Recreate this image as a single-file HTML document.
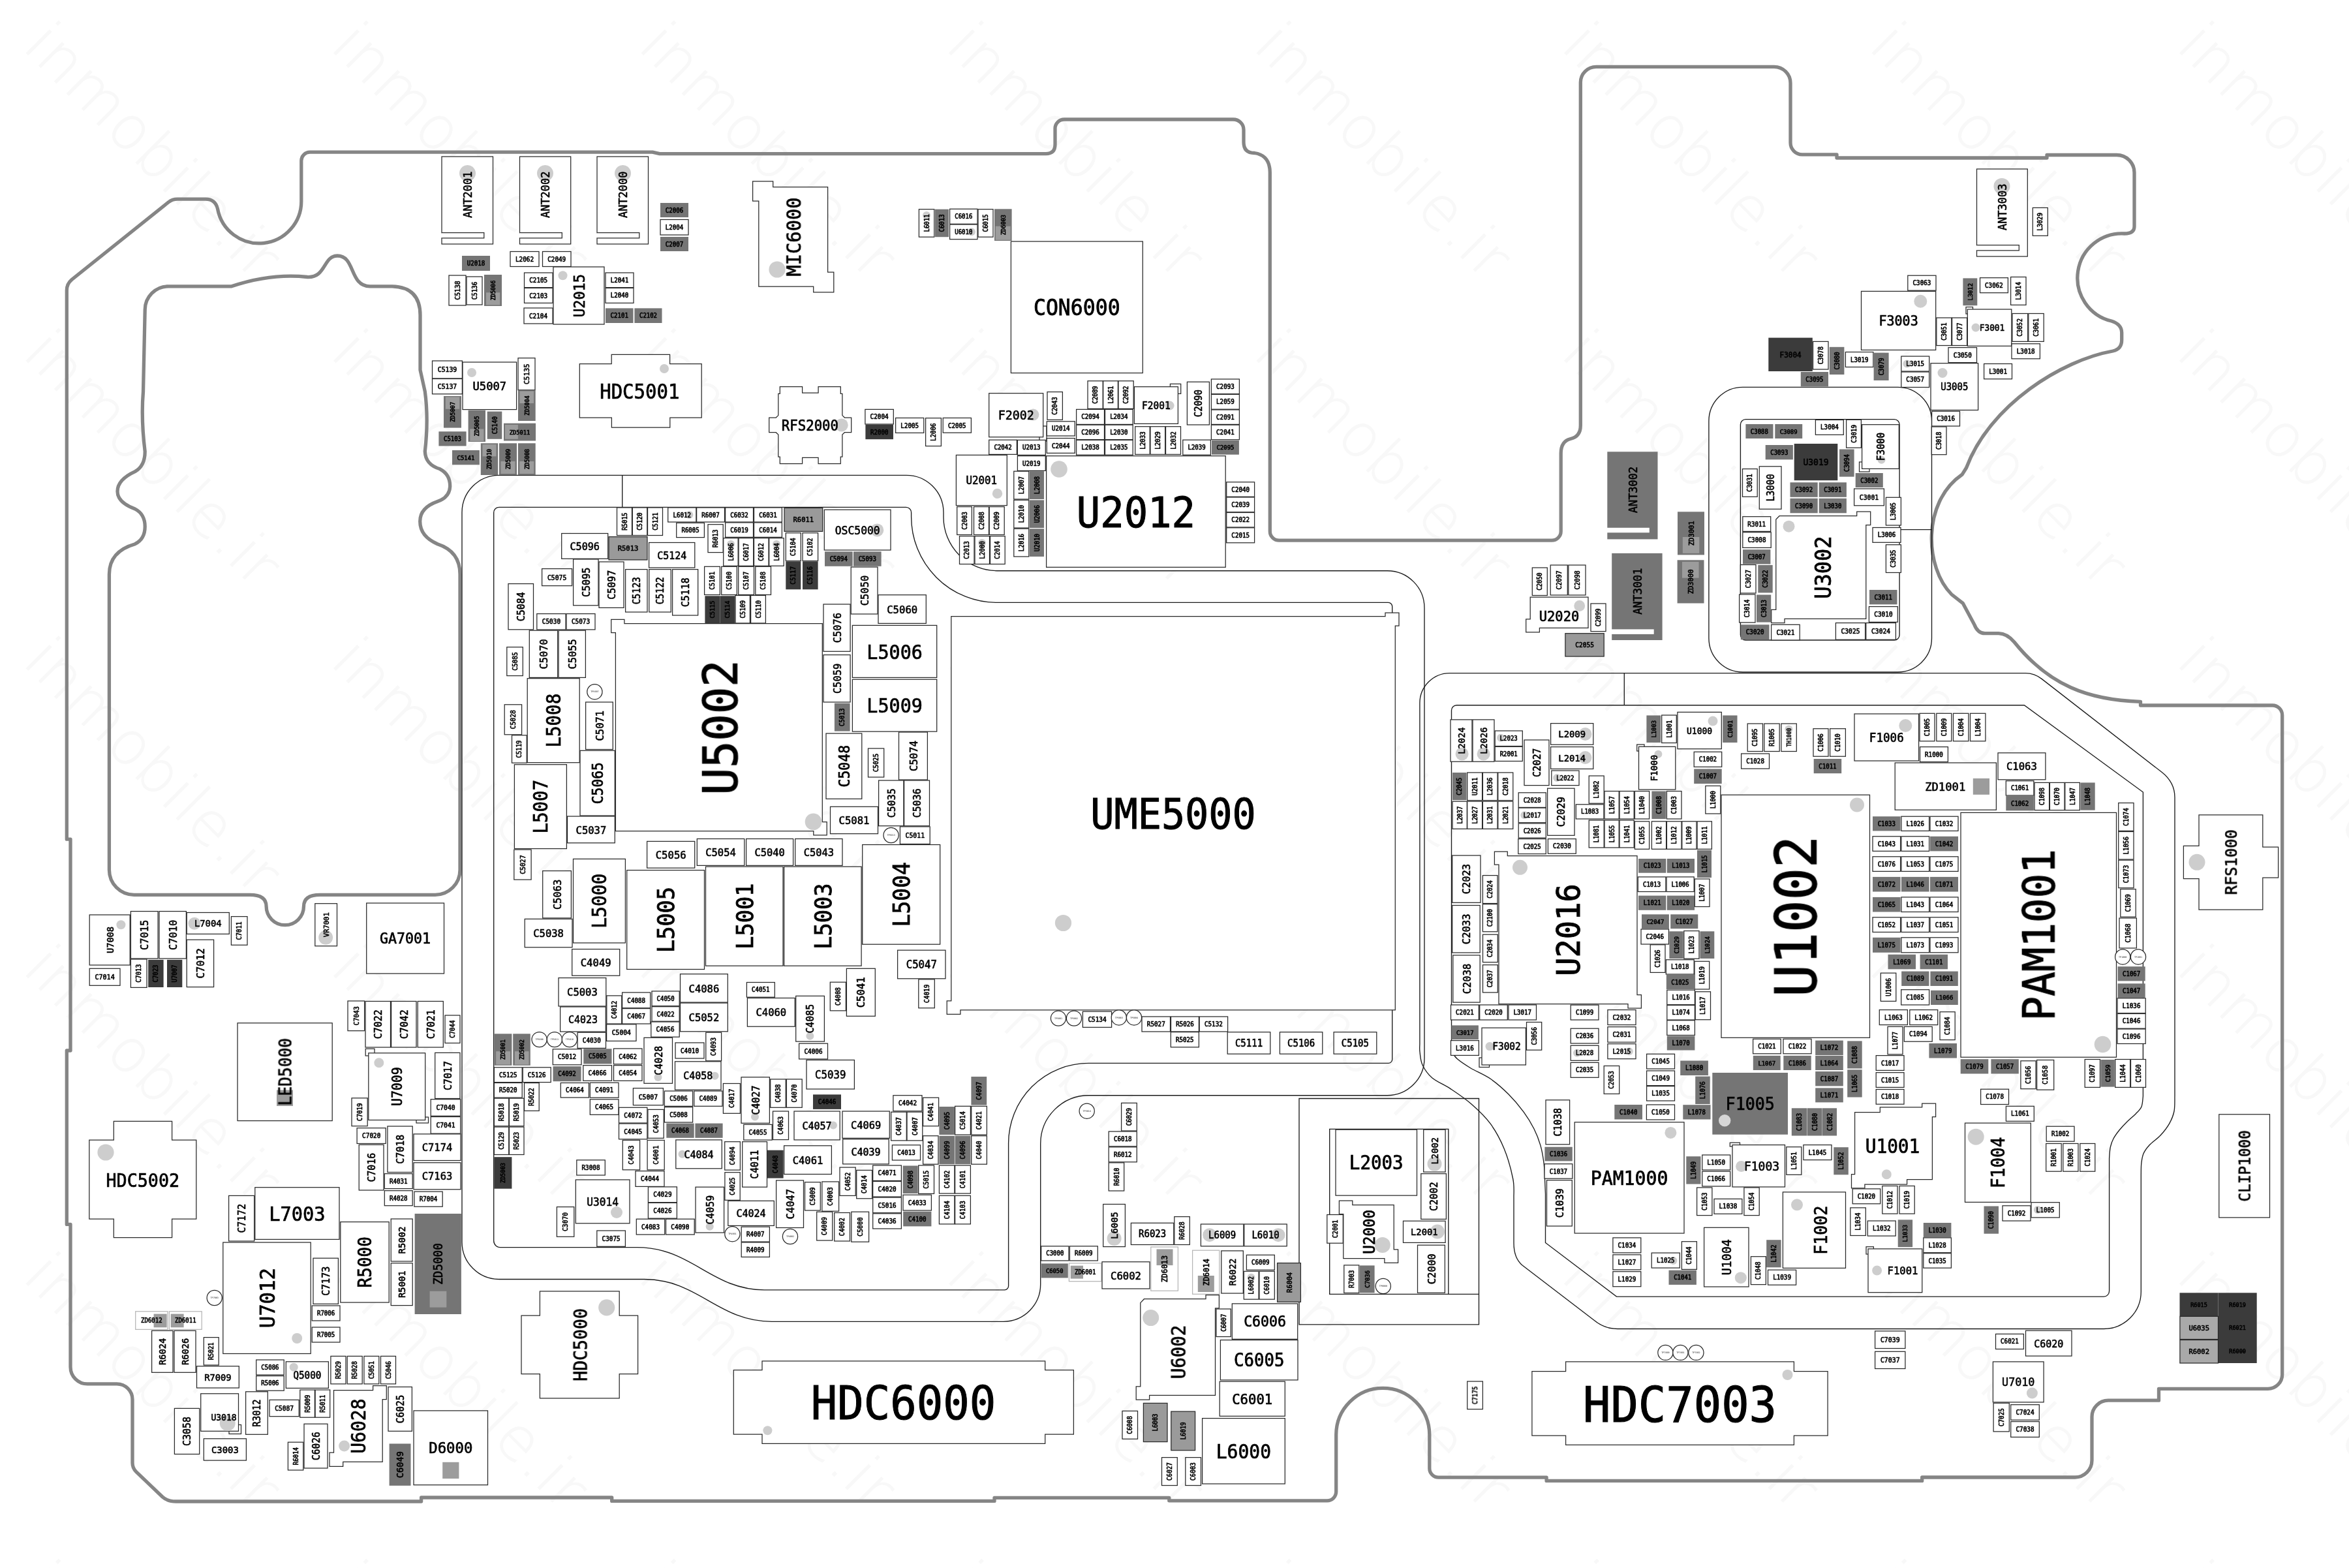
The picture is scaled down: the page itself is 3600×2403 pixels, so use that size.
<!DOCTYPE html><html><head><meta charset="utf-8"><title>board</title>
<style>html,body{margin:0;padding:0;background:#fff}svg{display:block}
.c rect,.c polygon,.c circle,.c path{stroke:#2a2a2a;stroke-width:1.25}
.c .n{stroke:none}.c .g{stroke:#b5b5b5}
.t text{font-family:DejaVu Sans Mono,Liberation Mono,monospace;fill:#000;stroke:#000;text-anchor:middle}
.tp text{font-family:DejaVu Sans Mono,Liberation Mono,monospace;fill:#222}
.wm text{font-family:DejaVu Sans Light,DejaVu Sans,Liberation Sans,sans-serif;font-weight:200;font-size:92px;fill:#f8f8f8;stroke:#f8f8f8;stroke-width:1}
.th path{fill:none;stroke:#1c1c1c;stroke-width:1.35}
.ol path{fill:none;stroke:#858585;stroke-width:5.3;stroke-linejoin:round}
</style></head><body>
<svg width="3600" height="2403" viewBox="0 0 3600 2403">
<rect width="3600" height="2403" fill="#fff"/>
<g class="wm">
<text transform="translate(33,74) rotate(45)" textLength="507" lengthAdjust="spacing">inmobile.ir</text>
<text transform="translate(504.5,74) rotate(45)" textLength="507" lengthAdjust="spacing">inmobile.ir</text>
<text transform="translate(976,74) rotate(45)" textLength="507" lengthAdjust="spacing">inmobile.ir</text>
<text transform="translate(1447.5,74) rotate(45)" textLength="507" lengthAdjust="spacing">inmobile.ir</text>
<text transform="translate(1919,74) rotate(45)" textLength="507" lengthAdjust="spacing">inmobile.ir</text>
<text transform="translate(2390.5,74) rotate(45)" textLength="507" lengthAdjust="spacing">inmobile.ir</text>
<text transform="translate(2862,74) rotate(45)" textLength="507" lengthAdjust="spacing">inmobile.ir</text>
<text transform="translate(3333.5,74) rotate(45)" textLength="507" lengthAdjust="spacing">inmobile.ir</text>
<text transform="translate(33,545.5) rotate(45)" textLength="507" lengthAdjust="spacing">inmobile.ir</text>
<text transform="translate(504.5,545.5) rotate(45)" textLength="507" lengthAdjust="spacing">inmobile.ir</text>
<text transform="translate(976,545.5) rotate(45)" textLength="507" lengthAdjust="spacing">inmobile.ir</text>
<text transform="translate(1447.5,545.5) rotate(45)" textLength="507" lengthAdjust="spacing">inmobile.ir</text>
<text transform="translate(1919,545.5) rotate(45)" textLength="507" lengthAdjust="spacing">inmobile.ir</text>
<text transform="translate(2390.5,545.5) rotate(45)" textLength="507" lengthAdjust="spacing">inmobile.ir</text>
<text transform="translate(2862,545.5) rotate(45)" textLength="507" lengthAdjust="spacing">inmobile.ir</text>
<text transform="translate(3333.5,545.5) rotate(45)" textLength="507" lengthAdjust="spacing">inmobile.ir</text>
<text transform="translate(33,1017) rotate(45)" textLength="507" lengthAdjust="spacing">inmobile.ir</text>
<text transform="translate(504.5,1017) rotate(45)" textLength="507" lengthAdjust="spacing">inmobile.ir</text>
<text transform="translate(976,1017) rotate(45)" textLength="507" lengthAdjust="spacing">inmobile.ir</text>
<text transform="translate(1447.5,1017) rotate(45)" textLength="507" lengthAdjust="spacing">inmobile.ir</text>
<text transform="translate(1919,1017) rotate(45)" textLength="507" lengthAdjust="spacing">inmobile.ir</text>
<text transform="translate(2390.5,1017) rotate(45)" textLength="507" lengthAdjust="spacing">inmobile.ir</text>
<text transform="translate(2862,1017) rotate(45)" textLength="507" lengthAdjust="spacing">inmobile.ir</text>
<text transform="translate(3333.5,1017) rotate(45)" textLength="507" lengthAdjust="spacing">inmobile.ir</text>
<text transform="translate(33,1488.5) rotate(45)" textLength="507" lengthAdjust="spacing">inmobile.ir</text>
<text transform="translate(504.5,1488.5) rotate(45)" textLength="507" lengthAdjust="spacing">inmobile.ir</text>
<text transform="translate(976,1488.5) rotate(45)" textLength="507" lengthAdjust="spacing">inmobile.ir</text>
<text transform="translate(1447.5,1488.5) rotate(45)" textLength="507" lengthAdjust="spacing">inmobile.ir</text>
<text transform="translate(1919,1488.5) rotate(45)" textLength="507" lengthAdjust="spacing">inmobile.ir</text>
<text transform="translate(2390.5,1488.5) rotate(45)" textLength="507" lengthAdjust="spacing">inmobile.ir</text>
<text transform="translate(2862,1488.5) rotate(45)" textLength="507" lengthAdjust="spacing">inmobile.ir</text>
<text transform="translate(3333.5,1488.5) rotate(45)" textLength="507" lengthAdjust="spacing">inmobile.ir</text>
<text transform="translate(33,1960) rotate(45)" textLength="507" lengthAdjust="spacing">inmobile.ir</text>
<text transform="translate(504.5,1960) rotate(45)" textLength="507" lengthAdjust="spacing">inmobile.ir</text>
<text transform="translate(976,1960) rotate(45)" textLength="507" lengthAdjust="spacing">inmobile.ir</text>
<text transform="translate(1447.5,1960) rotate(45)" textLength="507" lengthAdjust="spacing">inmobile.ir</text>
<text transform="translate(1919,1960) rotate(45)" textLength="507" lengthAdjust="spacing">inmobile.ir</text>
<text transform="translate(2390.5,1960) rotate(45)" textLength="507" lengthAdjust="spacing">inmobile.ir</text>
<text transform="translate(2862,1960) rotate(45)" textLength="507" lengthAdjust="spacing">inmobile.ir</text>
<text transform="translate(3333.5,1960) rotate(45)" textLength="507" lengthAdjust="spacing">inmobile.ir</text>
<text transform="translate(33,2431.5) rotate(45)" textLength="507" lengthAdjust="spacing">inmobile.ir</text>
<text transform="translate(504.5,2431.5) rotate(45)" textLength="507" lengthAdjust="spacing">inmobile.ir</text>
<text transform="translate(976,2431.5) rotate(45)" textLength="507" lengthAdjust="spacing">inmobile.ir</text>
<text transform="translate(1447.5,2431.5) rotate(45)" textLength="507" lengthAdjust="spacing">inmobile.ir</text>
<text transform="translate(1919,2431.5) rotate(45)" textLength="507" lengthAdjust="spacing">inmobile.ir</text>
<text transform="translate(2390.5,2431.5) rotate(45)" textLength="507" lengthAdjust="spacing">inmobile.ir</text>
<text transform="translate(2862,2431.5) rotate(45)" textLength="507" lengthAdjust="spacing">inmobile.ir</text>
<text transform="translate(3333.5,2431.5) rotate(45)" textLength="507" lengthAdjust="spacing">inmobile.ir</text>
</g>
<g class="ol"><path d="M475 233.2H1000L1011 235.6H1603Q1617 235.6 1617 221.6V197A14 14 0 0 1 1631 183H1890A16 16 0 0 1 1906 199V218Q1906 234.5 1922.6 234.5Q1946 238 1946.3 264V814.2A14 14 0 0 0 1960.3 828.2H2378.2A14 14 0 0 0 2392.2 814.2V695Q2392.2 676 2407 672.5Q2422.3 669 2422.3 652V126.3A24 24 0 0 1 2446.3 102.3H2719A25 25 0 0 1 2744 127.3V218.8A18 18 0 0 0 2762 236.8H2815V242H3137V237.5H3244A27 27 0 0 1 3271 264.5V347Q3271 358 3256 358A68 68 0 0 0 3236 492Q3251.7 497 3251.7 510V521Q3251.7 535 3238 538C3160 552 3050 620 3013.5 717L3007 727.3C2945 770 2950 870 2991 911L3008.4 924.7L3025.7 957Q3031 970.7 3042 970.7H3063Q3076 971 3087 984C3140 1050 3200 1073 3280.5 1075.3V1081H3482.7A15 15 0 0 1 3497.7 1096V2106.4A22 22 0 0 1 3475.7 2128.4H3308.5V2146.2H3231A25 25 0 0 0 3206 2171.2V2238A26 26 0 0 1 3180 2264H2945.7V2269.4H2370.1V2264.2H2205A14 14 0 0 1 2190.8 2250V2199A71.55 71.55 0 0 0 2047.7 2199V2286A13.8 13.8 0 0 1 2033.9 2299.8H1791.8V2295.4H1524V2300.4H937.7V2295H645.6V2301H270Q257 2301 249 2294L208.8 2255.7Q203 2250 203 2242V2145A24 24 0 0 0 179 2120.9H134A26 26 0 0 1 108 2094.9V1876.4H102.3V1610H108V1286.2H102.3V445Q102.3 435 110 428.5L258 310Q264 305.1 272 305.1H315Q330 305.1 333.5 320A64.7 64.7 0 0 0 461.8 306.8V246.2A13 13 0 0 1 474.8 233.2Z"/><path d="M222.2 475A36 36 0 0 1 258.2 438.8H354.9C390 427 430 420 471 424.5C500 426 495 392 517 392C545 392 535 438.8 567 438.8H601Q644 440 644 483V567L651.3 600Q657 642 651.3 692Q652 712 674.3 718.8Q690 727 689.7 745.6Q689 762 670.5 768.6Q643.7 778 643.7 799Q643.7 822 670.5 833.7Q705 845 705 880V1333.3A38 38 0 0 1 667 1371.3H490.4Q465.5 1371.3 465.5 1389A28.7 28.7 0 0 1 408.1 1389Q408.1 1371.3 383 1371.3H205.4A38 38 0 0 1 167.4 1333.3V880Q167.4 845 207 833.7Q222.2 826 222.2 807Q222.2 788 207 780Q180 770 180 753Q180 735 207 722.6Q222.2 714 222.2 692Q216 642 219.5 600Z"/></g>
<g class="th">
<path d="M708 785.3A57 57 0 0 1 765 728.3H1389A57 57 0 0 1 1446 785.3V793A82 82 0 0 0 1528 874.7H2126A57 57 0 0 1 2183 931.7V1621.7A57 57 0 0 1 2126 1678.7H1668.7A74 74 0 0 0 1594.7 1752.7V1968A57 57 0 0 1 1537.7 2025.3H1183C1100 2025.3 1070 1960.5 987.5 1960.5H765A57 57 0 0 1 708 1903.5Z"/>
<path d="M756.7 785.4A8 8 0 0 1 764.7 777.4H1388.6A8 8 0 0 1 1396.6 785.4V792A131.4 131.4 0 0 0 1528 923.4H2127.7A6 6 0 0 1 2133.7 929.4V1623.4A6 6 0 0 1 2127.7 1629.4H1668.3A122.7 122.7 0 0 0 1545.6 1752.1V1970.8A6 6 0 0 1 1539.6 1976.8H1171.5C1090 1976.8 1060 1911.6 976 1911.6H766.7A10 10 0 0 1 756.7 1901.6Z"/>
<path d="M953.7 728.3V777.4"/>
<path d="M2175.9 1600V1077.6A46 46 0 0 1 2221.9 1031.6H3104.2Q3118 1031.6 3129 1040.4L3313 1183.3Q3333 1199 3333 1222V1680C3332.8 1683.8 3333.4 1696 3332 1703C3330.6 1710 3328.2 1715.6 3324.7 1721.8C3321.2 1728 3316.1 1734.5 3311 1740C3305.9 1745.5 3298.3 1750.3 3294 1755C3289.7 1759.7 3287 1763.3 3285 1768C3283 1772.7 3282.4 1777.7 3281.8 1783C3281.2 1788.3 3281.4 1797.2 3281.3 1800V1979.5A57 57 0 0 1 3224.3 2036.5H2479Q2459 2036.5 2443 2023.3L2333 1939Q2320 1928 2320 1905V1835C2319.8 1830.2 2321.2 1819 2318.7 1806.5C2316.2 1794 2310.8 1774 2305 1760C2299.2 1746 2292.5 1733.5 2284.2 1722.2C2275.9 1710.9 2265.2 1700.9 2255 1692C2244.8 1683.1 2233 1675.3 2223 1668.6C2213 1661.9 2202.2 1658.1 2195 1652C2187.8 1645.9 2183.2 1638.7 2180 1632C2176.8 1625.3 2176.7 1617.3 2176 1612C2175.3 1606.7 2175.9 1602 2175.9 1600Z"/>
<path d="M2224.5 1598V1088.7A8 8 0 0 1 2232.5 1080.7H3102.3L3284.4 1214V1680C3284 1682.7 3283.8 1691.6 3282 1696C3280.2 1700.4 3277.3 1702.7 3273.6 1706.5C3269.9 1710.3 3264.3 1714.8 3260 1719C3255.7 1723.2 3251.5 1727.7 3248 1732C3244.5 1736.3 3241.3 1740.7 3239 1745C3236.7 1749.3 3235.4 1753 3234.3 1758C3233.2 1763 3232.9 1772.2 3232.6 1775V1978.6A8.5 8.5 0 0 1 3224.1 1987.1H2477.5L2368.5 1904.5V1830C2368.3 1826.1 2367.9 1814.5 2367.5 1806.5C2367.1 1798.5 2367.1 1790.5 2366 1782C2364.9 1773.5 2363.4 1764.1 2360.9 1755.4C2358.4 1746.7 2355.3 1738.5 2351 1730C2346.7 1721.5 2341.8 1713.1 2335.3 1704.3C2328.8 1695.5 2320.5 1685.5 2312 1677C2303.5 1668.5 2293.9 1660 2284.2 1653.3C2274.5 1646.6 2262.5 1642.1 2254 1637C2245.5 1631.9 2237.8 1626.8 2233.1 1622.6C2228.4 1618.4 2227.4 1616.1 2226 1612C2224.6 1607.9 2224.8 1600.3 2224.5 1598Z"/>
<path d="M2489.3 1031.6V1080.7"/>
<path d="M2618.9 645.3A52 52 0 0 1 2670.9 593.3H2908.5A52 52 0 0 1 2960.5 645.3V978A52 52 0 0 1 2908.5 1030H2670.9A52 52 0 0 1 2618.9 978Z"/>
<path d="M2667.4 650.6A8 8 0 0 1 2675.4 642.6H2903.1A8 8 0 0 1 2911.1 650.6V973A8 8 0 0 1 2903.1 981H2675.4A8 8 0 0 1 2667.4 973Z"/>
<path d="M2911.1 811.6H2960.5"/>
<path d="M1991 1683.5H2266.5V2029.8H1991Z"/>
<path d="M2037.7 1730.3H2219.8V1983.3H2037.7Z"/>
<path d="M2219.8 1983.3H2266.5"/>
</g>
<g class="c">
<rect x="1593" y="653" width="11" height="23" fill="#fff"/>
<rect x="1793.4" y="588.4" width="16.3" height="15" fill="#fff"/>
<rect x="3013" y="470.5" width="10.5" height="10.5" fill="#fff"/>
<rect x="2849.5" y="708" width="15.5" height="15" fill="#fff"/>
<rect x="2508.7" y="1141" width="11.3" height="10" fill="#fff"/>
<rect x="2267" y="1621" width="15.5" height="14.5" fill="#fff"/>
<rect x="2651.3" y="1751.2" width="15.2" height="5.8" fill="#fff"/>
<rect x="2860" y="1910.7" width="11.4" height="11.3" fill="#fff"/>
<rect x="560.2" y="1607.3" width="13.8" height="10.7" fill="#fff"/>
<rect x="638" y="1712" width="18.5" height="9" fill="#fff"/>
<rect x="351" y="2183.5" width="18.5" height="14" fill="#fff"/>
<polygon points="1153.6,277.8 1184.7,277.8 1184.7,286.6 1268.6,286.6 1268.6,417.2 1277.8,417.2 1277.8,447.9 1246.7,447.9 1246.7,439 1162.8,439 1162.8,308 1153.6,308" fill="#fff"/>
<polygon points="888.3,557.5 937.2,557.5 937.2,543.3 1026.6,543.3 1026.6,557.5 1075.2,557.5 1075.2,640.2 1026.8,640.2 1026.8,655 937.4,655 937.4,640.2 888.3,640.2" fill="#fff"/>
<polygon points="1195.3,592.7 1229.6,592.7 1229.6,602.1 1254.1,602.1 1254.1,592.7 1288.3,592.7 1288.3,603.4 1290.9,603.4 1290.9,636.6 1294.4,640 1304.7,640 1304.7,662.7 1294.4,662.7 1290.9,666 1290.9,700 1288.3,700 1288.3,710.7 1254.1,710.7 1254.1,701.3 1229.6,701.3 1229.6,710.7 1195.3,710.7 1195.3,700 1192.8,700 1192.8,666 1189.2,662.7 1178.7,662.7 1178.7,640 1189.2,640 1192.8,636.6 1192.8,603.4 1195.3,603.4" fill="#fff"/>
<polygon points="936.7,949.3 956.9,949.3 956.9,955.7 1260.3,955.7 1260.3,1259.6 1267.2,1259.6 1267.2,1279.8 1246.8,1279.8 1246.8,1273.7 943.4,1273.7 943.4,969.5 936.7,969.5" fill="#fff"/>
<polygon points="1457.8,944.6 2123,944.6 2123,939 2144,939 2144,959.2 2138.3,959.2 2138.3,1547.9 1471.9,1547.9 1471.9,1554.3 1451.2,1554.3 1451.2,1533.8 1457.8,1533.8" fill="#fff"/>
<polygon points="2290.4,1305.2 2310.3,1305.2 2310.3,1311.7 2509,1311.7 2509,1524.6 2515.4,1524.6 2515.4,1545 2495,1545 2495,1538.7 2297,1538.7 2297,1325 2290.4,1325" fill="#fff"/>
<polygon points="2727,790.7 2845.7,790.7 2845.7,784 2866.7,784 2866.7,804.5 2859.8,804.5 2859.8,948.3 2735,948.3 2735,954.7 2714.7,954.7 2714.7,934.3 2721.8,934.3 2721.8,796" fill="#fff"/>
<polygon points="2345.2,915 2434,915 2434,962.3 2359.4,962.3 2359.4,968.8 2338.7,968.8 2338.7,948.9 2345.2,948.9" fill="#fff"/>
<polygon points="2052.4,1840 2072.8,1840 2072.8,1846.7 2136.2,1846.7 2136.2,1914.9 2142.6,1914.9 2142.6,1935.3 2121.9,1935.3 2121.9,1928.7 2058.8,1928.7 2058.8,1860.7 2052.4,1860.7" fill="#fff"/>
<polygon points="1747.8,1996.6 1753.4,1990.7 1848,1990.7 1848,1984.6 1868.4,1984.6 1868.4,2004.8 1862.5,2004.8 1862.5,2138.4 1761.6,2138.4 1761.6,2145 1741.2,2145 1741.2,2124.8 1747.8,2124.8" fill="#fff"/>
<polygon points="511.5,2130.5 571.6,2130.5 571.6,2123.6 592.3,2123.6 592.3,2144.6 586.2,2144.6 586.2,2240.4 525.7,2240.4 525.7,2247.3 505,2247.3 505,2226.2 511.5,2226.2" fill="#fff"/>
<polygon points="2842.6,1704.5 2881.3,1704.5 2881.3,1696.8 2945.7,1696.8 2945.7,1691.2 2966.6,1691.2 2966.6,1711.6 2961.4,1711.6 2961.4,1807.6 2922.6,1807.6 2922.6,1815.1 2857.9,1815.1 2857.9,1820.9 2837.5,1820.9 2837.5,1799.5 2842.6,1799.5" fill="#fff"/>
<polygon points="174.3,1718.4 263.6,1718.4 263.6,1747 300.8,1747 300.8,1868 263.6,1868 263.6,1896.7 174.3,1896.7 174.3,1868 136.8,1868 136.8,1747 174.3,1747" fill="#fff"/>
<polygon points="827.4,1978.9 949.2,1978.9 949.2,2016 977.6,2016 977.6,2105.7 949.2,2105.7 949.2,2142.9 827.4,2142.9 827.4,2105.7 799,2105.7 799,2016 827.4,2016" fill="#fff"/>
<polygon points="1168,2085.8 1601.7,2085.8 1601.7,2099.6 1645.4,2099.6 1645.4,2198 1601.7,2198 1601.7,2212.3 1168,2212.3 1168,2198 1124.3,2198 1124.3,2099.6 1168,2099.6" fill="#fff"/>
<polygon points="2399.6,2086.8 2749.4,2086.8 2749.4,2101.7 2801.1,2101.7 2801.1,2200.2 2749.4,2200.2 2749.4,2214.4 2399.6,2214.4 2399.6,2200.2 2347.9,2200.2 2347.9,2101.7 2399.6,2101.7" fill="#fff"/>
<polygon points="3370,1248.9 3467.8,1248.9 3467.8,1298 3491.6,1298 3491.6,1345 3467.8,1345 3467.8,1394 3370,1394 3370,1346.6 3346.4,1346.6 3346.4,1296.4 3370,1296.4" fill="#fff"/>
<rect x="677" y="240" width="78.5" height="134" fill="#ffffff"/>
<rect x="796.5" y="240" width="78.2" height="134" fill="#ffffff"/>
<rect x="915" y="240" width="78.5" height="134" fill="#ffffff"/>
<rect x="708" y="392" width="43" height="23" fill="#757575" class="n"/>
<rect x="782" y="385.5" width="44" height="23" fill="#ffffff"/>
<rect x="831.5" y="385.5" width="43.5" height="23" fill="#ffffff"/>
<rect x="688" y="422" width="26" height="46" fill="#ffffff"/>
<rect x="715" y="424" width="24" height="43" fill="#ffffff"/>
<rect x="742" y="421" width="27" height="48" fill="#757575" class="n"/>
<rect x="745" y="448.3" width="21.3" height="19.1" fill="#9c9c9c" class="n"/>
<rect x="803.5" y="418" width="43.5" height="22.6" fill="#ffffff"/>
<rect x="803.5" y="441.4" width="43.5" height="23" fill="#ffffff"/>
<rect x="803" y="472" width="44" height="24" fill="#ffffff"/>
<rect x="848" y="409" width="78" height="88" fill="#ffffff"/>
<rect x="1012" y="311" width="43" height="22" fill="#757575" class="n"/>
<rect x="1012" y="336.5" width="43" height="23.5" fill="#ffffff"/>
<rect x="1012" y="363" width="43" height="22" fill="#757575" class="n"/>
<rect x="928" y="418" width="43" height="22.6" fill="#ffffff"/>
<rect x="928" y="441.4" width="43" height="23" fill="#ffffff"/>
<rect x="928" y="472.4" width="42.5" height="22.6" fill="#757575" class="n"/>
<rect x="972.4" y="472.4" width="42.1" height="22.6" fill="#757575" class="n"/>
<rect x="662.5" y="553" width="45.9" height="27" fill="#ffffff"/>
<rect x="662.5" y="580.5" width="45.9" height="23.3" fill="#ffffff"/>
<rect x="709" y="555" width="82.6" height="72.6" fill="#ffffff"/>
<rect x="794" y="548.7" width="26" height="49" fill="#ffffff"/>
<rect x="680" y="607" width="27" height="48.6" fill="#757575" class="n"/>
<rect x="682.8" y="608.4" width="21.4" height="18.4" fill="#9c9c9c" class="n"/>
<rect x="794" y="598" width="26.7" height="47" fill="#757575" class="n"/>
<rect x="796.5" y="599.5" width="21.5" height="18.5" fill="#9c9c9c" class="n"/>
<rect x="717.6" y="628.7" width="26.4" height="48.3" fill="#757575" class="n"/>
<rect x="720.3" y="657.5" width="21.1" height="18.4" fill="#9c9c9c" class="n"/>
<rect x="746.7" y="630.6" width="22.6" height="42.2" fill="#757575" class="n"/>
<rect x="772" y="648.7" width="49" height="26.8" fill="#757575" class="n"/>
<rect x="774" y="651" width="19.9" height="21.8" fill="#9c9c9c" class="n"/>
<rect x="672.4" y="661.3" width="42.2" height="22.2" fill="#757575" class="n"/>
<rect x="693" y="690" width="41.9" height="22.3" fill="#757575" class="n"/>
<rect x="736.8" y="679.3" width="26.4" height="48.7" fill="#757575" class="n"/>
<rect x="739.5" y="681.2" width="21" height="18.2" fill="#9c9c9c" class="n"/>
<rect x="765" y="679.3" width="27" height="48.7" fill="#757575" class="n"/>
<rect x="767.5" y="707" width="22" height="19" fill="#9c9c9c" class="n"/>
<rect x="793.9" y="679.3" width="26.8" height="48.7" fill="#757575" class="n"/>
<rect x="796.3" y="707" width="22" height="19" fill="#9c9c9c" class="n"/>
<rect x="1408.4" y="320.7" width="23.4" height="42.5" fill="#ffffff"/>
<rect x="1433" y="320.7" width="21" height="42.5" fill="#757575" class="n"/>
<rect x="1455.6" y="320.3" width="42.4" height="23" fill="#ffffff"/>
<rect x="1455.6" y="344" width="42.4" height="22.7" fill="#ffffff"/>
<rect x="1499" y="320.7" width="23" height="42.5" fill="#ffffff"/>
<rect x="1524" y="320.3" width="26.6" height="48.7" fill="#757575" class="n"/>
<rect x="1525.7" y="346.7" width="23" height="21.1" fill="#9c9c9c" class="n"/>
<rect x="1549.4" y="370" width="201.9" height="201.6" fill="#ffffff"/>
<rect x="1325.9" y="627.4" width="43.4" height="22.6" fill="#ffffff"/>
<rect x="1326.4" y="650.7" width="42.6" height="22.5" fill="#3b3b3b" class="n"/>
<rect x="1372.6" y="640.5" width="43.2" height="22.9" fill="#ffffff"/>
<rect x="1418.6" y="640.7" width="23.8" height="42.9" fill="#ffffff"/>
<rect x="1445.2" y="640.5" width="43.2" height="22.7" fill="#ffffff"/>
<rect x="1515.7" y="602.7" width="83" height="67.1" fill="#ffffff"/>
<rect x="1605" y="600.6" width="23.4" height="42.7" fill="#ffffff"/>
<rect x="1604.3" y="645.8" width="43" height="22.2" fill="#ffffff"/>
<rect x="1604.3" y="671.6" width="43" height="22.8" fill="#ffffff"/>
<rect x="1515.7" y="674.2" width="42.7" height="22.2" fill="#ffffff"/>
<rect x="1559.4" y="674.4" width="42.9" height="23" fill="#ffffff"/>
<rect x="1559.4" y="698.7" width="42.9" height="22.7" fill="#ffffff"/>
<rect x="1465.4" y="697.4" width="77.9" height="77.2" fill="#ffffff"/>
<rect x="1466.7" y="776.6" width="22.7" height="42.9" fill="#ffffff"/>
<rect x="1492.5" y="776.6" width="23" height="42.9" fill="#ffffff"/>
<rect x="1516.2" y="776.6" width="23" height="42.9" fill="#ffffff"/>
<rect x="1470.5" y="821.6" width="22.5" height="42.9" fill="#ffffff"/>
<rect x="1494" y="821.6" width="22.5" height="42.9" fill="#ffffff"/>
<rect x="1517.5" y="821.6" width="22.7" height="42.9" fill="#ffffff"/>
<rect x="1553.8" y="722.2" width="23" height="42.8" fill="#ffffff"/>
<rect x="1578" y="722.2" width="22" height="42.8" fill="#757575" class="n"/>
<rect x="1553.8" y="766.4" width="23" height="42.6" fill="#ffffff"/>
<rect x="1578" y="766.4" width="22" height="42.6" fill="#757575" class="n"/>
<rect x="1553.8" y="810.3" width="23" height="42.7" fill="#ffffff"/>
<rect x="1578" y="810.3" width="22" height="42.7" fill="#757575" class="n"/>
<rect x="1603.6" y="698.7" width="274.6" height="170.6" fill="#ffffff"/>
<rect x="1667" y="583.8" width="23.2" height="42.6" fill="#ffffff"/>
<rect x="1690.7" y="583.8" width="22.7" height="42.6" fill="#ffffff"/>
<rect x="1714" y="583.8" width="23.2" height="42.6" fill="#ffffff"/>
<rect x="1649.6" y="627.4" width="42.9" height="23" fill="#ffffff"/>
<rect x="1693.5" y="627.4" width="42.7" height="23" fill="#ffffff"/>
<rect x="1649.6" y="651.2" width="42.9" height="22.5" fill="#ffffff"/>
<rect x="1693.5" y="651.2" width="42.7" height="22.5" fill="#ffffff"/>
<rect x="1649.6" y="674.4" width="42.9" height="22.8" fill="#ffffff"/>
<rect x="1693.5" y="674.4" width="42.7" height="22.8" fill="#ffffff"/>
<rect x="1738.4" y="592.7" width="67" height="56.7" fill="#ffffff"/>
<rect x="1739.7" y="653.7" width="22.5" height="42.7" fill="#ffffff"/>
<rect x="1763" y="653.7" width="22.7" height="42.7" fill="#ffffff"/>
<rect x="1786.5" y="653.7" width="23" height="42.7" fill="#ffffff"/>
<rect x="1819.4" y="585.3" width="34" height="65.7" fill="#ffffff"/>
<rect x="1812.8" y="674.2" width="42.6" height="23" fill="#ffffff"/>
<rect x="1856.4" y="581" width="43" height="22.7" fill="#ffffff"/>
<rect x="1856.4" y="604.4" width="43" height="22.8" fill="#ffffff"/>
<rect x="1856.4" y="628" width="43" height="22.4" fill="#ffffff"/>
<rect x="1856.4" y="651.2" width="43" height="22.5" fill="#ffffff"/>
<rect x="1857" y="675" width="41.9" height="21.7" fill="#757575" class="n"/>
<rect x="1879.7" y="738.8" width="42.9" height="22.5" fill="#ffffff"/>
<rect x="1879.7" y="762" width="42.9" height="22.8" fill="#ffffff"/>
<rect x="1879.7" y="785.5" width="42.9" height="22.5" fill="#ffffff"/>
<rect x="1879.7" y="808.8" width="42.9" height="23" fill="#ffffff"/>
<rect x="3029.5" y="259" width="77.8" height="134" fill="#ffffff"/>
<rect x="3115.3" y="318.4" width="23" height="42.9" fill="#ffffff"/>
<rect x="2923.8" y="422.2" width="43.2" height="23" fill="#ffffff"/>
<rect x="2852.5" y="446.4" width="114.2" height="90" fill="#ffffff"/>
<rect x="3008.4" y="426.4" width="21.9" height="41.8" fill="#757575" class="n"/>
<rect x="3034.5" y="425.7" width="42.9" height="23" fill="#ffffff"/>
<rect x="3081.6" y="424.5" width="23.4" height="42.9" fill="#ffffff"/>
<rect x="3015.3" y="474" width="67.5" height="56.3" fill="#ffffff"/>
<rect x="2967.8" y="487" width="23" height="42.5" fill="#ffffff"/>
<rect x="2991.6" y="487" width="23" height="42.5" fill="#ffffff"/>
<rect x="3084" y="480.5" width="23.7" height="42.9" fill="#ffffff"/>
<rect x="3108.8" y="480.5" width="23.4" height="42.9" fill="#ffffff"/>
<rect x="3083" y="526.8" width="43.4" height="23" fill="#ffffff"/>
<rect x="2986" y="532.6" width="43.5" height="23" fill="#ffffff"/>
<rect x="3040.6" y="557.5" width="42.9" height="23.3" fill="#ffffff"/>
<rect x="2710.3" y="517.6" width="67.5" height="51.4" fill="#3b3b3b" class="n"/>
<rect x="2778.5" y="523.4" width="23.5" height="42.6" fill="#ffffff"/>
<rect x="2803.8" y="531.8" width="22.6" height="42.2" fill="#757575" class="n"/>
<rect x="2828.4" y="539.5" width="42.5" height="23" fill="#ffffff"/>
<rect x="2871.6" y="540.6" width="23" height="42.4" fill="#757575" class="n"/>
<rect x="2913.8" y="546" width="42.9" height="23" fill="#ffffff"/>
<rect x="2913.8" y="570" width="42.9" height="23.5" fill="#ffffff"/>
<rect x="2959" y="556.7" width="72.6" height="71.8" fill="#ffffff"/>
<rect x="2759.8" y="570" width="42.2" height="22.3" fill="#757575" class="n"/>
<rect x="2960.6" y="630.3" width="42.9" height="22.7" fill="#ffffff"/>
<rect x="2960.3" y="654" width="22.7" height="42.7" fill="#ffffff"/>
<rect x="2675.4" y="650" width="42.1" height="22" fill="#757575" class="n"/>
<rect x="2720.3" y="650" width="41.9" height="22" fill="#757575" class="n"/>
<rect x="2782.4" y="643.5" width="42.9" height="22.8" fill="#ffffff"/>
<rect x="2829.6" y="643.3" width="22.8" height="42.9" fill="#ffffff"/>
<rect x="2853.6" y="650.7" width="56.7" height="67.7" fill="#ffffff"/>
<rect x="2705.7" y="682" width="42.2" height="22.3" fill="#757575" class="n"/>
<rect x="2749.7" y="680" width="66.6" height="56.2" fill="#3b3b3b" class="n"/>
<rect x="2819" y="688.5" width="22.6" height="42.1" fill="#757575" class="n"/>
<rect x="2670.5" y="718.6" width="22.7" height="42.7" fill="#ffffff"/>
<rect x="2696.3" y="714.8" width="33.7" height="65.4" fill="#ffffff"/>
<rect x="2843.7" y="725" width="42.1" height="22" fill="#757575" class="n"/>
<rect x="2841.6" y="749" width="45.8" height="25.8" fill="#ffffff"/>
<rect x="2743.5" y="739.3" width="42.2" height="22.5" fill="#757575" class="n"/>
<rect x="2787.7" y="739.3" width="42.2" height="22.5" fill="#757575" class="n"/>
<rect x="2743.5" y="763.8" width="42.2" height="22.5" fill="#757575" class="n"/>
<rect x="2787.7" y="763.8" width="42.2" height="22.5" fill="#757575" class="n"/>
<rect x="2890.4" y="762.3" width="23" height="42.7" fill="#ffffff"/>
<rect x="2670.8" y="791.7" width="42.9" height="22.7" fill="#ffffff"/>
<rect x="2670.8" y="815.7" width="43.4" height="23.7" fill="#ffffff"/>
<rect x="2671" y="842.2" width="42.4" height="22.3" fill="#757575" class="n"/>
<rect x="2667.4" y="865.5" width="23.6" height="43.5" fill="#ffffff"/>
<rect x="2694.3" y="866" width="22.4" height="42.4" fill="#757575" class="n"/>
<rect x="2665.6" y="911" width="24.4" height="43" fill="#ffffff"/>
<rect x="2692" y="911.5" width="22.2" height="42.1" fill="#757575" class="n"/>
<rect x="2870" y="808.5" width="43" height="22.8" fill="#ffffff"/>
<rect x="2890.4" y="834.8" width="23" height="42.7" fill="#ffffff"/>
<rect x="2865" y="904" width="42.5" height="22.3" fill="#757575" class="n"/>
<rect x="2864.4" y="929.6" width="43.9" height="23.8" fill="#ffffff"/>
<rect x="2667.8" y="957.3" width="43.7" height="23" fill="#757575" class="n"/>
<rect x="2714.6" y="957.3" width="43.6" height="23.7" fill="#ffffff"/>
<rect x="2813.4" y="954.6" width="45.2" height="25.7" fill="#ffffff"/>
<rect x="2859.8" y="954.6" width="45.6" height="25.7" fill="#ffffff"/>
<rect x="2463.3" y="692.3" width="77.2" height="134.1" fill="#757575" class="n"/>
<rect x="2470.2" y="847.9" width="77.4" height="133.1" fill="#757575" class="n"/>
<rect x="2571" y="784.3" width="41" height="66.1" fill="#757575" class="n"/>
<rect x="2578.8" y="823" width="25.5" height="24.9" fill="#9c9c9c" class="n"/>
<rect x="2570.6" y="858.3" width="40.9" height="66.2" fill="#757575" class="n"/>
<rect x="2578" y="861" width="25.6" height="24.7" fill="#9c9c9c" class="n"/>
<rect x="2348.3" y="870" width="23" height="42.5" fill="#ffffff"/>
<rect x="2376.2" y="866" width="26.1" height="46" fill="#ffffff"/>
<rect x="2403.8" y="866" width="26.2" height="46" fill="#ffffff"/>
<rect x="2438" y="925" width="23" height="42.6" fill="#ffffff"/>
<rect x="2398.9" y="970.7" width="59.3" height="35.3" fill="#9a9a9a"/>
<rect x="945.5" y="777.9" width="23" height="42.6" fill="#ffffff"/>
<rect x="969.3" y="777.9" width="22.5" height="42.6" fill="#ffffff"/>
<rect x="992.5" y="777.9" width="23" height="42.6" fill="#ffffff"/>
<rect x="1023.7" y="777.9" width="43.2" height="22.1" fill="#ffffff"/>
<rect x="1067.6" y="777.9" width="42.9" height="22.1" fill="#ffffff"/>
<rect x="1111.6" y="777.9" width="42.9" height="22.1" fill="#ffffff"/>
<rect x="1155.5" y="777.9" width="42.9" height="22.1" fill="#ffffff"/>
<rect x="1036.7" y="801.4" width="42.7" height="22.2" fill="#ffffff"/>
<rect x="1085" y="803.7" width="23.2" height="42.9" fill="#ffffff"/>
<rect x="1111.6" y="800.9" width="42.9" height="22.4" fill="#ffffff"/>
<rect x="1155.5" y="800.9" width="42.9" height="22.4" fill="#ffffff"/>
<rect x="1108.7" y="824.6" width="22.5" height="42.7" fill="#ffffff"/>
<rect x="1132" y="824.6" width="22.7" height="42.7" fill="#ffffff"/>
<rect x="1155.5" y="824.6" width="22.5" height="42.7" fill="#ffffff"/>
<rect x="1178.7" y="824.6" width="22.5" height="42.7" fill="#ffffff"/>
<rect x="1202" y="778.4" width="58.7" height="36" fill="#9a9a9a"/>
<rect x="1204.3" y="816.7" width="23" height="42.9" fill="#ffffff"/>
<rect x="1230" y="816.7" width="23.6" height="42.9" fill="#ffffff"/>
<rect x="1204.3" y="860.4" width="23" height="42.9" fill="#3b3b3b" class="n"/>
<rect x="1230" y="860.4" width="23.6" height="42.9" fill="#3b3b3b" class="n"/>
<rect x="1263.3" y="781.2" width="101.7" height="61.8" fill="#ffffff"/>
<rect x="1264" y="845.3" width="42.7" height="22.5" fill="#757575" class="n"/>
<rect x="1308" y="845.3" width="42.6" height="22.5" fill="#757575" class="n"/>
<rect x="1304.2" y="869" width="40.8" height="72" fill="#ffffff"/>
<rect x="1346" y="911.7" width="73.3" height="43.7" fill="#ffffff"/>
<rect x="1262" y="926" width="41.1" height="72.3" fill="#ffffff"/>
<rect x="860.7" y="817.5" width="71" height="38.8" fill="#ffffff"/>
<rect x="933" y="822.6" width="59" height="35.4" fill="#9a9a9a"/>
<rect x="994.6" y="831.5" width="70.2" height="38.5" fill="#ffffff"/>
<rect x="878.6" y="857" width="38.4" height="70.8" fill="#ffffff"/>
<rect x="918" y="861" width="38" height="70.4" fill="#ffffff"/>
<rect x="958.6" y="872.6" width="33.4" height="65.4" fill="#ffffff"/>
<rect x="994.8" y="872.6" width="33.5" height="65.4" fill="#ffffff"/>
<rect x="1030.6" y="872.6" width="39.1" height="70.4" fill="#ffffff"/>
<rect x="1079.6" y="868.3" width="23.8" height="43.2" fill="#ffffff"/>
<rect x="1105.7" y="868.3" width="23.7" height="43.2" fill="#ffffff"/>
<rect x="1131.7" y="868.3" width="23.8" height="43.2" fill="#ffffff"/>
<rect x="1157.8" y="868.3" width="23.7" height="43.2" fill="#ffffff"/>
<rect x="1080.4" y="913.3" width="23" height="41.7" fill="#3b3b3b" class="n"/>
<rect x="1103.4" y="913.3" width="23" height="41.7" fill="#3b3b3b" class="n"/>
<rect x="1127" y="912.5" width="22.4" height="42.5" fill="#ffffff"/>
<rect x="1150.6" y="912.5" width="22.8" height="42.5" fill="#ffffff"/>
<rect x="830.6" y="871.6" width="46" height="26.1" fill="#ffffff"/>
<rect x="779" y="894.6" width="38.5" height="70.2" fill="#ffffff"/>
<rect x="822.8" y="940.6" width="44.2" height="24.3" fill="#ffffff"/>
<rect x="868" y="940.6" width="44" height="24.3" fill="#ffffff"/>
<rect x="811.3" y="966.2" width="43.4" height="72.2" fill="#ffffff"/>
<rect x="856" y="966.2" width="41.4" height="72.2" fill="#ffffff"/>
<rect x="776.8" y="991.7" width="24.5" height="43.9" fill="#ffffff"/>
<rect x="808.2" y="1039.7" width="80" height="129" fill="#ffffff"/>
<rect x="773.2" y="1079.8" width="26.4" height="46" fill="#ffffff"/>
<rect x="784.5" y="1126.8" width="22.7" height="42.4" fill="#ffffff"/>
<rect x="897.6" y="1076" width="41.7" height="72.5" fill="#ffffff"/>
<rect x="889" y="1150.3" width="53.3" height="99.7" fill="#ffffff"/>
<rect x="788.4" y="1171.7" width="80" height="128.9" fill="#ffffff"/>
<rect x="869.5" y="1251" width="72.8" height="40.8" fill="#ffffff"/>
<rect x="1262" y="1003.6" width="41.1" height="72.4" fill="#ffffff"/>
<rect x="1278.9" y="1077.7" width="23.7" height="42.9" fill="#757575" class="n"/>
<rect x="1266" y="1124" width="54.8" height="100.3" fill="#ffffff"/>
<rect x="1272.5" y="1236.3" width="73" height="41.4" fill="#ffffff"/>
<rect x="1330.5" y="1147" width="24.2" height="44" fill="#ffffff"/>
<rect x="1306.4" y="958.4" width="129.3" height="80" fill="#ffffff"/>
<rect x="1306.4" y="1041.2" width="129.3" height="79.9" fill="#ffffff"/>
<rect x="1377.5" y="1122" width="43.9" height="73" fill="#ffffff"/>
<rect x="1346.6" y="1196" width="38.3" height="69.7" fill="#ffffff"/>
<rect x="1385.6" y="1196" width="38.9" height="69.7" fill="#ffffff"/>
<rect x="1379.4" y="1266.9" width="45.8" height="26.6" fill="#ffffff"/>
<rect x="787.8" y="1302.1" width="26.3" height="46" fill="#ffffff"/>
<rect x="831.7" y="1334.6" width="43.7" height="72.3" fill="#ffffff"/>
<rect x="804.2" y="1408.4" width="72.8" height="43.4" fill="#ffffff"/>
<rect x="878.5" y="1316.4" width="79.9" height="128.6" fill="#ffffff"/>
<rect x="991.6" y="1289.4" width="73.1" height="40.8" fill="#ffffff"/>
<rect x="1068.3" y="1285.5" width="72.5" height="40.9" fill="#ffffff"/>
<rect x="1143.6" y="1285.5" width="72" height="40.9" fill="#ffffff"/>
<rect x="1218.7" y="1285.5" width="72.3" height="40.9" fill="#ffffff"/>
<rect x="960.7" y="1333.6" width="118.8" height="151.9" fill="#ffffff"/>
<rect x="1081.5" y="1328.2" width="118.5" height="152" fill="#ffffff"/>
<rect x="1201.6" y="1328.2" width="118.5" height="152" fill="#ffffff"/>
<rect x="1321.7" y="1294.5" width="119" height="152.7" fill="#ffffff"/>
<rect x="876.7" y="1454.6" width="73" height="40.6" fill="#ffffff"/>
<rect x="856" y="1498.6" width="72.8" height="43.4" fill="#ffffff"/>
<rect x="858.6" y="1543" width="69.7" height="38" fill="#ffffff"/>
<rect x="929.8" y="1525.9" width="23" height="43.1" fill="#ffffff"/>
<rect x="953.6" y="1521" width="43.1" height="23.8" fill="#ffffff"/>
<rect x="953.6" y="1545.6" width="43.1" height="23.4" fill="#ffffff"/>
<rect x="999" y="1519" width="42.2" height="22.7" fill="#ffffff"/>
<rect x="999" y="1542.7" width="42.2" height="22.5" fill="#ffffff"/>
<rect x="997.8" y="1566" width="43.4" height="23.2" fill="#ffffff"/>
<rect x="1042.5" y="1492.7" width="72.8" height="43.4" fill="#ffffff"/>
<rect x="1042.5" y="1537.1" width="72.8" height="43.7" fill="#ffffff"/>
<rect x="929.6" y="1569.8" width="45.4" height="25.6" fill="#ffffff"/>
<rect x="885.1" y="1582.3" width="43.4" height="24.1" fill="#ffffff"/>
<rect x="847.3" y="1607.8" width="43.7" height="24" fill="#ffffff"/>
<rect x="894.3" y="1607.3" width="43.2" height="23.1" fill="#757575" class="n"/>
<rect x="940.5" y="1607" width="43.5" height="23.8" fill="#ffffff"/>
<rect x="847.5" y="1634.2" width="43.1" height="23" fill="#757575" class="n"/>
<rect x="893.8" y="1632.7" width="43.7" height="23.6" fill="#ffffff"/>
<rect x="940.5" y="1632.7" width="43.5" height="23.6" fill="#ffffff"/>
<rect x="757.3" y="1635.8" width="42.9" height="22.8" fill="#ffffff"/>
<rect x="801.2" y="1635.8" width="43" height="22.8" fill="#ffffff"/>
<rect x="757.5" y="1584.3" width="26.9" height="48.5" fill="#757575" class="n"/>
<rect x="760.2" y="1611.2" width="21.8" height="20.4" fill="#9c9c9c" class="n"/>
<rect x="786.2" y="1584.3" width="26.6" height="48.5" fill="#757575" class="n"/>
<rect x="789" y="1611.2" width="21.5" height="20.4" fill="#9c9c9c" class="n"/>
<rect x="757.3" y="1659.5" width="42.9" height="22.6" fill="#ffffff"/>
<rect x="803.5" y="1659.6" width="22.7" height="42.8" fill="#ffffff"/>
<rect x="859.3" y="1659.5" width="43.2" height="22.5" fill="#ffffff"/>
<rect x="904.3" y="1659.3" width="43.7" height="22.9" fill="#ffffff"/>
<rect x="904.3" y="1684.8" width="43.7" height="23.5" fill="#ffffff"/>
<rect x="757.3" y="1683.2" width="22.5" height="42.5" fill="#ffffff"/>
<rect x="780.4" y="1683.2" width="22.6" height="42.5" fill="#ffffff"/>
<rect x="757.3" y="1727.1" width="22.5" height="42.4" fill="#ffffff"/>
<rect x="780.4" y="1727.1" width="22.6" height="42.4" fill="#ffffff"/>
<rect x="757.3" y="1773.2" width="27.1" height="48.5" fill="#3b3b3b" class="n"/>
<rect x="987" y="1590.3" width="43.5" height="70" fill="#ffffff"/>
<rect x="1035" y="1598" width="44" height="24" fill="#ffffff"/>
<rect x="1081.8" y="1582.3" width="23.8" height="43.5" fill="#ffffff"/>
<rect x="1034.5" y="1626.8" width="70.5" height="43.4" fill="#ffffff"/>
<rect x="970.4" y="1667.7" width="46" height="26" fill="#ffffff"/>
<rect x="1018.4" y="1672" width="43.2" height="23.3" fill="#ffffff"/>
<rect x="1063.7" y="1672" width="43.3" height="23.3" fill="#ffffff"/>
<rect x="1018.4" y="1696.6" width="43.2" height="23.4" fill="#ffffff"/>
<rect x="948.5" y="1697.3" width="43.4" height="23.7" fill="#ffffff"/>
<rect x="948.5" y="1722" width="43.4" height="23.8" fill="#ffffff"/>
<rect x="992.9" y="1700.4" width="24.3" height="43.9" fill="#ffffff"/>
<rect x="1021.3" y="1721.6" width="42.4" height="22.2" fill="#757575" class="n"/>
<rect x="1065.4" y="1721.6" width="42.2" height="22.2" fill="#757575" class="n"/>
<rect x="1108.4" y="1660.5" width="26" height="45.8" fill="#ffffff"/>
<rect x="1136" y="1650.8" width="43.4" height="70.5" fill="#ffffff"/>
<rect x="1180.7" y="1653.9" width="23.5" height="43.4" fill="#ffffff"/>
<rect x="1205.4" y="1653.9" width="23.8" height="43.4" fill="#ffffff"/>
<rect x="1236" y="1624.5" width="73.4" height="44.5" fill="#ffffff"/>
<rect x="1246" y="1677.4" width="43" height="22.5" fill="#3b3b3b" class="n"/>
<rect x="1224.6" y="1599.2" width="43.9" height="23.8" fill="#ffffff"/>
<rect x="1184.5" y="1703" width="24" height="43.6" fill="#ffffff"/>
<rect x="1217" y="1703" width="70.2" height="43.9" fill="#ffffff"/>
<rect x="1291" y="1703" width="72.3" height="41.3" fill="#ffffff"/>
<rect x="1139.8" y="1723.4" width="43.4" height="23.7" fill="#ffffff"/>
<rect x="954.3" y="1747.4" width="26.3" height="45.4" fill="#ffffff"/>
<rect x="992.1" y="1747.4" width="26.1" height="45.4" fill="#ffffff"/>
<rect x="1035.8" y="1746.9" width="70.5" height="43.9" fill="#ffffff"/>
<rect x="1110.7" y="1749.7" width="23.7" height="43.4" fill="#ffffff"/>
<rect x="1137.7" y="1749.7" width="37.8" height="69.5" fill="#ffffff"/>
<rect x="1176" y="1762.7" width="24.6" height="42.9" fill="#3b3b3b" class="n"/>
<rect x="1201.6" y="1755.8" width="72.8" height="43.7" fill="#ffffff"/>
<rect x="1291.7" y="1745.8" width="70.5" height="38.1" fill="#ffffff"/>
<rect x="974" y="1794.6" width="44" height="23.8" fill="#ffffff"/>
<rect x="883.8" y="1777.8" width="43.5" height="23.2" fill="#ffffff"/>
<rect x="882.3" y="1808" width="82.7" height="66.8" fill="#ffffff"/>
<rect x="853.4" y="1849.6" width="26.4" height="45.7" fill="#ffffff"/>
<rect x="914.8" y="1886" width="43.6" height="24.3" fill="#ffffff"/>
<rect x="993.4" y="1818.9" width="44" height="23.8" fill="#ffffff"/>
<rect x="993.4" y="1843.4" width="44" height="23.8" fill="#ffffff"/>
<rect x="975.3" y="1868.2" width="43.4" height="23.8" fill="#ffffff"/>
<rect x="1020.5" y="1868.2" width="43.7" height="23.8" fill="#ffffff"/>
<rect x="1066" y="1819.2" width="43.6" height="69.9" fill="#ffffff"/>
<rect x="1110.9" y="1796.7" width="23.3" height="42.6" fill="#ffffff"/>
<rect x="1115.8" y="1840.4" width="70.5" height="38" fill="#ffffff"/>
<rect x="1136.2" y="1880.2" width="43.2" height="22.8" fill="#ffffff"/>
<rect x="1136.2" y="1904" width="43.2" height="22.4" fill="#ffffff"/>
<rect x="1189.6" y="1809" width="41.9" height="72.5" fill="#ffffff"/>
<rect x="1233.5" y="1811.7" width="23.8" height="43.3" fill="#ffffff"/>
<rect x="1259.8" y="1811" width="25.8" height="45.2" fill="#ffffff"/>
<rect x="1287" y="1789" width="24.2" height="43.4" fill="#ffffff"/>
<rect x="1312.7" y="1793.4" width="23.9" height="43.4" fill="#ffffff"/>
<rect x="1251.7" y="1857.2" width="24" height="43.8" fill="#ffffff"/>
<rect x="1278.7" y="1858.5" width="23.8" height="43.5" fill="#ffffff"/>
<rect x="1304.8" y="1857.2" width="26.8" height="46" fill="#ffffff"/>
<rect x="1337.7" y="1786" width="43.7" height="23.5" fill="#ffffff"/>
<rect x="1337.7" y="1810.5" width="43.7" height="23.5" fill="#ffffff"/>
<rect x="1337.7" y="1835.2" width="43.7" height="23.5" fill="#ffffff"/>
<rect x="1337.7" y="1859.8" width="43.7" height="23.2" fill="#ffffff"/>
<rect x="1383.7" y="1786.5" width="23" height="42.5" fill="#757575" class="n"/>
<rect x="1407.7" y="1786" width="23.8" height="43.4" fill="#ffffff"/>
<rect x="1384" y="1831.2" width="43.4" height="23.8" fill="#ffffff"/>
<rect x="1384.2" y="1856.7" width="43.2" height="22.7" fill="#757575" class="n"/>
<rect x="1439.4" y="1786" width="23.5" height="43" fill="#ffffff"/>
<rect x="1463.6" y="1786" width="23.8" height="43" fill="#ffffff"/>
<rect x="1439.4" y="1832.4" width="23.5" height="43.5" fill="#ffffff"/>
<rect x="1463.6" y="1832.4" width="23.8" height="43.5" fill="#ffffff"/>
<rect x="1368.9" y="1678.7" width="44.1" height="24" fill="#ffffff"/>
<rect x="1365.6" y="1704.2" width="23.7" height="43.7" fill="#ffffff"/>
<rect x="1390" y="1704.2" width="23.8" height="43.7" fill="#ffffff"/>
<rect x="1414.6" y="1682.2" width="24" height="43.5" fill="#ffffff"/>
<rect x="1439.4" y="1696" width="23.5" height="43" fill="#757575" class="n"/>
<rect x="1463.6" y="1695.3" width="23.8" height="43.7" fill="#ffffff"/>
<rect x="1488.7" y="1695.3" width="23.7" height="43.7" fill="#ffffff"/>
<rect x="1488.4" y="1650" width="23.8" height="43.5" fill="#757575" class="n"/>
<rect x="1367.4" y="1754.8" width="43.1" height="23.2" fill="#ffffff"/>
<rect x="1414.6" y="1740.7" width="23.4" height="43.5" fill="#ffffff"/>
<rect x="1439.4" y="1740.7" width="23.5" height="43.5" fill="#757575" class="n"/>
<rect x="1463.6" y="1740.7" width="23.8" height="43.5" fill="#757575" class="n"/>
<rect x="1488.7" y="1740.7" width="23.7" height="43.5" fill="#ffffff"/>
<rect x="1144.4" y="1505.5" width="42.9" height="22.7" fill="#ffffff"/>
<rect x="1145.4" y="1529.5" width="72.8" height="43.7" fill="#ffffff"/>
<rect x="1219.7" y="1526.4" width="43.7" height="69.7" fill="#ffffff"/>
<rect x="1272.3" y="1505.2" width="24.1" height="43.7" fill="#ffffff"/>
<rect x="1297.4" y="1484.3" width="43.9" height="73" fill="#ffffff"/>
<rect x="1375.6" y="1456.2" width="73.4" height="43.6" fill="#ffffff"/>
<rect x="1407.8" y="1500.9" width="24.5" height="43.9" fill="#ffffff"/>
<rect x="1659.4" y="1550.2" width="44.2" height="24.2" fill="#ffffff"/>
<rect x="1750" y="1558" width="43.5" height="23" fill="#ffffff"/>
<rect x="1794.5" y="1558" width="42.9" height="23" fill="#ffffff"/>
<rect x="1838.2" y="1558" width="43.4" height="23" fill="#ffffff"/>
<rect x="1794.3" y="1581.6" width="43.1" height="23.2" fill="#ffffff"/>
<rect x="1881.2" y="1581.7" width="65.6" height="33.5" fill="#ffffff"/>
<rect x="1961.4" y="1581.7" width="65.4" height="33.5" fill="#ffffff"/>
<rect x="2044.1" y="1581.7" width="65.7" height="33.5" fill="#ffffff"/>
<rect x="1718.6" y="1690.4" width="23.7" height="42.6" fill="#ffffff"/>
<rect x="1699.2" y="1734" width="43.1" height="22.8" fill="#ffffff"/>
<rect x="1699.2" y="1757.9" width="43.1" height="22.9" fill="#ffffff"/>
<rect x="1699.2" y="1781.9" width="23.5" height="43.1" fill="#ffffff"/>
<rect x="1690.7" y="1845.5" width="33.7" height="65.1" fill="#ffffff"/>
<rect x="1733.4" y="1874.3" width="65.4" height="33.2" fill="#ffffff"/>
<rect x="1799.8" y="1864.6" width="23.5" height="42.9" fill="#ffffff"/>
<rect x="1840.4" y="1876" width="65.4" height="33.8" fill="#ffffff"/>
<rect x="1906.8" y="1876" width="65.4" height="33.8" fill="#ffffff"/>
<rect x="1595.7" y="1909.8" width="42.2" height="22.2" fill="#ffffff"/>
<rect x="1639.4" y="1909.8" width="42.9" height="22.2" fill="#ffffff"/>
<rect x="1595.7" y="1936.4" width="41.1" height="22" fill="#757575" class="n"/>
<rect x="1638.4" y="1935.9" width="49.6" height="27.8" fill="#fff" class="g"/>
<rect x="1640.7" y="1939.7" width="19.3" height="19.9" fill="#9c9c9c" class="n"/>
<rect x="1689" y="1933.8" width="73" height="41.2" fill="#ffffff"/>
<rect x="1763.8" y="1911" width="41.6" height="67.2" fill="#fff" class="g"/>
<rect x="1772.5" y="1914.4" width="25" height="24.7" fill="#9c9c9c" class="n"/>
<rect x="1827.6" y="1916.2" width="41.2" height="67.1" fill="#fff" class="g"/>
<rect x="1835.8" y="1955" width="25" height="25" fill="#9c9c9c" class="n"/>
<rect x="1871.8" y="1916.9" width="33.5" height="65.1" fill="#ffffff"/>
<rect x="1910.4" y="1923.3" width="42.9" height="23" fill="#ffffff"/>
<rect x="1906.3" y="1948.3" width="22.7" height="42.9" fill="#ffffff"/>
<rect x="1930" y="1948.3" width="23.3" height="42.9" fill="#ffffff"/>
<rect x="1957.6" y="1935.6" width="35.8" height="59.7" fill="#9a9a9a"/>
<rect x="1864" y="2006" width="22.3" height="42.5" fill="#ffffff"/>
<rect x="1888.3" y="1997.9" width="100.4" height="54.4" fill="#ffffff"/>
<rect x="1870.4" y="2053.6" width="118.6" height="61.3" fill="#ffffff"/>
<rect x="1869.2" y="2117.2" width="100.1" height="53.1" fill="#ffffff"/>
<rect x="1842.6" y="2173.6" width="126.7" height="100.4" fill="#ffffff"/>
<rect x="1720" y="2162.4" width="23.5" height="42.9" fill="#ffffff"/>
<rect x="1752.4" y="2150.4" width="36.6" height="59.2" fill="#9a9a9a"/>
<rect x="1794.8" y="2163.1" width="36.8" height="59.6" fill="#9a9a9a"/>
<rect x="1780.5" y="2233.6" width="23.8" height="42.9" fill="#ffffff"/>
<rect x="1816.8" y="2233.6" width="23.7" height="42.9" fill="#ffffff"/>
<rect x="2047" y="1731.2" width="124.5" height="100.9" fill="#ffffff"/>
<rect x="2181.7" y="1731.2" width="33.4" height="64.9" fill="#ffffff"/>
<rect x="2177.8" y="1798.7" width="38.6" height="69.7" fill="#ffffff"/>
<rect x="2150.5" y="1871.2" width="64.6" height="33.2" fill="#ffffff"/>
<rect x="2172.5" y="1908.2" width="41.9" height="73.1" fill="#ffffff"/>
<rect x="2033.8" y="1861.5" width="24.5" height="43.7" fill="#ffffff"/>
<rect x="2059.8" y="1938.9" width="23" height="42.6" fill="#ffffff"/>
<rect x="2084" y="1939.4" width="22.6" height="41.9" fill="#757575" class="n"/>
<rect x="2248.7" y="2117" width="23.7" height="42.6" fill="#ffffff"/>
<rect x="137.2" y="1402" width="62" height="77" fill="#ffffff"/>
<rect x="200.4" y="1396.6" width="41.7" height="72.4" fill="#ffffff"/>
<rect x="244" y="1396.6" width="41.4" height="72.4" fill="#ffffff"/>
<rect x="286.2" y="1398.5" width="65.1" height="32.9" fill="#ffffff"/>
<rect x="354.4" y="1404.6" width="24.6" height="43.7" fill="#ffffff"/>
<rect x="286.2" y="1440.2" width="41.4" height="72.4" fill="#ffffff"/>
<rect x="137.2" y="1484.3" width="46.8" height="26" fill="#ffffff"/>
<rect x="200.4" y="1470" width="24.6" height="43.4" fill="#ffffff"/>
<rect x="227.2" y="1470.9" width="23.4" height="42.1" fill="#3b3b3b" class="n"/>
<rect x="256" y="1470.9" width="23.3" height="42.1" fill="#3b3b3b" class="n"/>
<rect x="482.8" y="1384.7" width="33.7" height="65.1" fill="#ffffff"/>
<rect x="561.7" y="1384" width="118.8" height="108" fill="#ffffff"/>
<rect x="364" y="1567.8" width="145.2" height="149.8" fill="#ffffff"/>
<rect x="424" y="1670.5" width="25" height="24.5" fill="#9c9c9c" class="n"/>
<rect x="533" y="1534" width="25.6" height="45.7" fill="#ffffff"/>
<rect x="560" y="1534.5" width="38.5" height="70.5" fill="#ffffff"/>
<rect x="599.6" y="1534.5" width="38.4" height="70.5" fill="#ffffff"/>
<rect x="640.2" y="1534.5" width="39.1" height="70.5" fill="#ffffff"/>
<rect x="682" y="1556" width="23" height="42.5" fill="#ffffff"/>
<rect x="564.8" y="1613.8" width="86.9" height="102.7" fill="#ffffff"/>
<rect x="666.7" y="1613.4" width="38.3" height="70.1" fill="#ffffff"/>
<rect x="539" y="1682.8" width="24.2" height="42.9" fill="#ffffff"/>
<rect x="660.2" y="1684.7" width="45.5" height="25.6" fill="#ffffff"/>
<rect x="660.2" y="1711.5" width="45.5" height="25.7" fill="#ffffff"/>
<rect x="547.1" y="1728.7" width="44.1" height="23.8" fill="#ffffff"/>
<rect x="593.9" y="1726" width="38.3" height="70.5" fill="#ffffff"/>
<rect x="634" y="1737.9" width="72" height="40.6" fill="#ffffff"/>
<rect x="550.2" y="1754.4" width="37.8" height="69.6" fill="#ffffff"/>
<rect x="634" y="1781.8" width="72" height="41" fill="#ffffff"/>
<rect x="589.3" y="1798.7" width="42.9" height="22.9" fill="#ffffff"/>
<rect x="589.3" y="1824.7" width="42.9" height="23" fill="#ffffff"/>
<rect x="634.9" y="1826.2" width="43.3" height="23" fill="#ffffff"/>
<rect x="350.6" y="1832.4" width="39.1" height="69.6" fill="#ffffff"/>
<rect x="390.8" y="1819.7" width="129.2" height="79.7" fill="#ffffff"/>
<rect x="341.8" y="1904" width="134.4" height="170.5" fill="#ffffff"/>
<rect x="480" y="1928.2" width="38.4" height="70.1" fill="#ffffff"/>
<rect x="478.2" y="2001" width="42.8" height="23" fill="#ffffff"/>
<rect x="478.2" y="2034" width="42.8" height="23" fill="#ffffff"/>
<rect x="521.8" y="1872.6" width="74.4" height="123.4" fill="#ffffff"/>
<rect x="599.2" y="1868" width="33" height="65" fill="#ffffff"/>
<rect x="599.2" y="1935.8" width="33" height="64.8" fill="#ffffff"/>
<rect x="635.6" y="1860" width="71.3" height="154" fill="#757575" class="n"/>
<rect x="658.6" y="1978.7" width="25.7" height="24.9" fill="#9c9c9c" class="n"/>
<rect x="207.7" y="2009.8" width="49.3" height="27.6" fill="#fff" class="g"/>
<rect x="235.6" y="2013.6" width="20" height="20.7" fill="#9c9c9c" class="n"/>
<rect x="259.4" y="2009.8" width="49.8" height="27.6" fill="#fff" class="g"/>
<rect x="261.7" y="2013.6" width="19.9" height="20.7" fill="#9c9c9c" class="n"/>
<rect x="232.6" y="2039.3" width="32.4" height="64" fill="#ffffff"/>
<rect x="267" y="2039.3" width="33" height="64" fill="#ffffff"/>
<rect x="312.3" y="2049.6" width="22.9" height="42.4" fill="#ffffff"/>
<rect x="301.5" y="2093.7" width="64.8" height="33.3" fill="#ffffff"/>
<rect x="392.7" y="2084" width="42.5" height="23" fill="#ffffff"/>
<rect x="392.7" y="2108.6" width="42.5" height="22.6" fill="#ffffff"/>
<rect x="438.3" y="2086.8" width="65.1" height="40.6" fill="#ffffff"/>
<rect x="506.9" y="2078.4" width="23.1" height="42.5" fill="#ffffff"/>
<rect x="532.2" y="2078.4" width="23" height="42.5" fill="#ffffff"/>
<rect x="557.9" y="2078.4" width="22.9" height="42.5" fill="#ffffff"/>
<rect x="583.5" y="2078.4" width="23" height="42.5" fill="#ffffff"/>
<rect x="376.6" y="2132.8" width="33.7" height="65.5" fill="#ffffff"/>
<rect x="413" y="2145.4" width="45.2" height="25.3" fill="#ffffff"/>
<rect x="459.8" y="2130" width="22.6" height="42.2" fill="#ffffff"/>
<rect x="483.1" y="2130" width="22.6" height="42.2" fill="#ffffff"/>
<rect x="307.7" y="2135.8" width="57.8" height="57.5" fill="#ffffff"/>
<rect x="267.4" y="2158.4" width="38.3" height="70.1" fill="#ffffff"/>
<rect x="312.3" y="2204.8" width="65.1" height="33.3" fill="#ffffff"/>
<rect x="595" y="2125.5" width="36.4" height="67.8" fill="#ffffff"/>
<rect x="466" y="2182.2" width="36" height="67.8" fill="#ffffff"/>
<rect x="441.4" y="2210.2" width="23.4" height="42.8" fill="#ffffff"/>
<rect x="596.6" y="2212.5" width="32.9" height="64.3" fill="#757575" class="n"/>
<rect x="634" y="2161.9" width="113.5" height="113.8" fill="#ffffff"/>
<rect x="678.2" y="2240.8" width="25.2" height="25.2" fill="#9c9c9c" class="n"/>
<rect x="2223" y="1102.9" width="33" height="64.3" fill="#ffffff"/>
<rect x="2257" y="1102.9" width="33" height="64.3" fill="#ffffff"/>
<rect x="2291.2" y="1120" width="42.1" height="23.5" fill="#ffffff"/>
<rect x="2291.2" y="1144.3" width="42.1" height="22.2" fill="#ffffff"/>
<rect x="2336" y="1134" width="38" height="69.6" fill="#ffffff"/>
<rect x="2376.6" y="1108.6" width="65.2" height="32.6" fill="#ffffff"/>
<rect x="2376.6" y="1144.6" width="65.2" height="33.8" fill="#ffffff"/>
<rect x="2377.8" y="1181" width="42.2" height="22.6" fill="#ffffff"/>
<rect x="2226" y="1184" width="21.5" height="42.2" fill="#757575" class="n"/>
<rect x="2248.7" y="1184" width="22.9" height="42.6" fill="#ffffff"/>
<rect x="2272.4" y="1184" width="22.6" height="42.6" fill="#ffffff"/>
<rect x="2295.8" y="1184" width="23" height="42.6" fill="#ffffff"/>
<rect x="2226" y="1228.2" width="22.3" height="42.1" fill="#ffffff"/>
<rect x="2248.7" y="1228.2" width="22.9" height="42.1" fill="#ffffff"/>
<rect x="2272.4" y="1228.2" width="22.6" height="42.1" fill="#ffffff"/>
<rect x="2295.8" y="1228.2" width="23" height="42.1" fill="#ffffff"/>
<rect x="2327.2" y="1214.8" width="42.1" height="22.6" fill="#ffffff"/>
<rect x="2327.2" y="1238.1" width="42.1" height="22.6" fill="#ffffff"/>
<rect x="2327.2" y="1261.9" width="42.1" height="22.2" fill="#ffffff"/>
<rect x="2326.8" y="1285.6" width="42.5" height="23" fill="#ffffff"/>
<rect x="2371.6" y="1208.2" width="41.4" height="72.1" fill="#ffffff"/>
<rect x="2372.4" y="1285.6" width="42.9" height="22.6" fill="#ffffff"/>
<rect x="2435.2" y="1189" width="23" height="42.2" fill="#ffffff"/>
<rect x="2415.3" y="1232.8" width="42.6" height="22.2" fill="#ffffff"/>
<rect x="2459" y="1212.5" width="22.2" height="42.5" fill="#ffffff"/>
<rect x="2482" y="1212.5" width="22.2" height="42.5" fill="#ffffff"/>
<rect x="2505.4" y="1212.5" width="22.2" height="42.5" fill="#ffffff"/>
<rect x="2531.4" y="1212.5" width="21.9" height="42.5" fill="#757575" class="n"/>
<rect x="2554.4" y="1212.5" width="22.6" height="42.5" fill="#ffffff"/>
<rect x="2435.2" y="1257" width="23" height="42" fill="#ffffff"/>
<rect x="2459" y="1257" width="22.2" height="42" fill="#ffffff"/>
<rect x="2482" y="1257" width="22.2" height="42" fill="#ffffff"/>
<rect x="2505.4" y="1258.8" width="22.2" height="42.5" fill="#ffffff"/>
<rect x="2531.4" y="1258.8" width="22.2" height="42.5" fill="#ffffff"/>
<rect x="2554.4" y="1258.8" width="22.6" height="42.5" fill="#ffffff"/>
<rect x="2577.8" y="1258.8" width="22.2" height="42.5" fill="#ffffff"/>
<rect x="2601.1" y="1258.8" width="22.3" height="42.5" fill="#ffffff"/>
<rect x="2511.5" y="1144.3" width="56.3" height="65.7" fill="#ffffff"/>
<rect x="2523.4" y="1096.4" width="21.8" height="41.6" fill="#757575" class="n"/>
<rect x="2546.7" y="1096" width="22.6" height="42.5" fill="#ffffff"/>
<rect x="2570.9" y="1091.4" width="67.4" height="56.3" fill="#ffffff"/>
<rect x="2640.2" y="1096.4" width="22.3" height="41.6" fill="#757575" class="n"/>
<rect x="2678.2" y="1109" width="23.3" height="42.5" fill="#ffffff"/>
<rect x="2703.8" y="1109" width="23.4" height="42.5" fill="#ffffff"/>
<rect x="2729.9" y="1109" width="23.4" height="42.5" fill="#ffffff"/>
<rect x="2596.2" y="1152.3" width="42.5" height="23" fill="#ffffff"/>
<rect x="2596.2" y="1178.4" width="42.5" height="22.6" fill="#757575" class="n"/>
<rect x="2668.6" y="1155" width="42.9" height="23" fill="#ffffff"/>
<rect x="2613.8" y="1204.4" width="23" height="42.6" fill="#ffffff"/>
<rect x="2779" y="1116.7" width="23" height="42.5" fill="#ffffff"/>
<rect x="2804.6" y="1116.7" width="23.8" height="42.5" fill="#ffffff"/>
<rect x="2779.7" y="1163" width="42.5" height="22.2" fill="#757575" class="n"/>
<rect x="2842" y="1094" width="98.6" height="72" fill="#ffffff"/>
<rect x="2942" y="1093.3" width="23" height="42.5" fill="#ffffff"/>
<rect x="2967.8" y="1093.3" width="23" height="42.5" fill="#ffffff"/>
<rect x="2993.5" y="1093.3" width="23.4" height="42.5" fill="#ffffff"/>
<rect x="3019.5" y="1093.3" width="23.4" height="42.5" fill="#ffffff"/>
<rect x="2942.5" y="1144.6" width="42.9" height="23" fill="#ffffff"/>
<rect x="3062" y="1153.8" width="72.9" height="41" fill="#ffffff"/>
<rect x="2904.2" y="1169" width="155.2" height="72.2" fill="#ffffff"/>
<rect x="3023.8" y="1192.9" width="25.2" height="24.9" fill="#9c9c9c" class="n"/>
<rect x="3074.3" y="1196.7" width="42.6" height="22.3" fill="#ffffff"/>
<rect x="3074.3" y="1220" width="42.6" height="22.3" fill="#757575" class="n"/>
<rect x="3118" y="1199.4" width="22.6" height="42.2" fill="#ffffff"/>
<rect x="3141.4" y="1199.4" width="22.6" height="42.2" fill="#ffffff"/>
<rect x="3164.8" y="1199.4" width="22.6" height="42.2" fill="#ffffff"/>
<rect x="3188.5" y="1199.4" width="22.2" height="42.2" fill="#757575" class="n"/>
<rect x="2638" y="1218.2" width="227.5" height="372.1" fill="#ffffff"/>
<rect x="3005" y="1245.4" width="238.5" height="374.8" fill="#ffffff"/>
<rect x="3246.7" y="1230.5" width="23.3" height="42.9" fill="#ffffff"/>
<rect x="3246.7" y="1274.5" width="23.3" height="42.5" fill="#ffffff"/>
<rect x="3246.7" y="1318.2" width="23.3" height="42.5" fill="#ffffff"/>
<rect x="3249.8" y="1362.6" width="23.4" height="42.6" fill="#ffffff"/>
<rect x="3248" y="1407" width="26.4" height="46" fill="#ffffff"/>
<rect x="3245.5" y="1481.2" width="42.2" height="22.2" fill="#757575" class="n"/>
<rect x="3245.5" y="1507.3" width="42.2" height="21.7" fill="#757575" class="n"/>
<rect x="3245" y="1529.8" width="43.2" height="22.9" fill="#ffffff"/>
<rect x="3245" y="1553.5" width="43.2" height="22.7" fill="#ffffff"/>
<rect x="3245" y="1577" width="43.2" height="22.5" fill="#ffffff"/>
<rect x="2870" y="1251.2" width="42.6" height="22.2" fill="#757575" class="n"/>
<rect x="2913.9" y="1251.2" width="42.7" height="22.2" fill="#ffffff"/>
<rect x="2958" y="1251.2" width="43" height="22.2" fill="#ffffff"/>
<rect x="2870" y="1281.8" width="42.6" height="22.6" fill="#ffffff"/>
<rect x="2913.9" y="1281.8" width="42.7" height="22.6" fill="#ffffff"/>
<rect x="2958" y="1281.8" width="43" height="22.6" fill="#757575" class="n"/>
<rect x="2870" y="1312.8" width="42.6" height="22.6" fill="#ffffff"/>
<rect x="2913.9" y="1312.8" width="42.7" height="22.6" fill="#ffffff"/>
<rect x="2958" y="1312.8" width="43" height="22.6" fill="#ffffff"/>
<rect x="2870" y="1343.9" width="42.6" height="22.6" fill="#757575" class="n"/>
<rect x="2913.9" y="1343.9" width="42.7" height="22.6" fill="#757575" class="n"/>
<rect x="2958" y="1343.9" width="43" height="22.6" fill="#757575" class="n"/>
<rect x="2870" y="1374.9" width="42.6" height="22.6" fill="#757575" class="n"/>
<rect x="2913.9" y="1374.9" width="42.7" height="22.6" fill="#ffffff"/>
<rect x="2958" y="1374.9" width="43" height="22.6" fill="#ffffff"/>
<rect x="2870" y="1405.8" width="42.6" height="22.7" fill="#ffffff"/>
<rect x="2913.9" y="1405.8" width="42.7" height="22.7" fill="#ffffff"/>
<rect x="2958" y="1405.8" width="43" height="22.7" fill="#ffffff"/>
<rect x="2870" y="1436.8" width="42.6" height="23" fill="#757575" class="n"/>
<rect x="2913.9" y="1436.8" width="42.7" height="23" fill="#ffffff"/>
<rect x="2958" y="1436.8" width="43" height="23" fill="#ffffff"/>
<rect x="2893.5" y="1462.8" width="42.5" height="22.5" fill="#757575" class="n"/>
<rect x="2942.6" y="1462.8" width="42.4" height="22.5" fill="#757575" class="n"/>
<rect x="2882.3" y="1491.2" width="23.5" height="43.2" fill="#ffffff"/>
<rect x="2914.2" y="1488.6" width="42.2" height="22.4" fill="#757575" class="n"/>
<rect x="2958.4" y="1488.6" width="42.4" height="22.4" fill="#757575" class="n"/>
<rect x="2913.7" y="1516.7" width="42.9" height="23.3" fill="#ffffff"/>
<rect x="2959" y="1517.8" width="41.8" height="22.2" fill="#757575" class="n"/>
<rect x="2880.3" y="1547.6" width="43.1" height="23" fill="#ffffff"/>
<rect x="2926.8" y="1547.6" width="42.9" height="23" fill="#ffffff"/>
<rect x="2973" y="1550.7" width="23.2" height="42.9" fill="#ffffff"/>
<rect x="2893" y="1573.4" width="23" height="42.4" fill="#ffffff"/>
<rect x="2918.3" y="1573.4" width="42.9" height="22.8" fill="#ffffff"/>
<rect x="2956.4" y="1599" width="42.6" height="22.5" fill="#757575" class="n"/>
<rect x="2511.1" y="1316" width="42.2" height="21.7" fill="#757575" class="n"/>
<rect x="2554.8" y="1316" width="42.2" height="21.7" fill="#757575" class="n"/>
<rect x="2510.3" y="1343.9" width="42.6" height="22.6" fill="#ffffff"/>
<rect x="2554" y="1343.9" width="42.2" height="22.6" fill="#ffffff"/>
<rect x="2511" y="1372.6" width="42.3" height="22.2" fill="#757575" class="n"/>
<rect x="2554.8" y="1372.6" width="42.2" height="22.2" fill="#757575" class="n"/>
<rect x="2601" y="1302.9" width="22" height="42.1" fill="#757575" class="n"/>
<rect x="2597.3" y="1347" width="22.7" height="42.5" fill="#ffffff"/>
<rect x="2516" y="1401.3" width="41.9" height="21.9" fill="#757575" class="n"/>
<rect x="2560.2" y="1401.3" width="42.1" height="21.9" fill="#757575" class="n"/>
<rect x="2515" y="1424" width="42.5" height="23" fill="#ffffff"/>
<rect x="2558.4" y="1427.3" width="21.4" height="41.7" fill="#757575" class="n"/>
<rect x="2580.8" y="1426.6" width="23.2" height="42.6" fill="#ffffff"/>
<rect x="2605.4" y="1427.3" width="21.9" height="41.7" fill="#757575" class="n"/>
<rect x="2529.2" y="1447.8" width="22.8" height="42.6" fill="#ffffff"/>
<rect x="2553.3" y="1470.8" width="42.9" height="22.2" fill="#ffffff"/>
<rect x="2553.8" y="1494" width="42.2" height="22" fill="#757575" class="n"/>
<rect x="2597" y="1473.3" width="22.7" height="42.7" fill="#ffffff"/>
<rect x="2554.8" y="1517.2" width="42.6" height="22.5" fill="#ffffff"/>
<rect x="2554.8" y="1540.5" width="42.6" height="22.5" fill="#ffffff"/>
<rect x="2554.8" y="1563.7" width="42.6" height="22.8" fill="#ffffff"/>
<rect x="2554.8" y="1587.7" width="42.6" height="21.8" fill="#757575" class="n"/>
<rect x="2598.2" y="1519.8" width="23.3" height="42.9" fill="#ffffff"/>
<rect x="2225.7" y="1311" width="43.3" height="72.3" fill="#ffffff"/>
<rect x="2225.7" y="1387.5" width="42.5" height="72.5" fill="#ffffff"/>
<rect x="2226.8" y="1463.9" width="41.4" height="72.2" fill="#ffffff"/>
<rect x="2272.4" y="1341.6" width="22.6" height="42.9" fill="#ffffff"/>
<rect x="2272.4" y="1385.6" width="22.6" height="42.2" fill="#ffffff"/>
<rect x="2272.5" y="1432.2" width="22.8" height="42.4" fill="#ffffff"/>
<rect x="2272.5" y="1478.7" width="22.8" height="42.3" fill="#ffffff"/>
<rect x="2223.5" y="1540" width="42.9" height="23" fill="#ffffff"/>
<rect x="2267.7" y="1540" width="42.6" height="23" fill="#ffffff"/>
<rect x="2311.9" y="1540" width="42.6" height="23" fill="#ffffff"/>
<rect x="2224.5" y="1571.4" width="41.4" height="21.6" fill="#757575" class="n"/>
<rect x="2223.5" y="1594.6" width="42.9" height="22.8" fill="#ffffff"/>
<rect x="2271" y="1575.2" width="67.4" height="56.8" fill="#ffffff"/>
<rect x="2339.5" y="1566.5" width="23.2" height="42.7" fill="#ffffff"/>
<rect x="2407.2" y="1540.2" width="42.8" height="22.8" fill="#ffffff"/>
<rect x="2407.2" y="1576.2" width="42.8" height="22.8" fill="#ffffff"/>
<rect x="2407.2" y="1602.3" width="42.8" height="23" fill="#ffffff"/>
<rect x="2407.2" y="1628.4" width="42.8" height="22.9" fill="#ffffff"/>
<rect x="2463.9" y="1547.6" width="43.1" height="23" fill="#ffffff"/>
<rect x="2463.9" y="1573.7" width="43.1" height="23.5" fill="#ffffff"/>
<rect x="2463.9" y="1599.7" width="43.1" height="23" fill="#ffffff"/>
<rect x="2458.2" y="1633.5" width="23.5" height="42.9" fill="#ffffff"/>
<rect x="2686.6" y="1592.3" width="42.6" height="22.5" fill="#ffffff"/>
<rect x="2733" y="1592.3" width="43" height="22.5" fill="#ffffff"/>
<rect x="2686.8" y="1617.9" width="41.9" height="22.1" fill="#757575" class="n"/>
<rect x="2733.3" y="1617.9" width="42.4" height="22.1" fill="#757575" class="n"/>
<rect x="2782.2" y="1594.6" width="42.6" height="22.4" fill="#757575" class="n"/>
<rect x="2782.2" y="1617.9" width="42.6" height="22.1" fill="#757575" class="n"/>
<rect x="2782.2" y="1642" width="42.6" height="22.4" fill="#757575" class="n"/>
<rect x="2782.2" y="1667.4" width="42.6" height="22" fill="#757575" class="n"/>
<rect x="2831.2" y="1595.4" width="22.5" height="42.1" fill="#757575" class="n"/>
<rect x="2831.2" y="1639.3" width="22.5" height="42.2" fill="#757575" class="n"/>
<rect x="2875.2" y="1617.6" width="42.8" height="22.8" fill="#ffffff"/>
<rect x="2875.2" y="1643.7" width="42.8" height="22.7" fill="#ffffff"/>
<rect x="2875.2" y="1669.5" width="42.8" height="22.7" fill="#ffffff"/>
<rect x="3004.7" y="1623.2" width="42.6" height="22.3" fill="#757575" class="n"/>
<rect x="3051.4" y="1623.2" width="42.4" height="22.3" fill="#757575" class="n"/>
<rect x="3096.9" y="1625.8" width="23.1" height="42.9" fill="#ffffff"/>
<rect x="3121.6" y="1624.5" width="26.1" height="45.7" fill="#ffffff"/>
<rect x="3195.2" y="1623.5" width="23.3" height="42.9" fill="#ffffff"/>
<rect x="3219.5" y="1624" width="21.2" height="41.6" fill="#757575" class="n"/>
<rect x="3241.7" y="1623.5" width="23" height="42.9" fill="#ffffff"/>
<rect x="3265.5" y="1623.5" width="23" height="42.9" fill="#ffffff"/>
<rect x="3035.6" y="1669.2" width="42.9" height="23.3" fill="#ffffff"/>
<rect x="3074.4" y="1695.3" width="42.9" height="23" fill="#ffffff"/>
<rect x="3136.2" y="1726.2" width="42.8" height="23" fill="#ffffff"/>
<rect x="3135.7" y="1752.5" width="23.5" height="42.7" fill="#ffffff"/>
<rect x="3161.8" y="1752.5" width="23.2" height="42.7" fill="#ffffff"/>
<rect x="3187.8" y="1752.5" width="23" height="42.7" fill="#ffffff"/>
<rect x="2745.8" y="1698.3" width="23.2" height="42.2" fill="#757575" class="n"/>
<rect x="2769.5" y="1698.3" width="23.1" height="42.2" fill="#757575" class="n"/>
<rect x="2793" y="1698.3" width="22" height="42.2" fill="#757575" class="n"/>
<rect x="2523.6" y="1615.3" width="42.9" height="22.7" fill="#ffffff"/>
<rect x="2523.6" y="1641" width="42.9" height="22.6" fill="#ffffff"/>
<rect x="2523.6" y="1664.6" width="42.9" height="22.4" fill="#ffffff"/>
<rect x="2523.4" y="1693" width="43.1" height="23" fill="#ffffff"/>
<rect x="2575.2" y="1625.5" width="42.7" height="22.5" fill="#757575" class="n"/>
<rect x="2598.2" y="1649.6" width="22.5" height="42.4" fill="#757575" class="n"/>
<rect x="2579.3" y="1693.2" width="42.2" height="22.3" fill="#757575" class="n"/>
<rect x="2474.3" y="1693" width="42.7" height="22.5" fill="#757575" class="n"/>
<rect x="2624.3" y="1644" width="115.7" height="94.7" fill="#757575" class="n"/>
<rect x="2369" y="1685.8" width="36.6" height="68" fill="#ffffff"/>
<rect x="2367.4" y="1757.7" width="42.4" height="21.7" fill="#757575" class="n"/>
<rect x="2367" y="1783.7" width="42.8" height="22.5" fill="#ffffff"/>
<rect x="2370.5" y="1808.7" width="38.8" height="70.3" fill="#ffffff"/>
<rect x="2413.2" y="1719.8" width="167.8" height="170.2" fill="#ffffff"/>
<rect x="2584.3" y="1772.2" width="22.2" height="42.4" fill="#757575" class="n"/>
<rect x="2608.8" y="1770" width="42.9" height="23" fill="#ffffff"/>
<rect x="2608.8" y="1795.2" width="42.9" height="22.8" fill="#ffffff"/>
<rect x="2655" y="1754.6" width="80.5" height="64.4" fill="#ffffff"/>
<rect x="2737.8" y="1757.7" width="23" height="42.6" fill="#ffffff"/>
<rect x="2763.9" y="1754.6" width="43.1" height="23" fill="#ffffff"/>
<rect x="2810.3" y="1758.2" width="22.5" height="42.1" fill="#757575" class="n"/>
<rect x="2600.6" y="1820" width="23.3" height="42.6" fill="#ffffff"/>
<rect x="2627" y="1837.4" width="42.9" height="22.9" fill="#ffffff"/>
<rect x="2672.9" y="1820" width="23.3" height="42.6" fill="#ffffff"/>
<rect x="2732.4" y="1826.9" width="96.1" height="116.5" fill="#ffffff"/>
<rect x="2611.6" y="1881.3" width="68.4" height="90.7" fill="#ffffff"/>
<rect x="2707.2" y="1900.2" width="22.4" height="42.1" fill="#757575" class="n"/>
<rect x="2683.4" y="1925.7" width="23" height="42.9" fill="#ffffff"/>
<rect x="2709.5" y="1946.2" width="43.1" height="23" fill="#ffffff"/>
<rect x="2471.9" y="1896.9" width="42.9" height="23" fill="#ffffff"/>
<rect x="2471.9" y="1922.9" width="42.9" height="23" fill="#ffffff"/>
<rect x="2471.9" y="1948.7" width="42.9" height="23" fill="#ffffff"/>
<rect x="2531.2" y="1920.1" width="43.1" height="23" fill="#ffffff"/>
<rect x="2577.4" y="1902.7" width="23" height="42.7" fill="#ffffff"/>
<rect x="2557.5" y="1946.7" width="42.4" height="22.2" fill="#757575" class="n"/>
<rect x="2839.2" y="1821.9" width="42.5" height="22.9" fill="#ffffff"/>
<rect x="2884.8" y="1817.5" width="23.2" height="42.6" fill="#ffffff"/>
<rect x="2911" y="1817.5" width="23.2" height="42.6" fill="#ffffff"/>
<rect x="2835.8" y="1850.9" width="23.5" height="42.6" fill="#ffffff"/>
<rect x="2862.3" y="1871" width="42.9" height="23.1" fill="#ffffff"/>
<rect x="2908.7" y="1869.3" width="22.4" height="41.9" fill="#757575" class="n"/>
<rect x="2947.8" y="1874" width="42.6" height="22.2" fill="#757575" class="n"/>
<rect x="2947.8" y="1896.9" width="42.6" height="22.8" fill="#ffffff"/>
<rect x="2947.8" y="1920.7" width="42.6" height="22.5" fill="#ffffff"/>
<rect x="2863" y="1913.9" width="82.8" height="66.8" fill="#ffffff"/>
<rect x="3011.5" y="1721.1" width="100.8" height="121.3" fill="#ffffff"/>
<rect x="3040.5" y="1848.5" width="22.5" height="42.2" fill="#757575" class="n"/>
<rect x="3069" y="1847.8" width="43" height="23.2" fill="#ffffff"/>
<rect x="3113" y="1842.7" width="43.3" height="23.2" fill="#ffffff"/>
<rect x="3400.8" y="1707.8" width="77.7" height="158.1" fill="#ffffff"/>
<rect x="2873.6" y="2039.9" width="46.3" height="26.6" fill="#ffffff"/>
<rect x="2873.6" y="2071.3" width="46.3" height="26.2" fill="#ffffff"/>
<rect x="3058.5" y="2044.4" width="42.9" height="23.1" fill="#ffffff"/>
<rect x="3104.5" y="2039.2" width="70.5" height="38.9" fill="#ffffff"/>
<rect x="3054.4" y="2086.9" width="77.7" height="62" fill="#ffffff"/>
<rect x="3055.1" y="2150.3" width="24.2" height="43.6" fill="#ffffff"/>
<rect x="3081.7" y="2152.7" width="43.6" height="23.5" fill="#ffffff"/>
<rect x="3081.7" y="2178.6" width="43.6" height="23.8" fill="#ffffff"/>
<rect x="3340.5" y="1981.3" width="59" height="35.7" fill="#3b3b3b" class="n"/>
<rect x="3399.5" y="1981.3" width="59.2" height="35.7" fill="#3b3b3b" class="n"/>
<rect x="3399.5" y="2017" width="59.2" height="36" fill="#3b3b3b" class="n"/>
<rect x="3399.5" y="2053" width="59.2" height="36" fill="#3b3b3b" class="n"/>
<rect x="3340.9" y="2017.4" width="58.6" height="35.1" fill="#a9a9a9"/>
<rect x="3340.9" y="2053.5" width="58.6" height="35.5" fill="#a9a9a9"/>
<path d="M677 356.7H741.8V364.9H677" fill="none"/><rect x="675.5" y="357.4" width="3" height="6.8" fill="#fff" class="n"/>
<path d="M796.5 356.7H861.3V364.9H796.5" fill="none"/><rect x="795" y="357.4" width="3" height="6.8" fill="#fff" class="n"/>
<path d="M915 356.7H979.8V364.9H915" fill="none"/><rect x="913.5" y="357.4" width="3" height="6.8" fill="#fff" class="n"/>
<path d="M3029.5 375.7H3094.3V383.9H3029.5" fill="none"/><rect x="3028" y="376.4" width="3" height="6.8" fill="#fff" class="n"/>
<rect x="2462.3" y="808.8" width="65.5" height="7.5" fill="#fff" class="n"/>
<rect x="2469.2" y="964.4" width="65.5" height="7.5" fill="#fff" class="n"/>
<circle cx="911.4" cy="1060.2" r="11.6" fill="#fff"/>
<circle cx="1365.6" cy="1280" r="11.6" fill="#fff"/>
<circle cx="826.6" cy="1593.1" r="11.6" fill="#fff"/>
<circle cx="849.9" cy="1593.1" r="11.6" fill="#fff"/>
<circle cx="872.9" cy="1593.1" r="11.6" fill="#fff"/>
<circle cx="1122.4" cy="1891.2" r="11.6" fill="#fff"/>
<circle cx="1211" cy="1895" r="11.6" fill="#fff"/>
<circle cx="1622" cy="1560.6" r="11.6" fill="#fff"/>
<circle cx="1646" cy="1560.6" r="11.6" fill="#fff"/>
<circle cx="1714.8" cy="1559.4" r="11.6" fill="#fff"/>
<circle cx="1738" cy="1559.4" r="11.6" fill="#fff"/>
<circle cx="1665.7" cy="1702.7" r="11.6" fill="#fff"/>
<circle cx="2119.8" cy="1971" r="11.6" fill="#fff"/>
<circle cx="2552.4" cy="2072.9" r="11.6" fill="#fff"/>
<circle cx="2575.4" cy="2072.9" r="11.6" fill="#fff"/>
<circle cx="2599.4" cy="2072.9" r="11.6" fill="#fff"/>
<circle cx="3253.2" cy="1466.4" r="11.6" fill="#fff"/>
<circle cx="3277" cy="1466.4" r="11.6" fill="#fff"/>
<circle cx="328.7" cy="1989" r="11.6" fill="#fff"/>
</g>
<g>
<circle cx="716.5" cy="265.5" r="12.5" fill="#cdcdcd"/>
<circle cx="835.5" cy="265.5" r="12.5" fill="#cdcdcd"/>
<circle cx="954.5" cy="265.5" r="12.5" fill="#cdcdcd"/>
<circle cx="862.5" cy="422.2" r="7" fill="#cdcdcd"/>
<circle cx="723" cy="571" r="7" fill="#cdcdcd"/>
<circle cx="1420" cy="330" r="6" fill="#cdcdcd"/>
<circle cx="1488.9" cy="355.2" r="6" fill="#cdcdcd"/>
<circle cx="1583.4" cy="635.6" r="9" fill="#cdcdcd"/>
<circle cx="1528.5" cy="756.4" r="7.7" fill="#cdcdcd"/>
<circle cx="1505" cy="832" r="6" fill="#cdcdcd"/>
<circle cx="1623" cy="719" r="12.8" fill="#cdcdcd"/>
<circle cx="1792.6" cy="621.6" r="7" fill="#cdcdcd"/>
<circle cx="3068" cy="285.4" r="12.5" fill="#cdcdcd"/>
<circle cx="2943.3" cy="461.7" r="10" fill="#cdcdcd"/>
<circle cx="3028" cy="502" r="6.5" fill="#cdcdcd"/>
<circle cx="2922.5" cy="557.5" r="6" fill="#cdcdcd"/>
<circle cx="2977" cy="571.5" r="7.5" fill="#cdcdcd"/>
<circle cx="2883.5" cy="704.8" r="6" fill="#cdcdcd"/>
<circle cx="1056.4" cy="789" r="6" fill="#cdcdcd"/>
<circle cx="1120" cy="834" r="6" fill="#cdcdcd"/>
<circle cx="1190" cy="834" r="6" fill="#cdcdcd"/>
<circle cx="1344.3" cy="812.4" r="10" fill="#cdcdcd"/>
<circle cx="1008.5" cy="1651" r="6" fill="#cdcdcd"/>
<circle cx="1095.6" cy="1648.8" r="6" fill="#cdcdcd"/>
<circle cx="1157" cy="1711.6" r="6" fill="#cdcdcd"/>
<circle cx="1277" cy="1724.6" r="6" fill="#cdcdcd"/>
<circle cx="1045.5" cy="1768.8" r="6" fill="#cdcdcd"/>
<circle cx="945" cy="1858" r="9" fill="#cdcdcd"/>
<circle cx="1087.7" cy="1879.7" r="6" fill="#cdcdcd"/>
<circle cx="1241.4" cy="1587.7" r="6" fill="#cdcdcd"/>
<circle cx="1707.6" cy="1898" r="11" fill="#cdcdcd"/>
<circle cx="1853.7" cy="1892.7" r="10.5" fill="#cdcdcd"/>
<circle cx="1959" cy="1892.7" r="10.5" fill="#cdcdcd"/>
<circle cx="1917.5" cy="1957.8" r="6" fill="#cdcdcd"/>
<circle cx="2198.5" cy="1783.6" r="11" fill="#cdcdcd"/>
<circle cx="2202.9" cy="1887.5" r="11" fill="#cdcdcd"/>
<circle cx="185.4" cy="1417.2" r="7" fill="#cdcdcd"/>
<circle cx="298" cy="1415.3" r="9.5" fill="#cdcdcd"/>
<circle cx="499.2" cy="1436.8" r="11" fill="#cdcdcd"/>
<circle cx="580.8" cy="1628.7" r="7.5" fill="#cdcdcd"/>
<circle cx="455.2" cy="2051" r="8" fill="#cdcdcd"/>
<circle cx="450.2" cy="2095.2" r="6.5" fill="#cdcdcd"/>
<circle cx="348.7" cy="2181" r="12" fill="#cdcdcd"/>
<circle cx="2240.6" cy="1155.4" r="10" fill="#cdcdcd"/>
<circle cx="2273.6" cy="1155.4" r="10" fill="#cdcdcd"/>
<circle cx="2300" cy="1130.8" r="6" fill="#cdcdcd"/>
<circle cx="2429.5" cy="1125" r="10" fill="#cdcdcd"/>
<circle cx="2429.5" cy="1161" r="10" fill="#cdcdcd"/>
<circle cx="2386.2" cy="1192" r="6" fill="#cdcdcd"/>
<circle cx="2336.4" cy="1249.2" r="6" fill="#cdcdcd"/>
<circle cx="2541.4" cy="1155.7" r="6" fill="#cdcdcd"/>
<circle cx="2625" cy="1105" r="7.5" fill="#cdcdcd"/>
<circle cx="2741.4" cy="1117.4" r="6" fill="#cdcdcd"/>
<circle cx="2920.3" cy="1112" r="10" fill="#cdcdcd"/>
<circle cx="2846" cy="1233.5" r="11" fill="#cdcdcd"/>
<circle cx="3222.5" cy="1600.5" r="12.8" fill="#cdcdcd"/>
<circle cx="2283" cy="1603.6" r="6.5" fill="#cdcdcd"/>
<circle cx="2417" cy="1613.8" r="6" fill="#cdcdcd"/>
<circle cx="2496.8" cy="1611.2" r="6" fill="#cdcdcd"/>
<circle cx="2643.2" cy="1717.2" r="9.2" fill="#d6d6d6"/>
<circle cx="2560.4" cy="1735.9" r="9" fill="#cdcdcd"/>
<circle cx="2668.6" cy="1787.5" r="8.5" fill="#cdcdcd"/>
<circle cx="2754" cy="1846.3" r="9" fill="#cdcdcd"/>
<circle cx="2667.8" cy="1958.2" r="9" fill="#cdcdcd"/>
<circle cx="2564.4" cy="1931.9" r="6" fill="#cdcdcd"/>
<circle cx="2876.6" cy="1947" r="7.5" fill="#cdcdcd"/>
<circle cx="3028.2" cy="1742.2" r="12.5" fill="#cdcdcd"/>
<circle cx="3122.9" cy="1854" r="6" fill="#cdcdcd"/>
<circle cx="3114.4" cy="2135" r="8.5" fill="#cdcdcd"/>
<circle cx="1191" cy="413" r="12.6" fill="#cdcdcd"/>
<circle cx="1018" cy="565" r="7" fill="#cdcdcd"/>
<circle cx="1289.8" cy="651.4" r="10" fill="#cdcdcd"/>
<circle cx="1246.5" cy="1259.4" r="12.8" fill="#cdcdcd"/>
<circle cx="1629.5" cy="1414.5" r="12.6" fill="#cdcdcd"/>
<circle cx="2329.5" cy="1329.3" r="11.5" fill="#cdcdcd"/>
<circle cx="2741.5" cy="806.7" r="9" fill="#cdcdcd"/>
<circle cx="2420.7" cy="928.5" r="8.4" fill="#cdcdcd"/>
<circle cx="2118.8" cy="1908" r="12" fill="#cdcdcd"/>
<circle cx="1763.7" cy="2019.6" r="12.5" fill="#cdcdcd"/>
<circle cx="527.6" cy="2216" r="8.5" fill="#cdcdcd"/>
<circle cx="2891.3" cy="1799.8" r="7.5" fill="#cdcdcd"/>
<circle cx="162" cy="1766" r="12.6" fill="#cdcdcd"/>
<circle cx="929.7" cy="2003.8" r="12.6" fill="#cdcdcd"/>
<circle cx="1176.4" cy="2192.3" r="7" fill="#cdcdcd"/>
<circle cx="2739.5" cy="2107" r="8" fill="#cdcdcd"/>
<circle cx="3367" cy="1321.3" r="12.5" fill="#cdcdcd"/>
</g>
<g class="t" opacity="0.999">
<text transform="translate(716.2,298.3) rotate(-90) scale(1,1.07)" y="6.2" font-size="16.9" stroke-width="0.6">ANT2001</text>
<text transform="translate(835.6,298.3) rotate(-90) scale(1,1.07)" y="6.2" font-size="16.9" stroke-width="0.6">ANT2002</text>
<text transform="translate(954.2,298.3) rotate(-90) scale(1,1.07)" y="6.2" font-size="16.9" stroke-width="0.6">ANT2000</text>
<text transform="translate(729.5,403.5) scale(1,1.07)" y="3.3" font-size="9.2" stroke-width="0.6">U2018</text>
<text transform="translate(804,397) scale(1,1.07)" y="3.4" font-size="9.4" stroke-width="0.6">L2062</text>
<text transform="translate(853.2,397) scale(1,1.07)" y="3.4" font-size="9.3" stroke-width="0.6">C2049</text>
<text transform="translate(701,445) rotate(-90) scale(1,1.07)" y="3.6" font-size="9.8" stroke-width="0.6">C5138</text>
<text transform="translate(727,445.5) rotate(-90) scale(1,1.07)" y="3.3" font-size="9.2" stroke-width="0.6">C5136</text>
<text transform="translate(755.5,445) rotate(-90) scale(1,1.07)" y="3.1" font-size="8.5" stroke-width="0.6">ZD5006</text>
<text transform="translate(825.2,429.3) scale(1,1.07)" y="3.4" font-size="9.3" stroke-width="0.6">C2105</text>
<text transform="translate(825.2,452.9) scale(1,1.07)" y="3.4" font-size="9.3" stroke-width="0.6">C2103</text>
<text transform="translate(825,484) scale(1,1.07)" y="3.4" font-size="9.4" stroke-width="0.6">C2104</text>
<text transform="translate(887,453) rotate(-90) scale(1,1.07)" y="8" font-size="22" stroke-width="0.7">U2015</text>
<text transform="translate(1033.5,322) scale(1,1.07)" y="3.3" font-size="9.2" stroke-width="0.6">C2006</text>
<text transform="translate(1033.5,348.2) scale(1,1.07)" y="3.3" font-size="9.2" stroke-width="0.6">L2004</text>
<text transform="translate(1033.5,374) scale(1,1.07)" y="3.3" font-size="9.2" stroke-width="0.6">C2007</text>
<text transform="translate(949.5,429.3) scale(1,1.07)" y="3.3" font-size="9.2" stroke-width="0.6">L2041</text>
<text transform="translate(949.5,452.9) scale(1,1.07)" y="3.3" font-size="9.2" stroke-width="0.6">L2040</text>
<text transform="translate(949.2,483.7) scale(1,1.07)" y="3.3" font-size="9.1" stroke-width="0.6">C2101</text>
<text transform="translate(993.5,483.7) scale(1,1.07)" y="3.3" font-size="9" stroke-width="0.6">C2102</text>
<text transform="translate(685.5,566.5) scale(1,1.07)" y="3.6" font-size="9.8" stroke-width="0.6">C5139</text>
<text transform="translate(685.5,592.1) scale(1,1.07)" y="3.6" font-size="9.8" stroke-width="0.6">C5137</text>
<text transform="translate(750.3,591.3) scale(1,1.07)" y="6.3" font-size="17.2" stroke-width="0.6">U5007</text>
<text transform="translate(807,573.2) rotate(-90) scale(1,1.07)" y="3.8" font-size="10.5" stroke-width="0.6">C5135</text>
<text transform="translate(693.5,631.3) rotate(-90) scale(1,1.07)" y="3.1" font-size="8.6" stroke-width="0.6">ZD5007</text>
<text transform="translate(807.4,621.5) rotate(-90) scale(1,1.07)" y="3" font-size="8.4" stroke-width="0.6">ZD5004</text>
<text transform="translate(730.8,652.9) rotate(-90) scale(1,1.07)" y="3.1" font-size="8.6" stroke-width="0.6">ZD5005</text>
<text transform="translate(758,651.7) rotate(-90) scale(1,1.07)" y="3.3" font-size="9" stroke-width="0.6">C5140</text>
<text transform="translate(796.5,662.1) scale(1,1.07)" y="3.2" font-size="8.7" stroke-width="0.6">ZD5011</text>
<text transform="translate(693.5,672.4) scale(1,1.07)" y="3.3" font-size="9" stroke-width="0.6">C5103</text>
<text transform="translate(714,701.1) scale(1,1.07)" y="3.3" font-size="8.9" stroke-width="0.6">C5141</text>
<text transform="translate(750,703.6) rotate(-90) scale(1,1.07)" y="3.2" font-size="8.7" stroke-width="0.6">ZD5010</text>
<text transform="translate(778.5,703.6) rotate(-90) scale(1,1.07)" y="3.2" font-size="8.7" stroke-width="0.6">ZD5009</text>
<text transform="translate(807.3,703.6) rotate(-90) scale(1,1.07)" y="3.2" font-size="8.7" stroke-width="0.6">ZD5008</text>
<text transform="translate(1420.1,341.9) rotate(-90) scale(1,1.07)" y="3.3" font-size="9.1" stroke-width="0.6">L6011</text>
<text transform="translate(1443.5,341.9) rotate(-90) scale(1,1.07)" y="3.3" font-size="9.1" stroke-width="0.6">C6013</text>
<text transform="translate(1476.8,331.8) scale(1,1.07)" y="3.3" font-size="9" stroke-width="0.6">C6016</text>
<text transform="translate(1476.8,355.4) scale(1,1.07)" y="3.3" font-size="9" stroke-width="0.6">U6010</text>
<text transform="translate(1510.5,341.9) rotate(-90) scale(1,1.07)" y="3.3" font-size="9.1" stroke-width="0.6">C6015</text>
<text transform="translate(1537.3,344.6) rotate(-90) scale(1,1.07)" y="3.2" font-size="8.7" stroke-width="0.6">ZD6003</text>
<text transform="translate(1650.3,470.8) scale(1,1.07)" y="11.5" font-size="31.5" stroke-width="0.8">CON6000</text>
<text transform="translate(1347.6,638.7) scale(1,1.07)" y="3.4" font-size="9.3" stroke-width="0.6">C2004</text>
<text transform="translate(1347.7,662) scale(1,1.07)" y="3.3" font-size="9.1" stroke-width="0.6">R2000</text>
<text transform="translate(1394.2,652) scale(1,1.07)" y="3.4" font-size="9.2" stroke-width="0.6">L2005</text>
<text transform="translate(1430.5,662.2) rotate(-90) scale(1,1.07)" y="3.3" font-size="9.2" stroke-width="0.6">L2006</text>
<text transform="translate(1466.8,651.9) scale(1,1.07)" y="3.4" font-size="9.2" stroke-width="0.6">C2005</text>
<text transform="translate(1557.2,636.2) scale(1,1.07)" y="6.7" font-size="18.3" stroke-width="0.6">F2002</text>
<text transform="translate(1616.7,622) rotate(-90) scale(1,1.07)" y="3.3" font-size="9.1" stroke-width="0.6">C2043</text>
<text transform="translate(1625.8,656.9) scale(1,1.07)" y="3.3" font-size="9.2" stroke-width="0.6">U2014</text>
<text transform="translate(1625.8,683) scale(1,1.07)" y="3.3" font-size="9.2" stroke-width="0.6">C2044</text>
<text transform="translate(1537.1,685.3) scale(1,1.07)" y="3.3" font-size="9.1" stroke-width="0.6">C2042</text>
<text transform="translate(1580.8,685.9) scale(1,1.07)" y="3.3" font-size="9.2" stroke-width="0.6">U2013</text>
<text transform="translate(1580.8,710) scale(1,1.07)" y="3.3" font-size="9.2" stroke-width="0.6">U2019</text>
<text transform="translate(1504.3,736) scale(1,1.07)" y="5.8" font-size="15.8" stroke-width="0.6">U2001</text>
<text transform="translate(1478.1,798) rotate(-90) scale(1,1.07)" y="3.3" font-size="9.2" stroke-width="0.6">C2003</text>
<text transform="translate(1504,798) rotate(-90) scale(1,1.07)" y="3.3" font-size="9.2" stroke-width="0.6">C2008</text>
<text transform="translate(1527.7,798) rotate(-90) scale(1,1.07)" y="3.3" font-size="9.2" stroke-width="0.6">C2009</text>
<text transform="translate(1481.8,843) rotate(-90) scale(1,1.07)" y="3.3" font-size="9.2" stroke-width="0.6">C2013</text>
<text transform="translate(1505.2,843) rotate(-90) scale(1,1.07)" y="3.3" font-size="9.2" stroke-width="0.6">L2000</text>
<text transform="translate(1528.8,843) rotate(-90) scale(1,1.07)" y="3.3" font-size="9.2" stroke-width="0.6">C2014</text>
<text transform="translate(1565.3,743.6) rotate(-90) scale(1,1.07)" y="3.3" font-size="9.1" stroke-width="0.6">L2007</text>
<text transform="translate(1589,743.6) rotate(-90) scale(1,1.07)" y="3.3" font-size="9.1" stroke-width="0.6">L2008</text>
<text transform="translate(1565.3,787.7) rotate(-90) scale(1,1.07)" y="3.3" font-size="9.1" stroke-width="0.6">L2010</text>
<text transform="translate(1589,787.7) rotate(-90) scale(1,1.07)" y="3.3" font-size="9.1" stroke-width="0.6">U2006</text>
<text transform="translate(1565.3,831.6) rotate(-90) scale(1,1.07)" y="3.3" font-size="9.1" stroke-width="0.6">L2016</text>
<text transform="translate(1589,831.6) rotate(-90) scale(1,1.07)" y="3.3" font-size="9.1" stroke-width="0.6">U2010</text>
<text transform="translate(1740.9,784) scale(1,1.07)" y="22.1" font-size="60.5" stroke-width="1">U2012</text>
<text transform="translate(1678.6,605.1) rotate(-90) scale(1,1.07)" y="3.3" font-size="9.1" stroke-width="0.6">C2089</text>
<text transform="translate(1702.1,605.1) rotate(-90) scale(1,1.07)" y="3.3" font-size="9.1" stroke-width="0.6">L2061</text>
<text transform="translate(1725.6,605.1) rotate(-90) scale(1,1.07)" y="3.3" font-size="9.1" stroke-width="0.6">C2092</text>
<text transform="translate(1671,638.9) scale(1,1.07)" y="3.3" font-size="9.2" stroke-width="0.6">C2094</text>
<text transform="translate(1714.8,638.9) scale(1,1.07)" y="3.3" font-size="9.1" stroke-width="0.6">L2034</text>
<text transform="translate(1671,662.5) scale(1,1.07)" y="3.3" font-size="9.2" stroke-width="0.6">C2096</text>
<text transform="translate(1714.8,662.5) scale(1,1.07)" y="3.3" font-size="9.1" stroke-width="0.6">L2030</text>
<text transform="translate(1671,685.8) scale(1,1.07)" y="3.3" font-size="9.2" stroke-width="0.6">L2038</text>
<text transform="translate(1714.8,685.8) scale(1,1.07)" y="3.3" font-size="9.1" stroke-width="0.6">L2035</text>
<text transform="translate(1771.9,621) scale(1,1.07)" y="5.3" font-size="14.5" stroke-width="0.6">F2001</text>
<text transform="translate(1751,675) rotate(-90) scale(1,1.07)" y="3.3" font-size="9.1" stroke-width="0.6">L2033</text>
<text transform="translate(1774.3,675) rotate(-90) scale(1,1.07)" y="3.3" font-size="9.1" stroke-width="0.6">L2029</text>
<text transform="translate(1798,675) rotate(-90) scale(1,1.07)" y="3.3" font-size="9.1" stroke-width="0.6">L2032</text>
<text transform="translate(1836.4,618.1) rotate(-90) scale(1,1.07)" y="5.1" font-size="14" stroke-width="0.6">C2090</text>
<text transform="translate(1834.1,685.7) scale(1,1.07)" y="3.3" font-size="9.1" stroke-width="0.6">L2039</text>
<text transform="translate(1877.9,592.4) scale(1,1.07)" y="3.3" font-size="9.2" stroke-width="0.6">C2093</text>
<text transform="translate(1877.9,615.8) scale(1,1.07)" y="3.3" font-size="9.2" stroke-width="0.6">L2059</text>
<text transform="translate(1877.9,639.2) scale(1,1.07)" y="3.3" font-size="9.2" stroke-width="0.6">C2091</text>
<text transform="translate(1877.9,662.5) scale(1,1.07)" y="3.3" font-size="9.2" stroke-width="0.6">C2041</text>
<text transform="translate(1878,685.9) scale(1,1.07)" y="3.3" font-size="8.9" stroke-width="0.6">C2095</text>
<text transform="translate(1901.2,750) scale(1,1.07)" y="3.3" font-size="9.2" stroke-width="0.6">C2040</text>
<text transform="translate(1901.2,773.4) scale(1,1.07)" y="3.3" font-size="9.2" stroke-width="0.6">C2039</text>
<text transform="translate(1901.2,796.8) scale(1,1.07)" y="3.3" font-size="9.2" stroke-width="0.6">C2022</text>
<text transform="translate(1901.2,820.3) scale(1,1.07)" y="3.3" font-size="9.2" stroke-width="0.6">C2015</text>
<text transform="translate(3068.4,317.3) rotate(-90) scale(1,1.07)" y="6.2" font-size="16.9" stroke-width="0.6">ANT3003</text>
<text transform="translate(3126.8,339.9) rotate(-90) scale(1,1.07)" y="3.3" font-size="9.2" stroke-width="0.6">L3029</text>
<text transform="translate(2945.4,433.7) scale(1,1.07)" y="3.4" font-size="9.2" stroke-width="0.6">C3063</text>
<text transform="translate(2909.6,491.4) scale(1,1.07)" y="7.3" font-size="20" stroke-width="0.7">F3003</text>
<text transform="translate(3019.4,447.3) rotate(-90) scale(1,1.07)" y="3.3" font-size="8.9" stroke-width="0.6">L3012</text>
<text transform="translate(3055.9,437.2) scale(1,1.07)" y="3.3" font-size="9.2" stroke-width="0.6">C3062</text>
<text transform="translate(3093.3,445.9) rotate(-90) scale(1,1.07)" y="3.3" font-size="9.2" stroke-width="0.6">L3014</text>
<text transform="translate(3053,502.1) scale(1,1.07)" y="4.7" font-size="12.8" stroke-width="0.6">F3001</text>
<text transform="translate(2979.3,508.2) rotate(-90) scale(1,1.07)" y="3.3" font-size="9.1" stroke-width="0.6">C3051</text>
<text transform="translate(3003.1,508.2) rotate(-90) scale(1,1.07)" y="3.3" font-size="9.1" stroke-width="0.6">C3077</text>
<text transform="translate(3095.8,501.9) rotate(-90) scale(1,1.07)" y="3.3" font-size="9.2" stroke-width="0.6">C3052</text>
<text transform="translate(3120.5,501.9) rotate(-90) scale(1,1.07)" y="3.3" font-size="9.2" stroke-width="0.6">C3061</text>
<text transform="translate(3104.7,538.3) scale(1,1.07)" y="3.4" font-size="9.3" stroke-width="0.6">L3018</text>
<text transform="translate(3007.8,544.1) scale(1,1.07)" y="3.4" font-size="9.3" stroke-width="0.6">C3050</text>
<text transform="translate(3062.1,569.1) scale(1,1.07)" y="3.3" font-size="9.2" stroke-width="0.6">L3001</text>
<text transform="translate(2744.1,543.3) scale(1,1.07)" y="4" font-size="11" stroke-width="0.6">F3004</text>
<text transform="translate(2790.2,544.7) rotate(-90) scale(1,1.07)" y="3.3" font-size="9.1" stroke-width="0.6">C3078</text>
<text transform="translate(2815.1,552.9) rotate(-90) scale(1,1.07)" y="3.3" font-size="9" stroke-width="0.6">C3080</text>
<text transform="translate(2849.7,551) scale(1,1.07)" y="3.3" font-size="9.1" stroke-width="0.6">L3019</text>
<text transform="translate(2883.1,561.8) rotate(-90) scale(1,1.07)" y="3.3" font-size="9" stroke-width="0.6">C3079</text>
<text transform="translate(2935.2,557.5) scale(1,1.07)" y="3.3" font-size="9.2" stroke-width="0.6">L3015</text>
<text transform="translate(2935.2,581.8) scale(1,1.07)" y="3.3" font-size="9.2" stroke-width="0.6">C3057</text>
<text transform="translate(2995.3,593) scale(1,1.07)" y="5.1" font-size="14" stroke-width="0.6">U3005</text>
<text transform="translate(2780.9,581.1) scale(1,1.07)" y="3.3" font-size="9" stroke-width="0.6">C3095</text>
<text transform="translate(2982.1,641.6) scale(1,1.07)" y="3.3" font-size="9.2" stroke-width="0.6">C3016</text>
<text transform="translate(2971.7,675.4) rotate(-90) scale(1,1.07)" y="3.3" font-size="9.1" stroke-width="0.6">C3018</text>
<text transform="translate(2696.4,661) scale(1,1.07)" y="3.3" font-size="9" stroke-width="0.6">C3088</text>
<text transform="translate(2741.2,661) scale(1,1.07)" y="3.3" font-size="8.9" stroke-width="0.6">C3089</text>
<text transform="translate(2803.9,654.9) scale(1,1.07)" y="3.3" font-size="9.2" stroke-width="0.6">L3004</text>
<text transform="translate(2841,664.8) rotate(-90) scale(1,1.07)" y="3.3" font-size="9.2" stroke-width="0.6">C3019</text>
<text transform="translate(2881.9,684.5) rotate(-90) scale(1,1.07)" y="5.3" font-size="14.5" stroke-width="0.6">F3000</text>
<text transform="translate(2726.8,693.1) scale(1,1.07)" y="3.3" font-size="9" stroke-width="0.6">C3093</text>
<text transform="translate(2783,708.1) scale(1,1.07)" y="4.7" font-size="13" stroke-width="0.6">U3019</text>
<text transform="translate(2830.3,709.5) rotate(-90) scale(1,1.07)" y="3.3" font-size="9" stroke-width="0.6">C3094</text>
<text transform="translate(2681.8,740) rotate(-90) scale(1,1.07)" y="3.3" font-size="9.1" stroke-width="0.6">C3031</text>
<text transform="translate(2713.2,747.5) rotate(-90) scale(1,1.07)" y="5.1" font-size="14" stroke-width="0.6">L3000</text>
<text transform="translate(2864.8,736) scale(1,1.07)" y="3.3" font-size="9" stroke-width="0.6">C3002</text>
<text transform="translate(2864.5,761.9) scale(1,1.07)" y="3.6" font-size="9.8" stroke-width="0.6">C3001</text>
<text transform="translate(2764.6,750.5) scale(1,1.07)" y="3.3" font-size="9" stroke-width="0.6">C3092</text>
<text transform="translate(2808.8,750.5) scale(1,1.07)" y="3.3" font-size="9" stroke-width="0.6">C3091</text>
<text transform="translate(2764.6,775) scale(1,1.07)" y="3.3" font-size="9" stroke-width="0.6">C3090</text>
<text transform="translate(2808.8,775) scale(1,1.07)" y="3.3" font-size="9" stroke-width="0.6">L3030</text>
<text transform="translate(2901.9,783.6) rotate(-90) scale(1,1.07)" y="3.3" font-size="9.1" stroke-width="0.6">L3005</text>
<text transform="translate(2692.2,803) scale(1,1.07)" y="3.3" font-size="9.2" stroke-width="0.6">R3011</text>
<text transform="translate(2692.5,827.5) scale(1,1.07)" y="3.4" font-size="9.3" stroke-width="0.6">C3008</text>
<text transform="translate(2692.2,853.4) scale(1,1.07)" y="3.3" font-size="9" stroke-width="0.6">C3007</text>
<text transform="translate(2679.2,887.2) rotate(-90) scale(1,1.07)" y="3.4" font-size="9.3" stroke-width="0.6">C3027</text>
<text transform="translate(2705.5,887.2) rotate(-90) scale(1,1.07)" y="3.3" font-size="9" stroke-width="0.6">C3022</text>
<text transform="translate(2677.8,932.5) rotate(-90) scale(1,1.07)" y="3.3" font-size="9.2" stroke-width="0.6">C3014</text>
<text transform="translate(2703.1,932.5) rotate(-90) scale(1,1.07)" y="3.3" font-size="9" stroke-width="0.6">C3013</text>
<text transform="translate(2891.5,819.9) scale(1,1.07)" y="3.3" font-size="9.2" stroke-width="0.6">L3006</text>
<text transform="translate(2901.9,856.1) rotate(-90) scale(1,1.07)" y="3.3" font-size="9.1" stroke-width="0.6">C3035</text>
<text transform="translate(2886.2,915.1) scale(1,1.07)" y="3.3" font-size="9.1" stroke-width="0.6">C3011</text>
<text transform="translate(2886.4,941.5) scale(1,1.07)" y="3.4" font-size="9.4" stroke-width="0.6">C3010</text>
<text transform="translate(2689.7,968.8) scale(1,1.07)" y="3.4" font-size="9.3" stroke-width="0.6">C3020</text>
<text transform="translate(2736.4,969.1) scale(1,1.07)" y="3.4" font-size="9.3" stroke-width="0.6">C3021</text>
<text transform="translate(2836,967.5) scale(1,1.07)" y="3.5" font-size="9.6" stroke-width="0.6">C3025</text>
<text transform="translate(2882.6,967.5) scale(1,1.07)" y="3.5" font-size="9.7" stroke-width="0.6">C3024</text>
<text transform="translate(2501.9,750.6) rotate(-90) scale(1,1.07)" y="6.2" font-size="16.9" stroke-width="0.6">ANT3002</text>
<text transform="translate(2508.9,906.2) rotate(-90) scale(1,1.07)" y="6.2" font-size="16.9" stroke-width="0.6">ANT3001</text>
<text transform="translate(2591.5,817.3) rotate(-90) scale(1,1.07)" y="3.8" font-size="10.5" stroke-width="0.6">ZD3001</text>
<text transform="translate(2591.1,891.4) rotate(-90) scale(1,1.07)" y="3.8" font-size="10.5" stroke-width="0.6">ZD3000</text>
<text transform="translate(2359.8,891.2) rotate(-90) scale(1,1.07)" y="3.3" font-size="9.1" stroke-width="0.6">C2050</text>
<text transform="translate(2389.2,889) rotate(-90) scale(1,1.07)" y="3.6" font-size="9.8" stroke-width="0.6">C2097</text>
<text transform="translate(2416.9,889) rotate(-90) scale(1,1.07)" y="3.6" font-size="9.8" stroke-width="0.6">C2098</text>
<text transform="translate(2449.5,946.3) rotate(-90) scale(1,1.07)" y="3.3" font-size="9.1" stroke-width="0.6">C2099</text>
<text transform="translate(2428.6,988.4) scale(1,1.07)" y="3.5" font-size="9.5" stroke-width="0.6">C2055</text>
<text transform="translate(957,799.2) rotate(-90) scale(1,1.07)" y="3.3" font-size="9.1" stroke-width="0.6">R5015</text>
<text transform="translate(980.5,799.2) rotate(-90) scale(1,1.07)" y="3.3" font-size="9.1" stroke-width="0.6">C5120</text>
<text transform="translate(1004,799.2) rotate(-90) scale(1,1.07)" y="3.3" font-size="9.1" stroke-width="0.6">C5121</text>
<text transform="translate(1045.3,789) scale(1,1.07)" y="3.4" font-size="9.2" stroke-width="0.6">L6012</text>
<text transform="translate(1089,789) scale(1,1.07)" y="3.3" font-size="9.2" stroke-width="0.6">R6007</text>
<text transform="translate(1133,789) scale(1,1.07)" y="3.3" font-size="9.2" stroke-width="0.6">C6032</text>
<text transform="translate(1177,789) scale(1,1.07)" y="3.3" font-size="9.2" stroke-width="0.6">C6031</text>
<text transform="translate(1058.1,812.5) scale(1,1.07)" y="3.3" font-size="9.1" stroke-width="0.6">R6005</text>
<text transform="translate(1096.6,825.2) rotate(-90) scale(1,1.07)" y="3.3" font-size="9.2" stroke-width="0.6">R6013</text>
<text transform="translate(1133,812.1) scale(1,1.07)" y="3.3" font-size="9.2" stroke-width="0.6">C6019</text>
<text transform="translate(1177,812.1) scale(1,1.07)" y="3.3" font-size="9.2" stroke-width="0.6">C6014</text>
<text transform="translate(1120,846) rotate(-90) scale(1,1.07)" y="3.3" font-size="9.1" stroke-width="0.6">L6006</text>
<text transform="translate(1143.3,846) rotate(-90) scale(1,1.07)" y="3.3" font-size="9.1" stroke-width="0.6">C6017</text>
<text transform="translate(1166.8,846) rotate(-90) scale(1,1.07)" y="3.3" font-size="9.1" stroke-width="0.6">C6012</text>
<text transform="translate(1190,846) rotate(-90) scale(1,1.07)" y="3.3" font-size="9.1" stroke-width="0.6">L6004</text>
<text transform="translate(1231.3,796.4) scale(1,1.07)" y="3.8" font-size="10.5" stroke-width="0.6">R6011</text>
<text transform="translate(1215.8,838.2) rotate(-90) scale(1,1.07)" y="3.3" font-size="9.2" stroke-width="0.6">C5104</text>
<text transform="translate(1241.8,838.2) rotate(-90) scale(1,1.07)" y="3.3" font-size="9.2" stroke-width="0.6">C5102</text>
<text transform="translate(1215.8,881.8) rotate(-90) scale(1,1.07)" y="3.3" font-size="9.2" stroke-width="0.6">C5117</text>
<text transform="translate(1241.8,881.8) rotate(-90) scale(1,1.07)" y="3.3" font-size="9.2" stroke-width="0.6">C5116</text>
<text transform="translate(1314.2,812.1) scale(1,1.07)" y="6" font-size="16.4" stroke-width="0.6">OSC5000</text>
<text transform="translate(1285.3,856.5) scale(1,1.07)" y="3.3" font-size="9.1" stroke-width="0.6">C5094</text>
<text transform="translate(1329.3,856.5) scale(1,1.07)" y="3.3" font-size="9.1" stroke-width="0.6">C5093</text>
<text transform="translate(1324.6,905) rotate(-90) scale(1,1.07)" y="5.6" font-size="15.4" stroke-width="0.6">C5050</text>
<text transform="translate(1382.7,933.5) scale(1,1.07)" y="5.7" font-size="15.6" stroke-width="0.6">C5060</text>
<text transform="translate(1282.5,962.1) rotate(-90) scale(1,1.07)" y="5.6" font-size="15.4" stroke-width="0.6">C5076</text>
<text transform="translate(896.2,836.9) scale(1,1.07)" y="5.5" font-size="15.1" stroke-width="0.6">C5096</text>
<text transform="translate(962.5,840.3) scale(1,1.07)" y="3.8" font-size="10.5" stroke-width="0.6">R5013</text>
<text transform="translate(1029.7,850.8) scale(1,1.07)" y="5.5" font-size="15" stroke-width="0.6">C5124</text>
<text transform="translate(897.8,892.4) rotate(-90) scale(1,1.07)" y="5.5" font-size="15.1" stroke-width="0.6">C5095</text>
<text transform="translate(937,896.2) rotate(-90) scale(1,1.07)" y="5.5" font-size="15" stroke-width="0.6">C5097</text>
<text transform="translate(975.3,905.3) rotate(-90) scale(1,1.07)" y="5.1" font-size="14" stroke-width="0.6">C5123</text>
<text transform="translate(1011.5,905.3) rotate(-90) scale(1,1.07)" y="5.1" font-size="14" stroke-width="0.6">C5122</text>
<text transform="translate(1050.2,907.8) rotate(-90) scale(1,1.07)" y="5.5" font-size="15" stroke-width="0.6">C5118</text>
<text transform="translate(1091.5,889.9) rotate(-90) scale(1,1.07)" y="3.4" font-size="9.2" stroke-width="0.6">C5101</text>
<text transform="translate(1117.6,889.9) rotate(-90) scale(1,1.07)" y="3.4" font-size="9.2" stroke-width="0.6">C5100</text>
<text transform="translate(1143.6,889.9) rotate(-90) scale(1,1.07)" y="3.4" font-size="9.2" stroke-width="0.6">C5107</text>
<text transform="translate(1169.7,889.9) rotate(-90) scale(1,1.07)" y="3.4" font-size="9.2" stroke-width="0.6">C5108</text>
<text transform="translate(1091.9,934.1) rotate(-90) scale(1,1.07)" y="3.2" font-size="8.9" stroke-width="0.6">C5115</text>
<text transform="translate(1114.9,934.1) rotate(-90) scale(1,1.07)" y="3.2" font-size="8.9" stroke-width="0.6">C5114</text>
<text transform="translate(1138.2,933.8) rotate(-90) scale(1,1.07)" y="3.3" font-size="9.1" stroke-width="0.6">C5109</text>
<text transform="translate(1162,933.8) rotate(-90) scale(1,1.07)" y="3.3" font-size="9.1" stroke-width="0.6">C5110</text>
<text transform="translate(853.6,884.7) scale(1,1.07)" y="3.6" font-size="9.8" stroke-width="0.6">C5075</text>
<text transform="translate(798.2,929.7) rotate(-90) scale(1,1.07)" y="5.5" font-size="15" stroke-width="0.6">C5084</text>
<text transform="translate(844.9,952.8) scale(1,1.07)" y="3.4" font-size="9.4" stroke-width="0.6">C5030</text>
<text transform="translate(890,952.8) scale(1,1.07)" y="3.4" font-size="9.4" stroke-width="0.6">C5073</text>
<text transform="translate(833,1002.3) rotate(-90) scale(1,1.07)" y="5.6" font-size="15.4" stroke-width="0.6">C5070</text>
<text transform="translate(876.7,1002.3) rotate(-90) scale(1,1.07)" y="5.6" font-size="15.4" stroke-width="0.6">C5055</text>
<text transform="translate(789,1013.6) rotate(-90) scale(1,1.07)" y="3.4" font-size="9.4" stroke-width="0.6">C5085</text>
<text transform="translate(848.2,1104.2) rotate(-90) scale(1,1.07)" y="10" font-size="27.5" stroke-width="0.7">L5008</text>
<text transform="translate(786.4,1102.8) rotate(-90) scale(1,1.07)" y="3.6" font-size="9.8" stroke-width="0.6">C5028</text>
<text transform="translate(795.9,1148) rotate(-90) scale(1,1.07)" y="3.3" font-size="9" stroke-width="0.6">C5119</text>
<text transform="translate(918.5,1112.2) rotate(-90) scale(1,1.07)" y="5.6" font-size="15.5" stroke-width="0.6">C5071</text>
<text transform="translate(915.6,1200.2) rotate(-90) scale(1,1.07)" y="7.8" font-size="21.3" stroke-width="0.7">C5065</text>
<text transform="translate(828.4,1236.2) rotate(-90) scale(1,1.07)" y="10" font-size="27.5" stroke-width="0.7">L5007</text>
<text transform="translate(905.9,1271.4) scale(1,1.07)" y="5.7" font-size="15.5" stroke-width="0.6">C5037</text>
<text transform="translate(1282.5,1039.8) rotate(-90) scale(1,1.07)" y="5.6" font-size="15.4" stroke-width="0.6">C5059</text>
<text transform="translate(1290.8,1099.2) rotate(-90) scale(1,1.07)" y="3.3" font-size="9.2" stroke-width="0.6">C5013</text>
<text transform="translate(1293.4,1174.2) rotate(-90) scale(1,1.07)" y="7.8" font-size="21.4" stroke-width="0.7">C5048</text>
<text transform="translate(1309,1257) scale(1,1.07)" y="5.7" font-size="15.6" stroke-width="0.6">C5081</text>
<text transform="translate(1342.6,1169) rotate(-90) scale(1,1.07)" y="3.4" font-size="9.4" stroke-width="0.6">C5025</text>
<text transform="translate(1371.1,998.4) scale(1,1.07)" y="10.4" font-size="28.4" stroke-width="0.7">L5006</text>
<text transform="translate(1371.1,1081.2) scale(1,1.07)" y="10.4" font-size="28.4" stroke-width="0.7">L5009</text>
<text transform="translate(1399.5,1158.5) rotate(-90) scale(1,1.07)" y="5.7" font-size="15.6" stroke-width="0.6">C5074</text>
<text transform="translate(1365.8,1230.8) rotate(-90) scale(1,1.07)" y="5.4" font-size="14.9" stroke-width="0.6">C5035</text>
<text transform="translate(1405,1230.8) rotate(-90) scale(1,1.07)" y="5.4" font-size="14.9" stroke-width="0.6">C5036</text>
<text transform="translate(1402.3,1280.2) scale(1,1.07)" y="3.6" font-size="9.8" stroke-width="0.6">C5011</text>
<text transform="translate(801,1325.1) rotate(-90) scale(1,1.07)" y="3.6" font-size="9.8" stroke-width="0.6">C5027</text>
<text transform="translate(853.5,1370.8) rotate(-90) scale(1,1.07)" y="5.6" font-size="15.4" stroke-width="0.6">C5063</text>
<text transform="translate(840.6,1430.1) scale(1,1.07)" y="5.7" font-size="15.5" stroke-width="0.6">C5038</text>
<text transform="translate(918.5,1380.7) rotate(-90) scale(1,1.07)" y="10.2" font-size="28" stroke-width="0.7">L5000</text>
<text transform="translate(1028.2,1309.8) scale(1,1.07)" y="5.7" font-size="15.6" stroke-width="0.6">C5056</text>
<text transform="translate(1104.5,1306) scale(1,1.07)" y="5.6" font-size="15.5" stroke-width="0.6">C5054</text>
<text transform="translate(1179.6,1306) scale(1,1.07)" y="5.6" font-size="15.4" stroke-width="0.6">C5040</text>
<text transform="translate(1254.8,1306) scale(1,1.07)" y="5.6" font-size="15.4" stroke-width="0.6">C5043</text>
<text transform="translate(1020.1,1409.5) rotate(-90) scale(1,1.07)" y="12.2" font-size="33.6" stroke-width="0.8">L5005</text>
<text transform="translate(1140.8,1404.2) rotate(-90) scale(1,1.07)" y="12.2" font-size="33.6" stroke-width="0.8">L5001</text>
<text transform="translate(1260.8,1404.2) rotate(-90) scale(1,1.07)" y="12.2" font-size="33.6" stroke-width="0.8">L5003</text>
<text transform="translate(1381.2,1370.8) rotate(-90) scale(1,1.07)" y="12" font-size="33" stroke-width="0.8">L5004</text>
<text transform="translate(913.2,1474.9) scale(1,1.07)" y="5.7" font-size="15.6" stroke-width="0.6">C4049</text>
<text transform="translate(892.4,1520.3) scale(1,1.07)" y="5.7" font-size="15.5" stroke-width="0.6">C5003</text>
<text transform="translate(893.5,1562) scale(1,1.07)" y="5.4" font-size="14.9" stroke-width="0.6">C4023</text>
<text transform="translate(941.3,1547.5) rotate(-90) scale(1,1.07)" y="3.4" font-size="9.2" stroke-width="0.6">C4012</text>
<text transform="translate(975.2,1532.9) scale(1,1.07)" y="3.4" font-size="9.2" stroke-width="0.6">C4088</text>
<text transform="translate(975.2,1557.3) scale(1,1.07)" y="3.4" font-size="9.2" stroke-width="0.6">C4067</text>
<text transform="translate(1020.1,1530.3) scale(1,1.07)" y="3.3" font-size="9" stroke-width="0.6">C4050</text>
<text transform="translate(1020.1,1554) scale(1,1.07)" y="3.3" font-size="9" stroke-width="0.6">C4022</text>
<text transform="translate(1019.5,1577.6) scale(1,1.07)" y="3.4" font-size="9.3" stroke-width="0.6">C4056</text>
<text transform="translate(1078.9,1514.4) scale(1,1.07)" y="5.7" font-size="15.5" stroke-width="0.6">C4086</text>
<text transform="translate(1078.9,1558.9) scale(1,1.07)" y="5.7" font-size="15.5" stroke-width="0.6">C5052</text>
<text transform="translate(952.3,1582.6) scale(1,1.07)" y="3.5" font-size="9.7" stroke-width="0.6">C5004</text>
<text transform="translate(906.8,1594.3) scale(1,1.07)" y="3.4" font-size="9.3" stroke-width="0.6">C4030</text>
<text transform="translate(869.1,1619.8) scale(1,1.07)" y="3.4" font-size="9.3" stroke-width="0.6">C5012</text>
<text transform="translate(915.9,1618.8) scale(1,1.07)" y="3.4" font-size="9.2" stroke-width="0.6">C5005</text>
<text transform="translate(962.2,1618.9) scale(1,1.07)" y="3.4" font-size="9.3" stroke-width="0.6">C4062</text>
<text transform="translate(869,1645.7) scale(1,1.07)" y="3.4" font-size="9.2" stroke-width="0.6">C4092</text>
<text transform="translate(915.6,1644.5) scale(1,1.07)" y="3.4" font-size="9.3" stroke-width="0.6">C4066</text>
<text transform="translate(962.2,1644.5) scale(1,1.07)" y="3.4" font-size="9.3" stroke-width="0.6">C4054</text>
<text transform="translate(778.8,1647.2) scale(1,1.07)" y="3.3" font-size="9.2" stroke-width="0.6">C5125</text>
<text transform="translate(822.7,1647.2) scale(1,1.07)" y="3.3" font-size="9.2" stroke-width="0.6">C5126</text>
<text transform="translate(771,1608.5) rotate(-90) scale(1,1.07)" y="3.1" font-size="8.6" stroke-width="0.6">ZD5001</text>
<text transform="translate(799.5,1608.5) rotate(-90) scale(1,1.07)" y="3.1" font-size="8.6" stroke-width="0.6">ZD5002</text>
<text transform="translate(778.8,1670.8) scale(1,1.07)" y="3.3" font-size="9.2" stroke-width="0.6">R5020</text>
<text transform="translate(814.9,1681) rotate(-90) scale(1,1.07)" y="3.3" font-size="9.1" stroke-width="0.6">R5022</text>
<text transform="translate(880.9,1670.8) scale(1,1.07)" y="3.4" font-size="9.2" stroke-width="0.6">C4064</text>
<text transform="translate(926.1,1670.8) scale(1,1.07)" y="3.4" font-size="9.3" stroke-width="0.6">C4091</text>
<text transform="translate(926.1,1696.5) scale(1,1.07)" y="3.4" font-size="9.3" stroke-width="0.6">C4065</text>
<text transform="translate(768.5,1704.5) rotate(-90) scale(1,1.07)" y="3.3" font-size="9.1" stroke-width="0.6">R5018</text>
<text transform="translate(791.7,1704.5) rotate(-90) scale(1,1.07)" y="3.3" font-size="9.1" stroke-width="0.6">R5019</text>
<text transform="translate(768.5,1748.3) rotate(-90) scale(1,1.07)" y="3.3" font-size="9" stroke-width="0.6">C5129</text>
<text transform="translate(791.7,1748.3) rotate(-90) scale(1,1.07)" y="3.3" font-size="9" stroke-width="0.6">R5023</text>
<text transform="translate(770.8,1797.5) rotate(-90) scale(1,1.07)" y="3.1" font-size="8.6" stroke-width="0.6">ZD5003</text>
<text transform="translate(1008.8,1625.3) rotate(-90) scale(1,1.07)" y="5.4" font-size="14.9" stroke-width="0.6">C4028</text>
<text transform="translate(1057,1610) scale(1,1.07)" y="3.4" font-size="9.4" stroke-width="0.6">C4010</text>
<text transform="translate(1093.7,1604) rotate(-90) scale(1,1.07)" y="3.4" font-size="9.3" stroke-width="0.6">C4093</text>
<text transform="translate(1069.8,1648.5) scale(1,1.07)" y="5.5" font-size="15" stroke-width="0.6">C4058</text>
<text transform="translate(993.4,1680.7) scale(1,1.07)" y="3.6" font-size="9.8" stroke-width="0.6">C5007</text>
<text transform="translate(1040,1683.7) scale(1,1.07)" y="3.4" font-size="9.2" stroke-width="0.6">C5006</text>
<text transform="translate(1085.3,1683.7) scale(1,1.07)" y="3.4" font-size="9.2" stroke-width="0.6">C4089</text>
<text transform="translate(1040,1708.3) scale(1,1.07)" y="3.4" font-size="9.2" stroke-width="0.6">C5008</text>
<text transform="translate(970.2,1709.2) scale(1,1.07)" y="3.4" font-size="9.3" stroke-width="0.6">C4072</text>
<text transform="translate(970.2,1733.9) scale(1,1.07)" y="3.4" font-size="9.3" stroke-width="0.6">C4045</text>
<text transform="translate(1005,1722.3) rotate(-90) scale(1,1.07)" y="3.4" font-size="9.4" stroke-width="0.6">C4053</text>
<text transform="translate(1042.5,1732.7) scale(1,1.07)" y="3.3" font-size="9" stroke-width="0.6">C4068</text>
<text transform="translate(1086.5,1732.7) scale(1,1.07)" y="3.3" font-size="9" stroke-width="0.6">C4087</text>
<text transform="translate(1121.4,1683.4) rotate(-90) scale(1,1.07)" y="3.6" font-size="9.8" stroke-width="0.6">C4017</text>
<text transform="translate(1157.7,1686) rotate(-90) scale(1,1.07)" y="5.5" font-size="15" stroke-width="0.6">C4027</text>
<text transform="translate(1192.5,1675.6) rotate(-90) scale(1,1.07)" y="3.4" font-size="9.3" stroke-width="0.6">C4038</text>
<text transform="translate(1217.3,1675.6) rotate(-90) scale(1,1.07)" y="3.4" font-size="9.3" stroke-width="0.6">C4070</text>
<text transform="translate(1272.7,1646.8) scale(1,1.07)" y="5.7" font-size="15.7" stroke-width="0.6">C5039</text>
<text transform="translate(1267.5,1688.7) scale(1,1.07)" y="3.3" font-size="9.2" stroke-width="0.6">C4046</text>
<text transform="translate(1246.5,1611.1) scale(1,1.07)" y="3.4" font-size="9.4" stroke-width="0.6">C4006</text>
<text transform="translate(1196.5,1724.8) rotate(-90) scale(1,1.07)" y="3.4" font-size="9.3" stroke-width="0.6">C4063</text>
<text transform="translate(1252.1,1725) scale(1,1.07)" y="5.5" font-size="15" stroke-width="0.6">C4057</text>
<text transform="translate(1327.2,1723.7) scale(1,1.07)" y="5.6" font-size="15.4" stroke-width="0.6">C4069</text>
<text transform="translate(1161.5,1735.2) scale(1,1.07)" y="3.4" font-size="9.3" stroke-width="0.6">C4055</text>
<text transform="translate(967.5,1770.1) rotate(-90) scale(1,1.07)" y="3.5" font-size="9.7" stroke-width="0.6">C4043</text>
<text transform="translate(1005.2,1770.1) rotate(-90) scale(1,1.07)" y="3.5" font-size="9.7" stroke-width="0.6">C4001</text>
<text transform="translate(1071,1768.8) scale(1,1.07)" y="5.5" font-size="15" stroke-width="0.6">C4084</text>
<text transform="translate(1122.6,1771.4) rotate(-90) scale(1,1.07)" y="3.4" font-size="9.3" stroke-width="0.6">C4094</text>
<text transform="translate(1156.6,1784.5) rotate(-90) scale(1,1.07)" y="5.4" font-size="14.8" stroke-width="0.6">C4011</text>
<text transform="translate(1188.3,1784.2) rotate(-90) scale(1,1.07)" y="3.3" font-size="9.2" stroke-width="0.6">C4048</text>
<text transform="translate(1238,1777.7) scale(1,1.07)" y="5.7" font-size="15.5" stroke-width="0.6">C4061</text>
<text transform="translate(1327,1764.8) scale(1,1.07)" y="5.5" font-size="15" stroke-width="0.6">C4039</text>
<text transform="translate(996,1806.5) scale(1,1.07)" y="3.4" font-size="9.4" stroke-width="0.6">C4044</text>
<text transform="translate(905.5,1789.4) scale(1,1.07)" y="3.4" font-size="9.3" stroke-width="0.6">R3008</text>
<text transform="translate(923.6,1841.4) scale(1,1.07)" y="5.9" font-size="16.2" stroke-width="0.6">U3014</text>
<text transform="translate(866.6,1872.4) rotate(-90) scale(1,1.07)" y="3.6" font-size="9.7" stroke-width="0.6">C3070</text>
<text transform="translate(936.6,1898.2) scale(1,1.07)" y="3.4" font-size="9.3" stroke-width="0.6">C3075</text>
<text transform="translate(1015.4,1830.8) scale(1,1.07)" y="3.4" font-size="9.4" stroke-width="0.6">C4029</text>
<text transform="translate(1015.4,1855.3) scale(1,1.07)" y="3.4" font-size="9.4" stroke-width="0.6">C4026</text>
<text transform="translate(997,1880.1) scale(1,1.07)" y="3.4" font-size="9.3" stroke-width="0.6">C4083</text>
<text transform="translate(1042.3,1880.1) scale(1,1.07)" y="3.4" font-size="9.3" stroke-width="0.6">C4090</text>
<text transform="translate(1087.8,1854.2) rotate(-90) scale(1,1.07)" y="5.4" font-size="14.9" stroke-width="0.6">C4059</text>
<text transform="translate(1122.6,1818) rotate(-90) scale(1,1.07)" y="3.3" font-size="9.1" stroke-width="0.6">C4025</text>
<text transform="translate(1151,1859.4) scale(1,1.07)" y="5.5" font-size="15" stroke-width="0.6">C4024</text>
<text transform="translate(1157.8,1891.6) scale(1,1.07)" y="3.4" font-size="9.2" stroke-width="0.6">R4007</text>
<text transform="translate(1157.8,1915.2) scale(1,1.07)" y="3.4" font-size="9.2" stroke-width="0.6">R4009</text>
<text transform="translate(1210.5,1845.2) rotate(-90) scale(1,1.07)" y="5.6" font-size="15.5" stroke-width="0.6">C4047</text>
<text transform="translate(1245.4,1833.3) rotate(-90) scale(1,1.07)" y="3.4" font-size="9.2" stroke-width="0.6">C5009</text>
<text transform="translate(1272.7,1833.6) rotate(-90) scale(1,1.07)" y="3.5" font-size="9.6" stroke-width="0.6">C4003</text>
<text transform="translate(1299.1,1810.7) rotate(-90) scale(1,1.07)" y="3.4" font-size="9.3" stroke-width="0.6">C4052</text>
<text transform="translate(1324.7,1815.1) rotate(-90) scale(1,1.07)" y="3.4" font-size="9.3" stroke-width="0.6">C4014</text>
<text transform="translate(1263.7,1879.1) rotate(-90) scale(1,1.07)" y="3.4" font-size="9.3" stroke-width="0.6">C4009</text>
<text transform="translate(1290.6,1880.2) rotate(-90) scale(1,1.07)" y="3.4" font-size="9.3" stroke-width="0.6">C4002</text>
<text transform="translate(1318.2,1880.2) rotate(-90) scale(1,1.07)" y="3.6" font-size="9.8" stroke-width="0.6">C5000</text>
<text transform="translate(1359.6,1797.8) scale(1,1.07)" y="3.4" font-size="9.3" stroke-width="0.6">C4071</text>
<text transform="translate(1359.6,1822.2) scale(1,1.07)" y="3.4" font-size="9.3" stroke-width="0.6">C4020</text>
<text transform="translate(1359.6,1847) scale(1,1.07)" y="3.4" font-size="9.3" stroke-width="0.6">C5016</text>
<text transform="translate(1359.6,1871.4) scale(1,1.07)" y="3.4" font-size="9.3" stroke-width="0.6">C4036</text>
<text transform="translate(1395.2,1807.8) rotate(-90) scale(1,1.07)" y="3.3" font-size="9.1" stroke-width="0.6">C4098</text>
<text transform="translate(1419.6,1807.7) rotate(-90) scale(1,1.07)" y="3.4" font-size="9.3" stroke-width="0.6">C5015</text>
<text transform="translate(1405.7,1843.1) scale(1,1.07)" y="3.4" font-size="9.3" stroke-width="0.6">C4033</text>
<text transform="translate(1405.8,1868.1) scale(1,1.07)" y="3.4" font-size="9.2" stroke-width="0.6">C4100</text>
<text transform="translate(1451.2,1807.5) rotate(-90) scale(1,1.07)" y="3.3" font-size="9.2" stroke-width="0.6">C4102</text>
<text transform="translate(1475.5,1807.5) rotate(-90) scale(1,1.07)" y="3.3" font-size="9.2" stroke-width="0.6">C4101</text>
<text transform="translate(1451.2,1854.2) rotate(-90) scale(1,1.07)" y="3.4" font-size="9.3" stroke-width="0.6">C4104</text>
<text transform="translate(1475.5,1854.2) rotate(-90) scale(1,1.07)" y="3.4" font-size="9.3" stroke-width="0.6">C4103</text>
<text transform="translate(1391,1690.7) scale(1,1.07)" y="3.4" font-size="9.4" stroke-width="0.6">C4042</text>
<text transform="translate(1377.4,1726.1) rotate(-90) scale(1,1.07)" y="3.4" font-size="9.3" stroke-width="0.6">C4037</text>
<text transform="translate(1401.9,1726.1) rotate(-90) scale(1,1.07)" y="3.4" font-size="9.3" stroke-width="0.6">C4007</text>
<text transform="translate(1426.6,1704) rotate(-90) scale(1,1.07)" y="3.4" font-size="9.3" stroke-width="0.6">C4041</text>
<text transform="translate(1451.2,1717.5) rotate(-90) scale(1,1.07)" y="3.3" font-size="9.2" stroke-width="0.6">C4095</text>
<text transform="translate(1475.5,1717.2) rotate(-90) scale(1,1.07)" y="3.4" font-size="9.3" stroke-width="0.6">C5014</text>
<text transform="translate(1500.6,1717.2) rotate(-90) scale(1,1.07)" y="3.4" font-size="9.3" stroke-width="0.6">C4021</text>
<text transform="translate(1500.3,1671.8) rotate(-90) scale(1,1.07)" y="3.4" font-size="9.3" stroke-width="0.6">C4097</text>
<text transform="translate(1389,1766.4) scale(1,1.07)" y="3.4" font-size="9.2" stroke-width="0.6">C4013</text>
<text transform="translate(1426.3,1762.5) rotate(-90) scale(1,1.07)" y="3.4" font-size="9.3" stroke-width="0.6">C4034</text>
<text transform="translate(1451.2,1762.5) rotate(-90) scale(1,1.07)" y="3.4" font-size="9.3" stroke-width="0.6">C4099</text>
<text transform="translate(1475.5,1762.5) rotate(-90) scale(1,1.07)" y="3.4" font-size="9.3" stroke-width="0.6">C4096</text>
<text transform="translate(1500.6,1762.5) rotate(-90) scale(1,1.07)" y="3.4" font-size="9.3" stroke-width="0.6">C4040</text>
<text transform="translate(1165.8,1516.8) scale(1,1.07)" y="3.3" font-size="9.2" stroke-width="0.6">C4051</text>
<text transform="translate(1181.8,1551.3) scale(1,1.07)" y="5.7" font-size="15.5" stroke-width="0.6">C4060</text>
<text transform="translate(1241.6,1561.2) rotate(-90) scale(1,1.07)" y="5.4" font-size="14.9" stroke-width="0.6">C4085</text>
<text transform="translate(1284.3,1527.1) rotate(-90) scale(1,1.07)" y="3.4" font-size="9.3" stroke-width="0.6">C4008</text>
<text transform="translate(1319.3,1520.8) rotate(-90) scale(1,1.07)" y="5.7" font-size="15.6" stroke-width="0.6">C5041</text>
<text transform="translate(1412.3,1478) scale(1,1.07)" y="5.7" font-size="15.7" stroke-width="0.6">C5047</text>
<text transform="translate(1420,1522.8) rotate(-90) scale(1,1.07)" y="3.4" font-size="9.4" stroke-width="0.6">C4019</text>
<text transform="translate(1681.5,1562.3) scale(1,1.07)" y="3.4" font-size="9.4" stroke-width="0.6">C5134</text>
<text transform="translate(1771.8,1569.5) scale(1,1.07)" y="3.4" font-size="9.3" stroke-width="0.6">R5027</text>
<text transform="translate(1816,1569.5) scale(1,1.07)" y="3.3" font-size="9.2" stroke-width="0.6">R5026</text>
<text transform="translate(1859.9,1569.5) scale(1,1.07)" y="3.4" font-size="9.3" stroke-width="0.6">C5132</text>
<text transform="translate(1815.8,1593.2) scale(1,1.07)" y="3.4" font-size="9.2" stroke-width="0.6">R5025</text>
<text transform="translate(1914,1598.5) scale(1,1.07)" y="5.1" font-size="14" stroke-width="0.6">C5111</text>
<text transform="translate(1994.1,1598.5) scale(1,1.07)" y="5.1" font-size="14" stroke-width="0.6">C5106</text>
<text transform="translate(2076.9,1598.5) scale(1,1.07)" y="5.1" font-size="14" stroke-width="0.6">C5105</text>
<text transform="translate(1730.4,1711.7) rotate(-90) scale(1,1.07)" y="3.3" font-size="9.1" stroke-width="0.6">C6029</text>
<text transform="translate(1720.8,1745.4) scale(1,1.07)" y="3.4" font-size="9.2" stroke-width="0.6">C6018</text>
<text transform="translate(1720.8,1769.3) scale(1,1.07)" y="3.4" font-size="9.2" stroke-width="0.6">R6012</text>
<text transform="translate(1711,1803.5) rotate(-90) scale(1,1.07)" y="3.4" font-size="9.2" stroke-width="0.6">R6010</text>
<text transform="translate(1707.6,1878) rotate(-90) scale(1,1.07)" y="5.1" font-size="13.9" stroke-width="0.6">L6005</text>
<text transform="translate(1766.1,1890.9) scale(1,1.07)" y="5.1" font-size="14" stroke-width="0.6">R6023</text>
<text transform="translate(1811.5,1886) rotate(-90) scale(1,1.07)" y="3.3" font-size="9.2" stroke-width="0.6">R6028</text>
<text transform="translate(1873.1,1892.9) scale(1,1.07)" y="5.1" font-size="14" stroke-width="0.6">L6009</text>
<text transform="translate(1939.5,1892.9) scale(1,1.07)" y="5.1" font-size="14" stroke-width="0.6">L6010</text>
<text transform="translate(1616.8,1920.9) scale(1,1.07)" y="3.3" font-size="9" stroke-width="0.6">C3000</text>
<text transform="translate(1660.8,1920.9) scale(1,1.07)" y="3.3" font-size="9.2" stroke-width="0.6">R6009</text>
<text transform="translate(1616.2,1947.4) scale(1,1.07)" y="3.2" font-size="8.8" stroke-width="0.6">C6050</text>
<text transform="translate(1663.2,1949.8) scale(1,1.07)" y="3.3" font-size="9" stroke-width="0.6">ZD6001</text>
<text transform="translate(1725.5,1954.4) scale(1,1.07)" y="5.7" font-size="15.6" stroke-width="0.6">C6002</text>
<text transform="translate(1784.6,1944.6) rotate(-90) scale(1,1.07)" y="4.2" font-size="11.5" stroke-width="0.6">ZD6013</text>
<text transform="translate(1848.2,1949.8) rotate(-90) scale(1,1.07)" y="4.2" font-size="11.5" stroke-width="0.6">ZD6014</text>
<text transform="translate(1888.5,1949.5) rotate(-90) scale(1,1.07)" y="5.1" font-size="13.9" stroke-width="0.6">R6022</text>
<text transform="translate(1931.8,1934.8) scale(1,1.07)" y="3.3" font-size="9.2" stroke-width="0.6">C6009</text>
<text transform="translate(1917.7,1969.8) rotate(-90) scale(1,1.07)" y="3.3" font-size="9.2" stroke-width="0.6">L6002</text>
<text transform="translate(1941.7,1969.8) rotate(-90) scale(1,1.07)" y="3.3" font-size="9.2" stroke-width="0.6">C6010</text>
<text transform="translate(1975.5,1965.4) rotate(-90) scale(1,1.07)" y="3.8" font-size="10.5" stroke-width="0.6">R6004</text>
<text transform="translate(1875.2,2027.2) rotate(-90) scale(1,1.07)" y="3.3" font-size="9.1" stroke-width="0.6">C6007</text>
<text transform="translate(1938.5,2025.1) scale(1,1.07)" y="7.8" font-size="21.5" stroke-width="0.7">C6006</text>
<text transform="translate(1929.7,2084.2) scale(1,1.07)" y="9.4" font-size="25.7" stroke-width="0.7">C6005</text>
<text transform="translate(1919.2,2143.8) scale(1,1.07)" y="7.5" font-size="20.6" stroke-width="0.7">C6001</text>
<text transform="translate(1905.9,2223.8) scale(1,1.07)" y="10.2" font-size="28" stroke-width="0.7">L6000</text>
<text transform="translate(1731.8,2183.9) rotate(-90) scale(1,1.07)" y="3.3" font-size="9.2" stroke-width="0.6">C6008</text>
<text transform="translate(1770.7,2180) rotate(-90) scale(1,1.07)" y="3.3" font-size="9" stroke-width="0.6">L6003</text>
<text transform="translate(1813.2,2192.9) rotate(-90) scale(1,1.07)" y="3.3" font-size="9" stroke-width="0.6">L6019</text>
<text transform="translate(1792.4,2255.1) rotate(-90) scale(1,1.07)" y="3.3" font-size="9.2" stroke-width="0.6">C6027</text>
<text transform="translate(1828.7,2255.1) rotate(-90) scale(1,1.07)" y="3.3" font-size="9.2" stroke-width="0.6">C6003</text>
<text transform="translate(2109.2,1781.7) scale(1,1.07)" y="10" font-size="27.5" stroke-width="0.7">L2003</text>
<text transform="translate(2198.4,1763.7) rotate(-90) scale(1,1.07)" y="5" font-size="13.8" stroke-width="0.6">L2002</text>
<text transform="translate(2197.1,1833.6) rotate(-90) scale(1,1.07)" y="5.4" font-size="14.9" stroke-width="0.6">C2002</text>
<text transform="translate(2182.8,1887.8) scale(1,1.07)" y="5" font-size="13.8" stroke-width="0.6">L2001</text>
<text transform="translate(2193.4,1944.8) rotate(-90) scale(1,1.07)" y="5.7" font-size="15.6" stroke-width="0.6">C2000</text>
<text transform="translate(2046.1,1883.3) rotate(-90) scale(1,1.07)" y="3.4" font-size="9.3" stroke-width="0.6">C2001</text>
<text transform="translate(2071.3,1960.2) rotate(-90) scale(1,1.07)" y="3.3" font-size="9.1" stroke-width="0.6">R7003</text>
<text transform="translate(2095.3,1960.3) rotate(-90) scale(1,1.07)" y="3.3" font-size="8.9" stroke-width="0.6">C7036</text>
<text transform="translate(2260.6,2138.3) rotate(-90) scale(1,1.07)" y="3.3" font-size="9.1" stroke-width="0.6">C7175</text>
<text transform="translate(168.2,1440.5) rotate(-90) scale(1,1.07)" y="5" font-size="13.7" stroke-width="0.6">U7008</text>
<text transform="translate(221.2,1432.8) rotate(-90) scale(1,1.07)" y="5.6" font-size="15.4" stroke-width="0.6">C7015</text>
<text transform="translate(264.7,1432.8) rotate(-90) scale(1,1.07)" y="5.6" font-size="15.4" stroke-width="0.6">C7010</text>
<text transform="translate(318.8,1415) scale(1,1.07)" y="5.1" font-size="13.9" stroke-width="0.6">L7004</text>
<text transform="translate(366.7,1426.4) rotate(-90) scale(1,1.07)" y="3.4" font-size="9.3" stroke-width="0.6">C7011</text>
<text transform="translate(306.9,1476.4) rotate(-90) scale(1,1.07)" y="5.6" font-size="15.4" stroke-width="0.6">C7012</text>
<text transform="translate(160.6,1497.3) scale(1,1.07)" y="3.6" font-size="10" stroke-width="0.6">C7014</text>
<text transform="translate(212.7,1491.7) rotate(-90) scale(1,1.07)" y="3.4" font-size="9.3" stroke-width="0.6">C7013</text>
<text transform="translate(238.9,1492) rotate(-90) scale(1,1.07)" y="3.3" font-size="9" stroke-width="0.6">C7023</text>
<text transform="translate(267.6,1492) rotate(-90) scale(1,1.07)" y="3.3" font-size="9" stroke-width="0.6">U7007</text>
<text transform="translate(499.6,1417.2) rotate(-90) scale(1,1.07)" y="3.8" font-size="10.5" stroke-width="0.6">VR7001</text>
<text transform="translate(621.1,1438) scale(1,1.07)" y="7.9" font-size="21.6" stroke-width="0.7">GA7001</text>
<text transform="translate(436.6,1642.7) rotate(-90) scale(1,1.07)" y="9" font-size="24.6" stroke-width="0.7">LED5000</text>
<text transform="translate(545.8,1556.8) rotate(-90) scale(1,1.07)" y="3.6" font-size="9.7" stroke-width="0.6">C7043</text>
<text transform="translate(579.2,1569.8) rotate(-90) scale(1,1.07)" y="5.5" font-size="15" stroke-width="0.6">C7022</text>
<text transform="translate(618.8,1569.8) rotate(-90) scale(1,1.07)" y="5.5" font-size="15" stroke-width="0.6">C7042</text>
<text transform="translate(659.8,1569.8) rotate(-90) scale(1,1.07)" y="5.5" font-size="15" stroke-width="0.6">C7021</text>
<text transform="translate(693.5,1577.2) rotate(-90) scale(1,1.07)" y="3.3" font-size="9.1" stroke-width="0.6">C7044</text>
<text transform="translate(608.2,1665.2) rotate(-90) scale(1,1.07)" y="7.2" font-size="19.8" stroke-width="0.7">U7009</text>
<text transform="translate(685.9,1648.5) rotate(-90) scale(1,1.07)" y="5.5" font-size="15" stroke-width="0.6">C7017</text>
<text transform="translate(551.1,1704.2) rotate(-90) scale(1,1.07)" y="3.3" font-size="9.2" stroke-width="0.6">C7019</text>
<text transform="translate(683,1697.5) scale(1,1.07)" y="3.5" font-size="9.7" stroke-width="0.6">C7040</text>
<text transform="translate(683,1724.3) scale(1,1.07)" y="3.5" font-size="9.7" stroke-width="0.6">C7041</text>
<text transform="translate(569.2,1740.6) scale(1,1.07)" y="3.4" font-size="9.4" stroke-width="0.6">C7020</text>
<text transform="translate(613,1761.2) rotate(-90) scale(1,1.07)" y="5.5" font-size="15" stroke-width="0.6">C7018</text>
<text transform="translate(670,1758.2) scale(1,1.07)" y="5.6" font-size="15.4" stroke-width="0.6">C7174</text>
<text transform="translate(569.1,1789.2) rotate(-90) scale(1,1.07)" y="5.4" font-size="14.8" stroke-width="0.6">C7016</text>
<text transform="translate(670,1802.3) scale(1,1.07)" y="5.6" font-size="15.4" stroke-width="0.6">C7163</text>
<text transform="translate(610.8,1810.2) scale(1,1.07)" y="3.3" font-size="9.2" stroke-width="0.6">R4031</text>
<text transform="translate(610.8,1836.2) scale(1,1.07)" y="3.3" font-size="9.2" stroke-width="0.6">R4028</text>
<text transform="translate(656.5,1837.7) scale(1,1.07)" y="3.4" font-size="9.2" stroke-width="0.6">R7004</text>
<text transform="translate(370.1,1867.2) rotate(-90) scale(1,1.07)" y="5.4" font-size="14.8" stroke-width="0.6">C7172</text>
<text transform="translate(455.4,1859.6) scale(1,1.07)" y="10.5" font-size="28.7" stroke-width="0.7">L7003</text>
<text transform="translate(409,1989.2) rotate(-90) scale(1,1.07)" y="11.2" font-size="30.6" stroke-width="0.7">U7012</text>
<text transform="translate(499.2,1963.2) rotate(-90) scale(1,1.07)" y="5.5" font-size="15" stroke-width="0.6">C7173</text>
<text transform="translate(499.6,2012.5) scale(1,1.07)" y="3.3" font-size="9.1" stroke-width="0.6">R7006</text>
<text transform="translate(499.6,2045.5) scale(1,1.07)" y="3.3" font-size="9.1" stroke-width="0.6">R7005</text>
<text transform="translate(559,1934.3) rotate(-90) scale(1,1.07)" y="9.5" font-size="26" stroke-width="0.7">R5000</text>
<text transform="translate(615.7,1900.5) rotate(-90) scale(1,1.07)" y="5.1" font-size="13.9" stroke-width="0.6">R5002</text>
<text transform="translate(615.7,1968.2) rotate(-90) scale(1,1.07)" y="5" font-size="13.8" stroke-width="0.6">R5001</text>
<text transform="translate(671.2,1937) rotate(-90) scale(1,1.07)" y="6.4" font-size="17.6" stroke-width="0.6">ZD5000</text>
<text transform="translate(232.3,2023.6) scale(1,1.07)" y="3.3" font-size="9" stroke-width="0.6">ZD6012</text>
<text transform="translate(284.3,2023.6) scale(1,1.07)" y="3.3" font-size="9" stroke-width="0.6">ZD6011</text>
<text transform="translate(248.8,2071.3) rotate(-90) scale(1,1.07)" y="5" font-size="13.7" stroke-width="0.6">R6024</text>
<text transform="translate(283.5,2071.3) rotate(-90) scale(1,1.07)" y="5" font-size="13.7" stroke-width="0.6">R6026</text>
<text transform="translate(323.8,2070.8) rotate(-90) scale(1,1.07)" y="3.3" font-size="9" stroke-width="0.6">R5021</text>
<text transform="translate(333.9,2110.3) scale(1,1.07)" y="5" font-size="13.8" stroke-width="0.6">R7009</text>
<text transform="translate(413.9,2095.5) scale(1,1.07)" y="3.3" font-size="9.1" stroke-width="0.6">C5086</text>
<text transform="translate(413.9,2119.9) scale(1,1.07)" y="3.3" font-size="9.1" stroke-width="0.6">R5006</text>
<text transform="translate(470.9,2107.5) scale(1,1.07)" y="5.2" font-size="14.3" stroke-width="0.6">Q5000</text>
<text transform="translate(518.5,2099.7) rotate(-90) scale(1,1.07)" y="3.3" font-size="9.1" stroke-width="0.6">R5029</text>
<text transform="translate(543.7,2099.7) rotate(-90) scale(1,1.07)" y="3.3" font-size="9.1" stroke-width="0.6">R5028</text>
<text transform="translate(569.3,2099.7) rotate(-90) scale(1,1.07)" y="3.3" font-size="9.1" stroke-width="0.6">C5051</text>
<text transform="translate(595,2099.7) rotate(-90) scale(1,1.07)" y="3.3" font-size="9.1" stroke-width="0.6">C5046</text>
<text transform="translate(393.5,2165.6) rotate(-90) scale(1,1.07)" y="5.1" font-size="14" stroke-width="0.6">R3012</text>
<text transform="translate(435.6,2158.1) scale(1,1.07)" y="3.5" font-size="9.6" stroke-width="0.6">C5087</text>
<text transform="translate(471.1,2151.1) rotate(-90) scale(1,1.07)" y="3.3" font-size="9" stroke-width="0.6">R5009</text>
<text transform="translate(494.4,2151.1) rotate(-90) scale(1,1.07)" y="3.3" font-size="9" stroke-width="0.6">R5011</text>
<text transform="translate(343,2172) scale(1,1.07)" y="4.7" font-size="13" stroke-width="0.6">U3018</text>
<text transform="translate(286.5,2193.4) rotate(-90) scale(1,1.07)" y="5.5" font-size="15" stroke-width="0.6">C3058</text>
<text transform="translate(344.9,2221.4) scale(1,1.07)" y="5.1" font-size="13.9" stroke-width="0.6">C3003</text>
<text transform="translate(613.2,2159.4) rotate(-90) scale(1,1.07)" y="5.3" font-size="14.5" stroke-width="0.6">C6025</text>
<text transform="translate(484,2216.1) rotate(-90) scale(1,1.07)" y="5.3" font-size="14.5" stroke-width="0.6">C6026</text>
<text transform="translate(453.1,2231.6) rotate(-90) scale(1,1.07)" y="3.3" font-size="9.1" stroke-width="0.6">R6014</text>
<text transform="translate(613,2244.7) rotate(-90) scale(1,1.07)" y="5" font-size="13.7" stroke-width="0.6">C6049</text>
<text transform="translate(690.8,2218.6) scale(1,1.07)" y="8.1" font-size="22.3" stroke-width="0.7">D6000</text>
<text transform="translate(2239.5,1135.1) rotate(-90) scale(1,1.07)" y="5" font-size="13.7" stroke-width="0.6">L2024</text>
<text transform="translate(2273.5,1135.1) rotate(-90) scale(1,1.07)" y="5" font-size="13.7" stroke-width="0.6">L2026</text>
<text transform="translate(2312.2,1131.8) scale(1,1.07)" y="3.3" font-size="9" stroke-width="0.6">L2023</text>
<text transform="translate(2312.2,1155.4) scale(1,1.07)" y="3.3" font-size="9" stroke-width="0.6">R2001</text>
<text transform="translate(2355,1168.8) rotate(-90) scale(1,1.07)" y="5.4" font-size="14.8" stroke-width="0.6">C2027</text>
<text transform="translate(2409.2,1124.9) scale(1,1.07)" y="5.1" font-size="13.9" stroke-width="0.6">L2009</text>
<text transform="translate(2409.2,1161.5) scale(1,1.07)" y="5.1" font-size="13.9" stroke-width="0.6">L2014</text>
<text transform="translate(2398.9,1192.3) scale(1,1.07)" y="3.3" font-size="9" stroke-width="0.6">L2022</text>
<text transform="translate(2236.8,1205.1) rotate(-90) scale(1,1.07)" y="3.3" font-size="9" stroke-width="0.6">C2045</text>
<text transform="translate(2260.1,1205.3) rotate(-90) scale(1,1.07)" y="3.3" font-size="9.1" stroke-width="0.6">U2011</text>
<text transform="translate(2283.7,1205.3) rotate(-90) scale(1,1.07)" y="3.3" font-size="9.1" stroke-width="0.6">L2036</text>
<text transform="translate(2307.3,1205.3) rotate(-90) scale(1,1.07)" y="3.3" font-size="9.1" stroke-width="0.6">C2018</text>
<text transform="translate(2237.2,1249.2) rotate(-90) scale(1,1.07)" y="3.3" font-size="9" stroke-width="0.6">L2037</text>
<text transform="translate(2260.1,1249.2) rotate(-90) scale(1,1.07)" y="3.3" font-size="9" stroke-width="0.6">L2027</text>
<text transform="translate(2283.7,1249.2) rotate(-90) scale(1,1.07)" y="3.3" font-size="9" stroke-width="0.6">L2031</text>
<text transform="translate(2307.3,1249.2) rotate(-90) scale(1,1.07)" y="3.3" font-size="9" stroke-width="0.6">L2021</text>
<text transform="translate(2348.2,1226.1) scale(1,1.07)" y="3.3" font-size="9" stroke-width="0.6">C2028</text>
<text transform="translate(2348.2,1249.4) scale(1,1.07)" y="3.3" font-size="9" stroke-width="0.6">L2017</text>
<text transform="translate(2348.2,1273) scale(1,1.07)" y="3.3" font-size="9" stroke-width="0.6">C2026</text>
<text transform="translate(2348.1,1297.1) scale(1,1.07)" y="3.3" font-size="9.1" stroke-width="0.6">C2025</text>
<text transform="translate(2392.3,1244.2) rotate(-90) scale(1,1.07)" y="5.6" font-size="15.4" stroke-width="0.6">C2029</text>
<text transform="translate(2393.9,1296.9) scale(1,1.07)" y="3.3" font-size="9.2" stroke-width="0.6">C2030</text>
<text transform="translate(2446.7,1210.1) rotate(-90) scale(1,1.07)" y="3.3" font-size="9" stroke-width="0.6">L1082</text>
<text transform="translate(2436.6,1243.9) scale(1,1.07)" y="3.3" font-size="9.1" stroke-width="0.6">L1083</text>
<text transform="translate(2470.1,1233.8) rotate(-90) scale(1,1.07)" y="3.3" font-size="9.1" stroke-width="0.6">L1057</text>
<text transform="translate(2493.1,1233.8) rotate(-90) scale(1,1.07)" y="3.3" font-size="9.1" stroke-width="0.6">L1054</text>
<text transform="translate(2516.5,1233.8) rotate(-90) scale(1,1.07)" y="3.3" font-size="9.1" stroke-width="0.6">L1040</text>
<text transform="translate(2542.4,1233.8) rotate(-90) scale(1,1.07)" y="3.3" font-size="9.1" stroke-width="0.6">C1008</text>
<text transform="translate(2565.7,1233.8) rotate(-90) scale(1,1.07)" y="3.3" font-size="9.1" stroke-width="0.6">C1003</text>
<text transform="translate(2446.7,1278) rotate(-90) scale(1,1.07)" y="3.3" font-size="9" stroke-width="0.6">L1081</text>
<text transform="translate(2470.1,1278) rotate(-90) scale(1,1.07)" y="3.3" font-size="9" stroke-width="0.6">L1055</text>
<text transform="translate(2493.1,1278) rotate(-90) scale(1,1.07)" y="3.3" font-size="9" stroke-width="0.6">L1041</text>
<text transform="translate(2516.5,1280) rotate(-90) scale(1,1.07)" y="3.3" font-size="9.1" stroke-width="0.6">C1055</text>
<text transform="translate(2542.5,1280) rotate(-90) scale(1,1.07)" y="3.3" font-size="9.1" stroke-width="0.6">L1002</text>
<text transform="translate(2565.7,1280) rotate(-90) scale(1,1.07)" y="3.3" font-size="9.1" stroke-width="0.6">L1012</text>
<text transform="translate(2588.9,1280) rotate(-90) scale(1,1.07)" y="3.3" font-size="9.1" stroke-width="0.6">L1009</text>
<text transform="translate(2612.2,1280) rotate(-90) scale(1,1.07)" y="3.3" font-size="9.1" stroke-width="0.6">L1011</text>
<text transform="translate(2535,1177.2) rotate(-90) scale(1,1.07)" y="4.9" font-size="13.4" stroke-width="0.6">F1000</text>
<text transform="translate(2534.3,1117.2) rotate(-90) scale(1,1.07)" y="3.2" font-size="8.9" stroke-width="0.6">L1003</text>
<text transform="translate(2558,1117.2) rotate(-90) scale(1,1.07)" y="3.3" font-size="9.1" stroke-width="0.6">L1001</text>
<text transform="translate(2604.6,1119.6) scale(1,1.07)" y="4.7" font-size="13" stroke-width="0.6">U1000</text>
<text transform="translate(2651.3,1117.2) rotate(-90) scale(1,1.07)" y="3.2" font-size="8.9" stroke-width="0.6">C1001</text>
<text transform="translate(2689.8,1130.2) rotate(-90) scale(1,1.07)" y="3.3" font-size="9.1" stroke-width="0.6">C1095</text>
<text transform="translate(2715.5,1130.2) rotate(-90) scale(1,1.07)" y="3.3" font-size="9.1" stroke-width="0.6">R1005</text>
<text transform="translate(2741.6,1130.2) rotate(-90) scale(1,1.07)" y="2.9" font-size="8" stroke-width="0.6">TH1000</text>
<text transform="translate(2617.4,1163.8) scale(1,1.07)" y="3.3" font-size="9.1" stroke-width="0.6">C1002</text>
<text transform="translate(2617.4,1189.7) scale(1,1.07)" y="3.3" font-size="9.1" stroke-width="0.6">C1007</text>
<text transform="translate(2690.1,1166.5) scale(1,1.07)" y="3.3" font-size="9.2" stroke-width="0.6">C1028</text>
<text transform="translate(2625.3,1225.7) rotate(-90) scale(1,1.07)" y="3.3" font-size="9.1" stroke-width="0.6">L1000</text>
<text transform="translate(2790.5,1138) rotate(-90) scale(1,1.07)" y="3.3" font-size="9.1" stroke-width="0.6">C1006</text>
<text transform="translate(2816.5,1138) rotate(-90) scale(1,1.07)" y="3.3" font-size="9.1" stroke-width="0.6">C1010</text>
<text transform="translate(2800.9,1174.1) scale(1,1.07)" y="3.3" font-size="9.1" stroke-width="0.6">C1011</text>
<text transform="translate(2891.3,1130) scale(1,1.07)" y="6.4" font-size="17.6" stroke-width="0.6">F1006</text>
<text transform="translate(2953.5,1114.5) rotate(-90) scale(1,1.07)" y="3.3" font-size="9.1" stroke-width="0.6">C1005</text>
<text transform="translate(2979.3,1114.5) rotate(-90) scale(1,1.07)" y="3.3" font-size="9.1" stroke-width="0.6">C1009</text>
<text transform="translate(3005.2,1114.5) rotate(-90) scale(1,1.07)" y="3.3" font-size="9.1" stroke-width="0.6">C1004</text>
<text transform="translate(3031.2,1114.5) rotate(-90) scale(1,1.07)" y="3.3" font-size="9.1" stroke-width="0.6">L1004</text>
<text transform="translate(2963.9,1156.1) scale(1,1.07)" y="3.3" font-size="9.2" stroke-width="0.6">R1000</text>
<text transform="translate(3098.4,1174.3) scale(1,1.07)" y="5.7" font-size="15.6" stroke-width="0.6">C1063</text>
<text transform="translate(2981.2,1205.1) scale(1,1.07)" y="6.3" font-size="17.2" stroke-width="0.6">ZD1001</text>
<text transform="translate(3095.6,1207.8) scale(1,1.07)" y="3.3" font-size="9.1" stroke-width="0.6">C1061</text>
<text transform="translate(3095.6,1231.2) scale(1,1.07)" y="3.3" font-size="9.1" stroke-width="0.6">C1062</text>
<text transform="translate(3129.3,1220.5) rotate(-90) scale(1,1.07)" y="3.3" font-size="9" stroke-width="0.6">C1098</text>
<text transform="translate(3152.7,1220.5) rotate(-90) scale(1,1.07)" y="3.3" font-size="9" stroke-width="0.6">C1070</text>
<text transform="translate(3176.1,1220.5) rotate(-90) scale(1,1.07)" y="3.3" font-size="9" stroke-width="0.6">L1047</text>
<text transform="translate(3199.6,1220.5) rotate(-90) scale(1,1.07)" y="3.3" font-size="9" stroke-width="0.6">L1048</text>
<text transform="translate(2751.8,1404.2) rotate(-90) scale(1,1.07)" y="29.9" font-size="82" stroke-width="1.2">U1002</text>
<text transform="translate(3124.2,1432.8) rotate(-90) scale(1,1.07)" y="22.8" font-size="62.5" stroke-width="1">PAM1001</text>
<text transform="translate(3258.3,1252) rotate(-90) scale(1,1.07)" y="3.3" font-size="9.2" stroke-width="0.6">C1074</text>
<text transform="translate(3258.3,1295.8) rotate(-90) scale(1,1.07)" y="3.3" font-size="9.1" stroke-width="0.6">L1056</text>
<text transform="translate(3258.3,1339.5) rotate(-90) scale(1,1.07)" y="3.3" font-size="9.1" stroke-width="0.6">C1073</text>
<text transform="translate(3261.5,1383.9) rotate(-90) scale(1,1.07)" y="3.3" font-size="9.1" stroke-width="0.6">C1069</text>
<text transform="translate(3261.2,1430) rotate(-90) scale(1,1.07)" y="3.6" font-size="9.8" stroke-width="0.6">C1068</text>
<text transform="translate(3266.6,1492.3) scale(1,1.07)" y="3.3" font-size="9" stroke-width="0.6">C1067</text>
<text transform="translate(3266.6,1518.2) scale(1,1.07)" y="3.3" font-size="9" stroke-width="0.6">C1047</text>
<text transform="translate(3266.6,1541.2) scale(1,1.07)" y="3.4" font-size="9.2" stroke-width="0.6">L1036</text>
<text transform="translate(3266.6,1564.8) scale(1,1.07)" y="3.4" font-size="9.2" stroke-width="0.6">C1046</text>
<text transform="translate(3266.6,1588.2) scale(1,1.07)" y="3.4" font-size="9.2" stroke-width="0.6">C1096</text>
<text transform="translate(2891.3,1262.3) scale(1,1.07)" y="3.3" font-size="9.1" stroke-width="0.6">C1033</text>
<text transform="translate(2935.2,1262.3) scale(1,1.07)" y="3.3" font-size="9.1" stroke-width="0.6">L1026</text>
<text transform="translate(2979.5,1262.3) scale(1,1.07)" y="3.3" font-size="9.2" stroke-width="0.6">C1032</text>
<text transform="translate(2891.3,1293.1) scale(1,1.07)" y="3.3" font-size="9.1" stroke-width="0.6">C1043</text>
<text transform="translate(2935.2,1293.1) scale(1,1.07)" y="3.3" font-size="9.1" stroke-width="0.6">L1031</text>
<text transform="translate(2979.5,1293.1) scale(1,1.07)" y="3.3" font-size="9.2" stroke-width="0.6">C1042</text>
<text transform="translate(2891.3,1324.1) scale(1,1.07)" y="3.3" font-size="9.1" stroke-width="0.6">C1076</text>
<text transform="translate(2935.2,1324.1) scale(1,1.07)" y="3.3" font-size="9.1" stroke-width="0.6">L1053</text>
<text transform="translate(2979.5,1324.1) scale(1,1.07)" y="3.3" font-size="9.2" stroke-width="0.6">C1075</text>
<text transform="translate(2891.3,1355.2) scale(1,1.07)" y="3.3" font-size="9.1" stroke-width="0.6">C1072</text>
<text transform="translate(2935.2,1355.2) scale(1,1.07)" y="3.3" font-size="9.1" stroke-width="0.6">L1046</text>
<text transform="translate(2979.5,1355.2) scale(1,1.07)" y="3.3" font-size="9.2" stroke-width="0.6">C1071</text>
<text transform="translate(2891.3,1386.2) scale(1,1.07)" y="3.3" font-size="9.1" stroke-width="0.6">C1065</text>
<text transform="translate(2935.2,1386.2) scale(1,1.07)" y="3.3" font-size="9.1" stroke-width="0.6">L1043</text>
<text transform="translate(2979.5,1386.2) scale(1,1.07)" y="3.3" font-size="9.2" stroke-width="0.6">C1064</text>
<text transform="translate(2891.3,1417.2) scale(1,1.07)" y="3.3" font-size="9.1" stroke-width="0.6">C1052</text>
<text transform="translate(2935.2,1417.2) scale(1,1.07)" y="3.3" font-size="9.1" stroke-width="0.6">L1037</text>
<text transform="translate(2979.5,1417.2) scale(1,1.07)" y="3.3" font-size="9.2" stroke-width="0.6">C1051</text>
<text transform="translate(2891.3,1448.3) scale(1,1.07)" y="3.3" font-size="9.1" stroke-width="0.6">L1075</text>
<text transform="translate(2935.2,1448.3) scale(1,1.07)" y="3.3" font-size="9.1" stroke-width="0.6">L1073</text>
<text transform="translate(2979.5,1448.3) scale(1,1.07)" y="3.3" font-size="9.2" stroke-width="0.6">C1093</text>
<text transform="translate(2914.8,1474) scale(1,1.07)" y="3.3" font-size="9.1" stroke-width="0.6">L1069</text>
<text transform="translate(2963.8,1474) scale(1,1.07)" y="3.3" font-size="9" stroke-width="0.6">C1101</text>
<text transform="translate(2894.1,1512.8) rotate(-90) scale(1,1.07)" y="3.4" font-size="9.2" stroke-width="0.6">U1006</text>
<text transform="translate(2935.3,1499.8) scale(1,1.07)" y="3.3" font-size="9" stroke-width="0.6">C1089</text>
<text transform="translate(2979.6,1499.8) scale(1,1.07)" y="3.3" font-size="9" stroke-width="0.6">C1091</text>
<text transform="translate(2935.1,1528.3) scale(1,1.07)" y="3.3" font-size="9.2" stroke-width="0.6">C1085</text>
<text transform="translate(2979.9,1528.9) scale(1,1.07)" y="3.3" font-size="8.9" stroke-width="0.6">L1066</text>
<text transform="translate(2901.9,1559.1) scale(1,1.07)" y="3.4" font-size="9.2" stroke-width="0.6">L1063</text>
<text transform="translate(2948.2,1559.1) scale(1,1.07)" y="3.3" font-size="9.2" stroke-width="0.6">L1062</text>
<text transform="translate(2984.6,1572.2) rotate(-90) scale(1,1.07)" y="3.3" font-size="9.2" stroke-width="0.6">C1084</text>
<text transform="translate(2904.5,1594.6) rotate(-90) scale(1,1.07)" y="3.3" font-size="9" stroke-width="0.6">L1077</text>
<text transform="translate(2939.8,1584.8) scale(1,1.07)" y="3.3" font-size="9.2" stroke-width="0.6">C1094</text>
<text transform="translate(2977.7,1610.2) scale(1,1.07)" y="3.3" font-size="9.1" stroke-width="0.6">L1079</text>
<text transform="translate(2532.2,1326.8) scale(1,1.07)" y="3.3" font-size="9" stroke-width="0.6">C1023</text>
<text transform="translate(2575.9,1326.8) scale(1,1.07)" y="3.3" font-size="9" stroke-width="0.6">L1013</text>
<text transform="translate(2531.6,1355.2) scale(1,1.07)" y="3.3" font-size="9.1" stroke-width="0.6">C1013</text>
<text transform="translate(2575.1,1355.2) scale(1,1.07)" y="3.3" font-size="9" stroke-width="0.6">L1006</text>
<text transform="translate(2532.2,1383.7) scale(1,1.07)" y="3.3" font-size="9" stroke-width="0.6">L1021</text>
<text transform="translate(2575.9,1383.7) scale(1,1.07)" y="3.3" font-size="9" stroke-width="0.6">L1020</text>
<text transform="translate(2612,1324) rotate(-90) scale(1,1.07)" y="3.3" font-size="9" stroke-width="0.6">L1015</text>
<text transform="translate(2608.7,1368.2) rotate(-90) scale(1,1.07)" y="3.3" font-size="9.1" stroke-width="0.6">L1007</text>
<text transform="translate(2536.9,1412.2) scale(1,1.07)" y="3.3" font-size="8.9" stroke-width="0.6">C2047</text>
<text transform="translate(2581.2,1412.2) scale(1,1.07)" y="3.3" font-size="9" stroke-width="0.6">C1027</text>
<text transform="translate(2536.2,1435.5) scale(1,1.07)" y="3.3" font-size="9.1" stroke-width="0.6">C2046</text>
<text transform="translate(2569.1,1448.2) rotate(-90) scale(1,1.07)" y="3.2" font-size="8.9" stroke-width="0.6">C1029</text>
<text transform="translate(2592.4,1447.9) rotate(-90) scale(1,1.07)" y="3.3" font-size="9.1" stroke-width="0.6">L1023</text>
<text transform="translate(2616.4,1448.2) rotate(-90) scale(1,1.07)" y="3.2" font-size="8.9" stroke-width="0.6">L1024</text>
<text transform="translate(2540.6,1469.1) rotate(-90) scale(1,1.07)" y="3.3" font-size="9.1" stroke-width="0.6">C1026</text>
<text transform="translate(2574.8,1481.9) scale(1,1.07)" y="3.3" font-size="9.2" stroke-width="0.6">L1018</text>
<text transform="translate(2574.9,1505) scale(1,1.07)" y="3.3" font-size="9" stroke-width="0.6">C1025</text>
<text transform="translate(2608.3,1494.7) rotate(-90) scale(1,1.07)" y="3.3" font-size="9.1" stroke-width="0.6">L1019</text>
<text transform="translate(2576.1,1528.5) scale(1,1.07)" y="3.3" font-size="9.1" stroke-width="0.6">L1016</text>
<text transform="translate(2576.1,1551.8) scale(1,1.07)" y="3.3" font-size="9.1" stroke-width="0.6">L1074</text>
<text transform="translate(2576.1,1575.1) scale(1,1.07)" y="3.3" font-size="9.1" stroke-width="0.6">L1068</text>
<text transform="translate(2576.1,1598.6) scale(1,1.07)" y="3.3" font-size="9.1" stroke-width="0.6">L1070</text>
<text transform="translate(2609.8,1541.2) rotate(-90) scale(1,1.07)" y="3.3" font-size="9.2" stroke-width="0.6">L1017</text>
<text transform="translate(2247.3,1347.2) rotate(-90) scale(1,1.07)" y="5.6" font-size="15.4" stroke-width="0.6">C2023</text>
<text transform="translate(2246.9,1423.8) rotate(-90) scale(1,1.07)" y="5.6" font-size="15.5" stroke-width="0.6">C2033</text>
<text transform="translate(2247.5,1500) rotate(-90) scale(1,1.07)" y="5.6" font-size="15.4" stroke-width="0.6">C2038</text>
<text transform="translate(2283.7,1363) rotate(-90) scale(1,1.07)" y="3.3" font-size="9.2" stroke-width="0.6">C2024</text>
<text transform="translate(2283.7,1406.7) rotate(-90) scale(1,1.07)" y="3.3" font-size="9" stroke-width="0.6">C2100</text>
<text transform="translate(2283.9,1453.4) rotate(-90) scale(1,1.07)" y="3.3" font-size="9" stroke-width="0.6">C2034</text>
<text transform="translate(2283.9,1499.8) rotate(-90) scale(1,1.07)" y="3.3" font-size="9" stroke-width="0.6">C2037</text>
<text transform="translate(2244.9,1551.5) scale(1,1.07)" y="3.3" font-size="9.2" stroke-width="0.6">C2021</text>
<text transform="translate(2289,1551.5) scale(1,1.07)" y="3.3" font-size="9.1" stroke-width="0.6">C2020</text>
<text transform="translate(2333.2,1551.5) scale(1,1.07)" y="3.3" font-size="9.1" stroke-width="0.6">L3017</text>
<text transform="translate(2245.2,1582.2) scale(1,1.07)" y="3.2" font-size="8.8" stroke-width="0.6">C3017</text>
<text transform="translate(2244.9,1606) scale(1,1.07)" y="3.3" font-size="9.2" stroke-width="0.6">L3016</text>
<text transform="translate(2309,1603.6) scale(1,1.07)" y="5.3" font-size="14.5" stroke-width="0.6">F3002</text>
<text transform="translate(2351.1,1587.8) rotate(-90) scale(1,1.07)" y="3.3" font-size="9.1" stroke-width="0.6">C3056</text>
<text transform="translate(2428.6,1551.6) scale(1,1.07)" y="3.3" font-size="9.1" stroke-width="0.6">C1099</text>
<text transform="translate(2428.6,1587.6) scale(1,1.07)" y="3.3" font-size="9.1" stroke-width="0.6">C2036</text>
<text transform="translate(2428.6,1613.8) scale(1,1.07)" y="3.3" font-size="9.1" stroke-width="0.6">L2028</text>
<text transform="translate(2428.6,1639.8) scale(1,1.07)" y="3.3" font-size="9.1" stroke-width="0.6">C2035</text>
<text transform="translate(2485.4,1559.1) scale(1,1.07)" y="3.4" font-size="9.2" stroke-width="0.6">C2032</text>
<text transform="translate(2485.4,1585.5) scale(1,1.07)" y="3.4" font-size="9.2" stroke-width="0.6">C2031</text>
<text transform="translate(2485.4,1611.2) scale(1,1.07)" y="3.4" font-size="9.2" stroke-width="0.6">L2015</text>
<text transform="translate(2469.9,1655) rotate(-90) scale(1,1.07)" y="3.3" font-size="9.2" stroke-width="0.6">C2053</text>
<text transform="translate(2707.9,1603.5) scale(1,1.07)" y="3.3" font-size="9.1" stroke-width="0.6">C1021</text>
<text transform="translate(2754.5,1603.5) scale(1,1.07)" y="3.3" font-size="9.2" stroke-width="0.6">C1022</text>
<text transform="translate(2707.8,1629) scale(1,1.07)" y="3.3" font-size="8.9" stroke-width="0.6">L1067</text>
<text transform="translate(2754.5,1629) scale(1,1.07)" y="3.3" font-size="9" stroke-width="0.6">C1086</text>
<text transform="translate(2803.5,1605.8) scale(1,1.07)" y="3.3" font-size="9.1" stroke-width="0.6">L1072</text>
<text transform="translate(2803.5,1629) scale(1,1.07)" y="3.3" font-size="9.1" stroke-width="0.6">L1064</text>
<text transform="translate(2803.5,1653.2) scale(1,1.07)" y="3.3" font-size="9.1" stroke-width="0.6">C1087</text>
<text transform="translate(2803.5,1678.4) scale(1,1.07)" y="3.3" font-size="9.1" stroke-width="0.6">L1071</text>
<text transform="translate(2842.4,1616.5) rotate(-90) scale(1,1.07)" y="3.3" font-size="9" stroke-width="0.6">C1088</text>
<text transform="translate(2842.4,1660.4) rotate(-90) scale(1,1.07)" y="3.3" font-size="9" stroke-width="0.6">L1065</text>
<text transform="translate(2896.6,1629) scale(1,1.07)" y="3.3" font-size="9.1" stroke-width="0.6">C1017</text>
<text transform="translate(2896.6,1655.1) scale(1,1.07)" y="3.3" font-size="9.1" stroke-width="0.6">C1015</text>
<text transform="translate(2896.6,1680.8) scale(1,1.07)" y="3.3" font-size="9.1" stroke-width="0.6">C1018</text>
<text transform="translate(3026,1634.3) scale(1,1.07)" y="3.3" font-size="9.1" stroke-width="0.6">C1079</text>
<text transform="translate(3072.6,1634.3) scale(1,1.07)" y="3.3" font-size="9" stroke-width="0.6">C1057</text>
<text transform="translate(3108.4,1647.2) rotate(-90) scale(1,1.07)" y="3.3" font-size="9.2" stroke-width="0.6">C1056</text>
<text transform="translate(3134.6,1647.3) rotate(-90) scale(1,1.07)" y="3.6" font-size="9.7" stroke-width="0.6">C1058</text>
<text transform="translate(3206.8,1645) rotate(-90) scale(1,1.07)" y="3.3" font-size="9.2" stroke-width="0.6">C1097</text>
<text transform="translate(3230.1,1644.8) rotate(-90) scale(1,1.07)" y="3.2" font-size="8.9" stroke-width="0.6">C1059</text>
<text transform="translate(3253.2,1645) rotate(-90) scale(1,1.07)" y="3.3" font-size="9.2" stroke-width="0.6">L1044</text>
<text transform="translate(3277,1645) rotate(-90) scale(1,1.07)" y="3.3" font-size="9.2" stroke-width="0.6">C1060</text>
<text transform="translate(3057.1,1680.8) scale(1,1.07)" y="3.3" font-size="9.2" stroke-width="0.6">C1078</text>
<text transform="translate(3095.9,1706.8) scale(1,1.07)" y="3.3" font-size="9.2" stroke-width="0.6">L1061</text>
<text transform="translate(3157.6,1737.7) scale(1,1.07)" y="3.3" font-size="9.1" stroke-width="0.6">R1002</text>
<text transform="translate(3147.4,1773.8) rotate(-90) scale(1,1.07)" y="3.3" font-size="9.1" stroke-width="0.6">R1001</text>
<text transform="translate(3173.4,1773.8) rotate(-90) scale(1,1.07)" y="3.3" font-size="9.1" stroke-width="0.6">R1003</text>
<text transform="translate(3199.3,1773.8) rotate(-90) scale(1,1.07)" y="3.3" font-size="9.1" stroke-width="0.6">C1024</text>
<text transform="translate(2757.4,1719.4) rotate(-90) scale(1,1.07)" y="3.3" font-size="9" stroke-width="0.6">C1083</text>
<text transform="translate(2781.1,1719.4) rotate(-90) scale(1,1.07)" y="3.3" font-size="9" stroke-width="0.6">C1080</text>
<text transform="translate(2804,1719.4) rotate(-90) scale(1,1.07)" y="3.3" font-size="9" stroke-width="0.6">C1082</text>
<text transform="translate(2545.1,1626.7) scale(1,1.07)" y="3.3" font-size="9.2" stroke-width="0.6">C1045</text>
<text transform="translate(2545.1,1652.3) scale(1,1.07)" y="3.3" font-size="9.2" stroke-width="0.6">C1049</text>
<text transform="translate(2545.1,1675.8) scale(1,1.07)" y="3.3" font-size="9.2" stroke-width="0.6">L1035</text>
<text transform="translate(2544.9,1704.5) scale(1,1.07)" y="3.4" font-size="9.2" stroke-width="0.6">C1050</text>
<text transform="translate(2596.6,1636.8) scale(1,1.07)" y="3.3" font-size="9.1" stroke-width="0.6">L1080</text>
<text transform="translate(2609.4,1670.8) rotate(-90) scale(1,1.07)" y="3.3" font-size="9" stroke-width="0.6">L1076</text>
<text transform="translate(2600.4,1704.3) scale(1,1.07)" y="3.3" font-size="9" stroke-width="0.6">L1078</text>
<text transform="translate(2495.7,1704.2) scale(1,1.07)" y="3.3" font-size="9.1" stroke-width="0.6">C1040</text>
<text transform="translate(2682.2,1691.3) scale(1,1.07)" y="9.1" font-size="25" stroke-width="0.7">F1005</text>
<text transform="translate(2387.3,1719.8) rotate(-90) scale(1,1.07)" y="5.3" font-size="14.5" stroke-width="0.6">C1038</text>
<text transform="translate(2388.6,1768.6) scale(1,1.07)" y="3.3" font-size="9" stroke-width="0.6">C1036</text>
<text transform="translate(2388.4,1795) scale(1,1.07)" y="3.3" font-size="9.1" stroke-width="0.6">C1037</text>
<text transform="translate(2389.9,1843.8) rotate(-90) scale(1,1.07)" y="5.5" font-size="15" stroke-width="0.6">C1039</text>
<text transform="translate(2497.1,1805) scale(1,1.07)" y="10.3" font-size="28.2" stroke-width="0.7">PAM1000</text>
<text transform="translate(2595.4,1793.4) rotate(-90) scale(1,1.07)" y="3.3" font-size="9" stroke-width="0.6">L1049</text>
<text transform="translate(2630.2,1781.5) scale(1,1.07)" y="3.3" font-size="9.2" stroke-width="0.6">L1050</text>
<text transform="translate(2630.2,1806.6) scale(1,1.07)" y="3.3" font-size="9.2" stroke-width="0.6">C1066</text>
<text transform="translate(2700,1786.8) scale(1,1.07)" y="6.6" font-size="18" stroke-width="0.6">F1003</text>
<text transform="translate(2749.3,1779) rotate(-90) scale(1,1.07)" y="3.3" font-size="9.1" stroke-width="0.6">L1051</text>
<text transform="translate(2785.4,1766.1) scale(1,1.07)" y="3.4" font-size="9.2" stroke-width="0.6">L1045</text>
<text transform="translate(2821.6,1779.2) rotate(-90) scale(1,1.07)" y="3.3" font-size="9" stroke-width="0.6">L1052</text>
<text transform="translate(2612.2,1841.3) rotate(-90) scale(1,1.07)" y="3.3" font-size="9.1" stroke-width="0.6">C1053</text>
<text transform="translate(2648.4,1848.8) scale(1,1.07)" y="3.3" font-size="9.2" stroke-width="0.6">L1038</text>
<text transform="translate(2684.6,1841.3) rotate(-90) scale(1,1.07)" y="3.3" font-size="9.1" stroke-width="0.6">C1054</text>
<text transform="translate(2790,1885.2) rotate(-90) scale(1,1.07)" y="9.1" font-size="25" stroke-width="0.7">F1002</text>
<text transform="translate(2645.8,1926.7) rotate(-90) scale(1,1.07)" y="6.7" font-size="18.3" stroke-width="0.6">U1004</text>
<text transform="translate(2718.4,1921.2) rotate(-90) scale(1,1.07)" y="3.3" font-size="9" stroke-width="0.6">L1042</text>
<text transform="translate(2694.9,1947.2) rotate(-90) scale(1,1.07)" y="3.3" font-size="9.2" stroke-width="0.6">C1048</text>
<text transform="translate(2731.1,1957.7) scale(1,1.07)" y="3.4" font-size="9.2" stroke-width="0.6">L1039</text>
<text transform="translate(2493.4,1908.4) scale(1,1.07)" y="3.3" font-size="9.2" stroke-width="0.6">C1034</text>
<text transform="translate(2493.4,1934.4) scale(1,1.07)" y="3.3" font-size="9.2" stroke-width="0.6">L1027</text>
<text transform="translate(2493.4,1960.2) scale(1,1.07)" y="3.3" font-size="9.2" stroke-width="0.6">L1029</text>
<text transform="translate(2552.8,1931.6) scale(1,1.07)" y="3.4" font-size="9.2" stroke-width="0.6">L1025</text>
<text transform="translate(2588.9,1924.1) rotate(-90) scale(1,1.07)" y="3.3" font-size="9.1" stroke-width="0.6">C1044</text>
<text transform="translate(2578.7,1957.8) scale(1,1.07)" y="3.3" font-size="9" stroke-width="0.6">C1041</text>
<text transform="translate(2860.4,1833.3) scale(1,1.07)" y="3.3" font-size="9.1" stroke-width="0.6">C1020</text>
<text transform="translate(2896.4,1838.8) rotate(-90) scale(1,1.07)" y="3.3" font-size="9.1" stroke-width="0.6">C1012</text>
<text transform="translate(2922.6,1838.8) rotate(-90) scale(1,1.07)" y="3.3" font-size="9.1" stroke-width="0.6">C1019</text>
<text transform="translate(2847.6,1872.2) rotate(-90) scale(1,1.07)" y="3.3" font-size="9.1" stroke-width="0.6">L1034</text>
<text transform="translate(2883.8,1882.5) scale(1,1.07)" y="3.3" font-size="9.2" stroke-width="0.6">L1032</text>
<text transform="translate(2919.9,1890.2) rotate(-90) scale(1,1.07)" y="3.3" font-size="8.9" stroke-width="0.6">L1033</text>
<text transform="translate(2969.1,1885.1) scale(1,1.07)" y="3.3" font-size="9.1" stroke-width="0.6">L1030</text>
<text transform="translate(2969.1,1908.3) scale(1,1.07)" y="3.3" font-size="9.1" stroke-width="0.6">L1028</text>
<text transform="translate(2969.1,1932) scale(1,1.07)" y="3.3" font-size="9.1" stroke-width="0.6">C1035</text>
<text transform="translate(2916,1947.3) scale(1,1.07)" y="5.7" font-size="15.6" stroke-width="0.6">F1001</text>
<text transform="translate(3061.9,1781.8) rotate(-90) scale(1,1.07)" y="9.5" font-size="26" stroke-width="0.7">F1004</text>
<text transform="translate(3051.8,1869.6) rotate(-90) scale(1,1.07)" y="3.3" font-size="9" stroke-width="0.6">C1090</text>
<text transform="translate(3090.5,1859.4) scale(1,1.07)" y="3.3" font-size="9.2" stroke-width="0.6">C1092</text>
<text transform="translate(3134.7,1854.3) scale(1,1.07)" y="3.4" font-size="9.2" stroke-width="0.6">L1005</text>
<text transform="translate(3439.7,1786.8) rotate(-90) scale(1,1.07)" y="8.3" font-size="22.7" stroke-width="0.7">CLIP1000</text>
<text transform="translate(2896.8,2053.2) scale(1,1.07)" y="3.6" font-size="9.9" stroke-width="0.6">C7039</text>
<text transform="translate(2896.8,2084.4) scale(1,1.07)" y="3.6" font-size="9.9" stroke-width="0.6">C7037</text>
<text transform="translate(3079.9,2055.9) scale(1,1.07)" y="3.3" font-size="9.2" stroke-width="0.6">C6021</text>
<text transform="translate(3139.8,2058.7) scale(1,1.07)" y="5.5" font-size="15" stroke-width="0.6">C6020</text>
<text transform="translate(3093.2,2117.9) scale(1,1.07)" y="6.1" font-size="16.7" stroke-width="0.6">U7010</text>
<text transform="translate(3067.2,2172.1) rotate(-90) scale(1,1.07)" y="3.4" font-size="9.3" stroke-width="0.6">C7025</text>
<text transform="translate(3103.5,2164.4) scale(1,1.07)" y="3.4" font-size="9.3" stroke-width="0.6">C7024</text>
<text transform="translate(3103.5,2190.5) scale(1,1.07)" y="3.4" font-size="9.3" stroke-width="0.6">C7038</text>
<text transform="translate(3370,1999.2) scale(1,1.07)" y="3.1" font-size="8.5" stroke-width="0.6">R6015</text>
<text transform="translate(3429.1,1999.2) scale(1,1.07)" y="3.1" font-size="8.5" stroke-width="0.6">R6019</text>
<text transform="translate(3429.1,2035) scale(1,1.07)" y="3.1" font-size="8.5" stroke-width="0.6">R6021</text>
<text transform="translate(3429.1,2071) scale(1,1.07)" y="3.1" font-size="8.5" stroke-width="0.6">R6000</text>
<text transform="translate(3370.2,2035) scale(1,1.07)" y="3.8" font-size="10.5" stroke-width="0.6">U6035</text>
<text transform="translate(3370.2,2071.2) scale(1,1.07)" y="3.8" font-size="10.5" stroke-width="0.6">R6002</text>
<text transform="translate(1216.5,363) rotate(-90) scale(1,1.07)" y="10.5" font-size="28.7" stroke-width="0.7">MIC6000</text>
<text transform="translate(980.3,599.6) scale(1,1.07)" y="10.6" font-size="29" stroke-width="0.7">HDC5001</text>
<text transform="translate(1241.4,651.7) scale(1,1.07)" y="7.5" font-size="20.7" stroke-width="0.7">RFS2000</text>
<text transform="translate(1102.5,1114.8) rotate(-90) scale(1,1.07)" y="25.1" font-size="68.8" stroke-width="1.1">U5002</text>
<text transform="translate(1798,1246.5) scale(1,1.07)" y="21.9" font-size="60.2" stroke-width="1">UME5000</text>
<text transform="translate(2403,1425) rotate(-90) scale(1,1.07)" y="17.1" font-size="47" stroke-width="0.9">U2016</text>
<text transform="translate(2793.4,869.6) rotate(-90) scale(1,1.07)" y="11.7" font-size="32" stroke-width="0.8">U3002</text>
<text transform="translate(2389.5,944.5) scale(1,1.07)" y="7.4" font-size="20.4" stroke-width="0.7">U2020</text>
<text transform="translate(2098,1887.8) rotate(-90) scale(1,1.07)" y="8.2" font-size="22.5" stroke-width="0.7">U2000</text>
<text transform="translate(1805.8,2072) rotate(-90) scale(1,1.07)" y="10" font-size="27.5" stroke-width="0.7">U6002</text>
<text transform="translate(548.7,2185.6) rotate(-90) scale(1,1.07)" y="10.2" font-size="28" stroke-width="0.7">U6028</text>
<text transform="translate(2900.5,1756.2) scale(1,1.07)" y="10.1" font-size="27.8" stroke-width="0.7">U1001</text>
<text transform="translate(218.8,1808.2) scale(1,1.07)" y="9.7" font-size="26.7" stroke-width="0.7">HDC5002</text>
<text transform="translate(888.7,2061) rotate(-90) scale(1,1.07)" y="9.7" font-size="26.5" stroke-width="0.7">HDC5000</text>
<text transform="translate(1384.5,2148.7) scale(1,1.07)" y="24.5" font-size="67.3" stroke-width="1">HDC6000</text>
<text transform="translate(2574.5,2151) scale(1,1.07)" y="25.7" font-size="70.5" stroke-width="1.1">HDC7003</text>
<text transform="translate(3419.2,1321.3) rotate(-90) scale(1,1.07)" y="8.6" font-size="23.7" stroke-width="0.7">RFS1000</text>
</g>
<g class="tp">
<text x="911.4" y="1061.4" font-size="3.4" text-anchor="middle">TP5007</text>
<text x="1365.6" y="1281.2" font-size="3.4" text-anchor="middle">TP5013</text>
<text x="826.6" y="1594.3" font-size="3.4" text-anchor="middle">TP5006</text>
<text x="849.9" y="1594.3" font-size="3.4" text-anchor="middle">TP5011</text>
<text x="872.9" y="1594.3" font-size="3.4" text-anchor="middle">TP5016</text>
<text x="1122.4" y="1892.4" font-size="3.4" text-anchor="middle">TP4001</text>
<text x="1211" y="1896.2" font-size="3.4" text-anchor="middle">TP4002</text>
<text x="1622" y="1561.8" font-size="3.4" text-anchor="middle">TP5001</text>
<text x="1646" y="1561.8" font-size="3.4" text-anchor="middle">TP5002</text>
<text x="1714.8" y="1560.6" font-size="3.4" text-anchor="middle">TP5003</text>
<text x="1738" y="1560.6" font-size="3.4" text-anchor="middle">TP5004</text>
<text x="1665.7" y="1703.9" font-size="3.4" text-anchor="middle">TP5014</text>
<text x="2119.8" y="1972.2" font-size="3.4" text-anchor="middle">TP6000</text>
<text x="2552.4" y="2074.1" font-size="3.4" text-anchor="middle">TP7000</text>
<text x="2575.4" y="2074.1" font-size="3.4" text-anchor="middle">TP7001</text>
<text x="2599.4" y="2074.1" font-size="3.4" text-anchor="middle">TP7002</text>
<text x="3253.2" y="1467.6" font-size="3.4" text-anchor="middle">TP1000</text>
<text x="3277" y="1467.6" font-size="3.4" text-anchor="middle">TP1001</text>
<text x="328.7" y="1990.2" font-size="3.4" text-anchor="middle">TP7003</text>
</g>
</svg></body></html>
